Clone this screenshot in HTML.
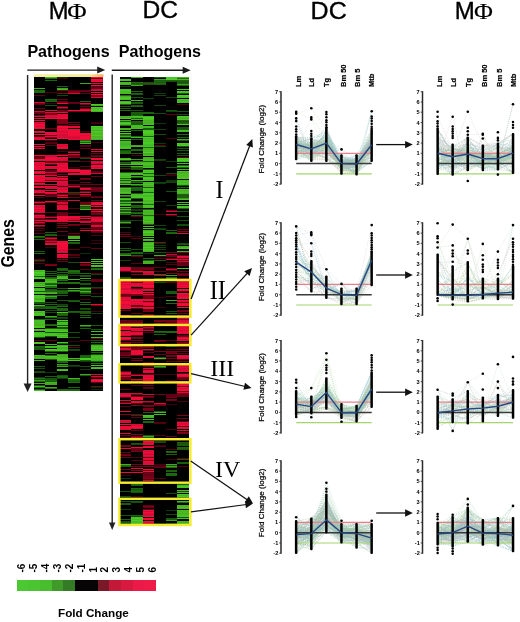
<!DOCTYPE html><html><head><meta charset="utf-8"><style>html,body{margin:0;padding:0;background:#fff}svg{display:block}</style></head><body><svg width="520" height="622" viewBox="0 0 520 622">
<style>
text{font-family:"Liberation Sans",Arial,sans-serif;fill:#000}
.tk{font-size:5.6px;font-weight:bold;text-anchor:middle}
.fc{font-size:8px;text-anchor:middle;stroke:#000;stroke-width:0.22px}
.cl{font-size:7.5px;font-weight:bold;stroke:#000;stroke-width:0.2px}
.ttl{stroke:#000;stroke-width:0.35px}
.phi2{font-family:"Liberation Serif",serif;stroke-width:0.1px}
.phi{font-family:"Liberation Serif",serif;font-size:24.5px}
.path{font-size:15.5px;font-weight:bold}
.rn{font-family:"Liberation Serif",serif;font-size:24px}
.lg{font-size:10px;font-weight:bold}
</style>
<defs><filter id="bl" x="-5%" y="-2%" width="110%" height="104%"><feGaussianBlur stdDeviation="0.65 0.45"/></filter></defs>
<rect width="520" height="622" fill="#fff"/>
<text class="ttl" transform="translate(48.8,18.6) scale(0.99,1)" style="font-size:24px">M</text>
<text class="ttl phi2" transform="translate(67.3,18.9) scale(1.13,1)" style="font-size:23.5px">Φ</text>
<text class="ttl" transform="translate(142.4,18.1) scale(1.07,1)" style="font-size:23px">DC</text>
<text class="ttl" transform="translate(310.6,18.6) scale(1.06,1)" style="font-size:23.6px">DC</text>
<text class="ttl" transform="translate(454.8,19) scale(1.0,1)" style="font-size:24px">M</text>
<text class="ttl phi2" transform="translate(474.0,19.4) scale(1.1,1)" style="font-size:23.5px">Φ</text>
<text class="path" transform="translate(27.4,56.9) scale(0.975,1)" style="font-size:16.5px">Pathogens</text>
<text class="path" transform="translate(118.8,56.9) scale(0.975,1)" style="font-size:16.5px">Pathogens</text>
<line x1="27.3" y1="70.1" x2="98.2" y2="70.1" stroke="#1a1a1a" stroke-width="1.40"/><polygon points="105.2,70.1 97.2,73.6 97.2,66.6" fill="#1a1a1a"/>
<line x1="111.8" y1="70.3" x2="183.7" y2="70.3" stroke="#1a1a1a" stroke-width="1.40"/><polygon points="190.7,70.3 182.7,73.8 182.7,66.8" fill="#1a1a1a"/>
<line x1="27.6" y1="75.0" x2="27.6" y2="384.5" stroke="#222" stroke-width="1.40"/><polygon points="27.6,392.0 23.6,383.5 31.6,383.5" fill="#222"/>
<line x1="112.2" y1="74.4" x2="112.2" y2="523.5" stroke="#222" stroke-width="1.40"/><polygon points="112.2,530.0 109.0,522.5 115.4,522.5" fill="#222"/>
<text class="path" style="font-size:17.6px" transform="translate(13.9,267.6) rotate(-90) scale(0.9,1)">Genes</text>
<linearGradient id="yb" x1="0" x2="1" y1="0" y2="0"><stop offset="0" stop-color="#f4f0a4"/><stop offset="0.8" stop-color="#f4ec90"/><stop offset="1" stop-color="#f2b060"/></linearGradient>
<rect x="33.8" y="74.2" width="69.6" height="2.8" fill="url(#yb)"/>
<g shape-rendering="crispEdges" filter="url(#bl)"><path fill="#050303" d="M34 77h11v1h-11zM34 78h11v1h-11zM34 79h11v1h-11zM34 80h11v1h-11zM45 79h12v1h-12zM57 79h11v1h-11zM57 80h11v1h-11zM68 77h12v1h-12zM68 78h12v1h-12zM68 79h12v1h-12zM68 80h12v1h-12zM80 77h11v1h-11zM80 78h11v1h-11zM80 79h11v1h-11zM80 80h11v1h-11zM34 81h11v1h-11zM34 82h11v1h-11zM34 83h11v1h-11zM34 84h11v1h-11zM34 85h11v1h-11zM45 81h12v1h-12zM45 82h12v1h-12zM45 83h12v1h-12zM45 84h12v1h-12zM45 85h12v1h-12zM57 81h11v1h-11zM57 82h11v1h-11zM57 83h11v1h-11zM57 84h11v1h-11zM57 85h11v1h-11zM68 81h12v1h-12zM68 82h12v1h-12zM68 83h12v1h-12zM68 84h12v1h-12zM68 85h12v1h-12zM80 81h11v1h-11zM80 82h11v1h-11zM80 84h11v1h-11zM80 85h11v1h-11zM91 82h12v1h-12zM91 84h12v1h-12zM34 86h11v1h-11zM34 87h11v1h-11zM34 89h11v1h-11zM45 86h12v1h-12zM45 87h12v1h-12zM45 88h12v1h-12zM45 89h12v1h-12zM57 87h11v1h-11zM68 86h12v1h-12zM68 87h12v1h-12zM68 88h12v1h-12zM68 89h12v1h-12zM80 86h11v1h-11zM80 87h11v1h-11zM80 88h11v1h-11zM80 89h11v1h-11zM34 93h11v1h-11zM34 94h11v1h-11zM45 90h12v1h-12zM45 91h12v1h-12zM45 93h12v1h-12zM45 94h12v1h-12zM57 91h11v1h-11zM57 92h11v1h-11zM57 94h11v1h-11zM68 94h12v1h-12zM80 92h11v1h-11zM80 94h11v1h-11zM91 91h12v1h-12zM91 93h12v1h-12zM34 96h11v1h-11zM34 97h11v1h-11zM45 95h12v1h-12zM45 96h12v1h-12zM45 97h12v1h-12zM57 96h11v1h-11zM57 97h11v1h-11zM68 95h12v1h-12zM68 96h12v1h-12zM68 97h12v1h-12zM80 95h11v1h-11zM80 96h11v1h-11zM80 97h11v1h-11zM34 98h11v1h-11zM34 99h11v1h-11zM34 100h11v1h-11zM34 101h11v1h-11zM45 98h12v1h-12zM57 98h11v1h-11zM57 100h11v1h-11zM68 98h12v1h-12zM68 99h12v1h-12zM68 100h12v1h-12zM68 101h12v1h-12zM80 98h11v1h-11zM80 99h11v1h-11zM80 100h11v1h-11zM91 98h12v1h-12zM91 99h12v1h-12zM91 100h12v1h-12zM91 101h12v1h-12zM45 102h12v1h-12zM80 102h11v1h-11zM91 102h12v1h-12zM91 103h12v1h-12zM34 105h11v1h-11zM34 106h11v1h-11zM34 107h11v1h-11zM34 109h11v1h-11zM45 104h12v1h-12zM45 106h12v1h-12zM45 107h12v1h-12zM45 108h12v1h-12zM45 109h12v1h-12zM57 104h11v1h-11zM57 105h11v1h-11zM57 109h11v1h-11zM68 104h12v1h-12zM68 105h12v1h-12zM68 106h12v1h-12zM68 107h12v1h-12zM68 108h12v1h-12zM68 109h12v1h-12zM80 105h11v1h-11zM80 107h11v1h-11zM91 106h12v1h-12zM34 110h11v1h-11zM45 111h12v1h-12zM34 114h11v1h-11zM57 113h11v1h-11zM68 112h12v1h-12zM68 113h12v1h-12zM68 114h12v1h-12zM68 115h12v1h-12zM80 112h11v1h-11zM80 113h11v1h-11zM80 114h11v1h-11zM80 115h11v1h-11zM91 112h12v1h-12zM91 113h12v1h-12zM91 114h12v1h-12zM91 115h12v1h-12zM34 117h11v1h-11zM34 119h11v1h-11zM45 119h12v1h-12zM68 116h12v1h-12zM68 117h12v1h-12zM68 118h12v1h-12zM68 119h12v1h-12zM80 116h11v1h-11zM80 117h11v1h-11zM80 118h11v1h-11zM80 119h11v1h-11zM91 116h12v1h-12zM91 117h12v1h-12zM91 118h12v1h-12zM91 119h12v1h-12zM34 121h11v1h-11zM45 120h12v1h-12zM45 121h12v1h-12zM45 122h12v1h-12zM45 123h12v1h-12zM45 124h12v1h-12zM45 125h12v1h-12zM57 124h11v1h-11zM68 120h12v1h-12zM68 121h12v1h-12zM68 123h12v1h-12zM68 125h12v1h-12zM80 120h11v1h-11zM80 121h11v1h-11zM80 122h11v1h-11zM80 123h11v1h-11zM80 124h11v1h-11zM80 125h11v1h-11zM91 120h12v1h-12zM91 121h12v1h-12zM91 124h12v1h-12zM91 125h12v1h-12zM34 129h11v1h-11zM34 130h11v1h-11zM45 126h12v1h-12zM45 127h12v1h-12zM45 130h12v1h-12zM45 131h12v1h-12zM68 128h12v1h-12zM80 126h11v1h-11zM80 127h11v1h-11zM80 128h11v1h-11zM80 129h11v1h-11zM80 130h11v1h-11zM34 133h11v1h-11zM34 135h11v1h-11zM45 138h12v1h-12zM57 139h11v1h-11zM80 132h11v1h-11zM34 140h11v1h-11zM34 141h11v1h-11zM34 142h11v1h-11zM34 143h11v1h-11zM45 141h12v1h-12zM57 140h11v1h-11zM57 141h11v1h-11zM57 142h11v1h-11zM57 143h11v1h-11zM68 140h12v1h-12zM68 141h12v1h-12zM68 142h12v1h-12zM68 143h12v1h-12zM91 140h12v1h-12zM91 141h12v1h-12zM91 143h12v1h-12zM34 145h11v1h-11zM45 144h12v1h-12zM45 146h12v1h-12zM45 147h12v1h-12zM45 148h12v1h-12zM68 144h12v1h-12zM68 145h12v1h-12zM68 146h12v1h-12zM68 147h12v1h-12zM68 148h12v1h-12zM80 144h11v1h-11zM80 147h11v1h-11zM91 144h12v1h-12zM91 145h12v1h-12zM91 146h12v1h-12zM91 147h12v1h-12zM91 148h12v1h-12zM34 149h11v1h-11zM34 150h11v1h-11zM34 151h11v1h-11zM34 152h11v1h-11zM34 153h11v1h-11zM34 154h11v1h-11zM45 149h12v1h-12zM45 150h12v1h-12zM45 151h12v1h-12zM45 152h12v1h-12zM45 153h12v1h-12zM45 154h12v1h-12zM57 149h11v1h-11zM57 150h11v1h-11zM57 152h11v1h-11zM57 153h11v1h-11zM68 149h12v1h-12zM68 150h12v1h-12zM68 153h12v1h-12zM80 149h11v1h-11zM80 150h11v1h-11zM80 151h11v1h-11zM80 152h11v1h-11zM80 153h11v1h-11zM80 154h11v1h-11zM91 150h12v1h-12zM91 152h12v1h-12zM91 154h12v1h-12zM57 156h11v1h-11zM80 155h11v1h-11zM80 156h11v1h-11zM91 157h12v1h-12zM34 161h11v1h-11zM68 158h12v1h-12zM68 159h12v1h-12zM68 162h12v1h-12zM80 159h11v1h-11zM80 160h11v1h-11zM80 162h11v1h-11zM91 160h12v1h-12zM45 165h12v1h-12zM68 163h12v1h-12zM68 164h12v1h-12zM68 165h12v1h-12zM68 166h12v1h-12zM68 168h12v1h-12zM80 163h11v1h-11zM80 164h11v1h-11zM80 165h11v1h-11zM80 167h11v1h-11zM80 168h11v1h-11zM34 170h11v1h-11zM34 174h11v1h-11zM45 169h12v1h-12zM57 173h11v1h-11zM91 169h12v1h-12zM91 170h12v1h-12zM91 174h12v1h-12zM45 176h12v1h-12zM57 175h11v1h-11zM68 175h12v1h-12zM68 176h12v1h-12zM68 177h12v1h-12zM80 175h11v1h-11zM80 176h11v1h-11zM80 177h11v1h-11zM91 175h12v1h-12zM91 177h12v1h-12zM45 182h12v1h-12zM45 183h12v1h-12zM68 178h12v1h-12zM68 179h12v1h-12zM68 181h12v1h-12zM68 182h12v1h-12zM68 183h12v1h-12zM80 180h11v1h-11zM80 181h11v1h-11zM80 183h11v1h-11zM91 178h12v1h-12zM91 179h12v1h-12zM91 180h12v1h-12zM91 181h12v1h-12zM91 182h12v1h-12zM91 183h12v1h-12zM34 185h11v1h-11zM45 185h12v1h-12zM80 185h11v1h-11zM80 186h11v1h-11zM91 185h12v1h-12zM91 186h12v1h-12zM34 188h11v1h-11zM45 189h12v1h-12zM45 191h12v1h-12zM68 188h12v1h-12zM68 189h12v1h-12zM68 190h12v1h-12zM68 191h12v1h-12zM80 190h11v1h-11zM91 192h12v1h-12zM34 194h11v1h-11zM34 196h11v1h-11zM57 193h11v1h-11zM68 195h12v1h-12zM68 196h12v1h-12zM80 193h11v1h-11zM91 193h12v1h-12zM91 194h12v1h-12zM91 195h12v1h-12zM34 198h11v1h-11zM34 199h11v1h-11zM34 200h11v1h-11zM45 197h12v1h-12zM45 198h12v1h-12zM45 199h12v1h-12zM45 200h12v1h-12zM57 198h11v1h-11zM57 199h11v1h-11zM68 198h12v1h-12zM68 199h12v1h-12zM80 197h11v1h-11zM80 198h11v1h-11zM80 199h11v1h-11zM80 200h11v1h-11zM91 198h12v1h-12zM91 199h12v1h-12zM34 204h11v1h-11zM45 203h12v1h-12zM45 204h12v1h-12zM68 201h12v1h-12zM68 202h12v1h-12zM68 203h12v1h-12zM68 204h12v1h-12zM80 201h11v1h-11zM91 201h12v1h-12zM45 205h12v1h-12zM45 206h12v1h-12zM45 207h12v1h-12zM45 208h12v1h-12zM45 209h12v1h-12zM68 205h12v1h-12zM68 206h12v1h-12zM68 207h12v1h-12zM68 209h12v1h-12zM91 207h12v1h-12zM91 208h12v1h-12zM34 213h11v1h-11zM45 210h12v1h-12zM45 211h12v1h-12zM45 213h12v1h-12zM45 214h12v1h-12zM45 215h12v1h-12zM57 210h11v1h-11zM57 211h11v1h-11zM68 210h12v1h-12zM68 211h12v1h-12zM68 212h12v1h-12zM68 214h12v1h-12zM68 215h12v1h-12zM80 210h11v1h-11zM80 211h11v1h-11zM80 212h11v1h-11zM80 213h11v1h-11zM80 214h11v1h-11zM80 215h11v1h-11zM91 215h12v1h-12zM45 218h12v1h-12zM80 219h11v1h-11zM34 224h11v1h-11zM45 222h12v1h-12zM45 223h12v1h-12zM45 224h12v1h-12zM45 225h12v1h-12zM45 226h12v1h-12zM57 222h11v1h-11zM57 224h11v1h-11zM57 226h11v1h-11zM68 222h12v1h-12zM68 223h12v1h-12zM68 226h12v1h-12zM80 223h11v1h-11zM80 225h11v1h-11zM80 226h11v1h-11zM34 227h11v1h-11zM34 229h11v1h-11zM34 231h11v1h-11zM45 227h12v1h-12zM45 228h12v1h-12zM45 229h12v1h-12zM45 230h12v1h-12zM45 231h12v1h-12zM57 228h11v1h-11zM57 229h11v1h-11zM57 230h11v1h-11zM68 227h12v1h-12zM68 228h12v1h-12zM68 229h12v1h-12zM68 230h12v1h-12zM68 231h12v1h-12zM80 227h11v1h-11zM80 229h11v1h-11zM80 231h11v1h-11zM34 232h11v1h-11zM34 234h11v1h-11zM34 235h11v1h-11zM45 233h12v1h-12zM57 232h11v1h-11zM57 233h11v1h-11zM57 234h11v1h-11zM68 232h12v1h-12zM68 234h12v1h-12zM80 232h11v1h-11zM80 233h11v1h-11zM80 234h11v1h-11zM80 235h11v1h-11zM91 233h12v1h-12zM91 234h12v1h-12zM34 238h11v1h-11zM34 240h11v1h-11zM45 236h12v1h-12zM57 236h11v1h-11zM57 237h11v1h-11zM57 238h11v1h-11zM57 239h11v1h-11zM57 240h11v1h-11zM68 239h12v1h-12zM80 236h11v1h-11zM80 237h11v1h-11zM80 238h11v1h-11zM80 239h11v1h-11zM80 240h11v1h-11zM91 236h12v1h-12zM91 237h12v1h-12zM91 238h12v1h-12zM91 239h12v1h-12zM34 241h11v1h-11zM34 242h11v1h-11zM34 243h11v1h-11zM34 244h11v1h-11zM68 241h12v1h-12zM68 244h12v1h-12zM80 241h11v1h-11zM80 242h11v1h-11zM80 243h11v1h-11zM80 244h11v1h-11zM91 241h12v1h-12zM91 242h12v1h-12zM91 244h12v1h-12zM34 245h11v1h-11zM34 246h11v1h-11zM34 247h11v1h-11zM34 248h11v1h-11zM34 249h11v1h-11zM45 245h12v1h-12zM45 246h12v1h-12zM45 248h12v1h-12zM45 249h12v1h-12zM68 245h12v1h-12zM68 246h12v1h-12zM68 247h12v1h-12zM68 248h12v1h-12zM80 245h11v1h-11zM80 246h11v1h-11zM80 248h11v1h-11zM80 249h11v1h-11zM91 245h12v1h-12zM91 246h12v1h-12zM91 247h12v1h-12zM91 249h12v1h-12zM34 250h11v1h-11zM34 252h11v1h-11zM45 250h12v1h-12zM45 251h12v1h-12zM45 252h12v1h-12zM45 253h12v1h-12zM57 253h11v1h-11zM68 250h12v1h-12zM68 251h12v1h-12zM68 252h12v1h-12zM68 253h12v1h-12zM80 250h11v1h-11zM80 251h11v1h-11zM80 252h11v1h-11zM91 250h12v1h-12zM91 251h12v1h-12zM91 252h12v1h-12zM91 253h12v1h-12zM34 254h11v1h-11zM34 255h11v1h-11zM34 256h11v1h-11zM34 257h11v1h-11zM34 258h11v1h-11zM45 254h12v1h-12zM45 255h12v1h-12zM45 256h12v1h-12zM45 257h12v1h-12zM45 258h12v1h-12zM57 258h11v1h-11zM68 256h12v1h-12zM68 258h12v1h-12zM80 254h11v1h-11zM80 255h11v1h-11zM80 256h11v1h-11zM80 257h11v1h-11zM80 258h11v1h-11zM91 254h12v1h-12zM91 255h12v1h-12zM91 256h12v1h-12zM91 257h12v1h-12zM91 258h12v1h-12zM45 259h12v1h-12zM45 260h12v1h-12zM45 261h12v1h-12zM57 260h11v1h-11zM68 259h12v1h-12zM68 260h12v1h-12zM68 261h12v1h-12zM80 259h11v1h-11zM80 260h11v1h-11zM80 261h11v1h-11zM91 260h12v1h-12zM34 262h11v1h-11zM34 264h11v1h-11zM34 265h11v1h-11zM45 262h12v1h-12zM45 263h12v1h-12zM57 262h11v1h-11zM57 263h11v1h-11zM57 264h11v1h-11zM57 265h11v1h-11zM68 263h12v1h-12zM68 264h12v1h-12zM68 265h12v1h-12zM80 263h11v1h-11zM91 262h12v1h-12zM91 264h12v1h-12zM34 266h11v1h-11zM34 267h11v1h-11zM34 268h11v1h-11zM34 269h11v1h-11zM45 266h12v1h-12zM45 267h12v1h-12zM45 268h12v1h-12zM45 269h12v1h-12zM57 266h11v1h-11zM57 267h11v1h-11zM68 266h12v1h-12zM68 267h12v1h-12zM68 268h12v1h-12zM68 269h12v1h-12zM80 266h11v1h-11zM80 267h11v1h-11zM80 268h11v1h-11zM91 267h12v1h-12zM45 270h12v1h-12zM45 272h12v1h-12zM45 274h12v1h-12zM57 271h11v1h-11zM57 273h11v1h-11zM68 274h12v1h-12zM80 270h11v1h-11zM80 271h11v1h-11zM80 272h11v1h-11zM80 274h11v1h-11zM91 270h12v1h-12zM91 271h12v1h-12zM91 272h12v1h-12zM45 276h12v1h-12zM68 276h12v1h-12zM68 277h12v1h-12zM68 278h12v1h-12zM80 277h11v1h-11zM91 275h12v1h-12zM91 276h12v1h-12zM91 277h12v1h-12zM91 278h12v1h-12zM34 279h11v1h-11zM34 280h11v1h-11zM34 281h11v1h-11zM57 281h11v1h-11zM68 280h12v1h-12zM68 281h12v1h-12zM80 279h11v1h-11zM80 281h11v1h-11zM80 282h11v1h-11zM91 282h12v1h-12zM91 283h12v1h-12zM34 287h11v1h-11zM57 284h11v1h-11zM57 285h11v1h-11zM57 286h11v1h-11zM57 287h11v1h-11zM68 284h12v1h-12zM68 285h12v1h-12zM68 286h12v1h-12zM68 287h12v1h-12zM80 285h11v1h-11zM80 286h11v1h-11zM91 284h12v1h-12zM91 285h12v1h-12zM91 286h12v1h-12zM45 288h12v1h-12zM57 289h11v1h-11zM68 289h12v1h-12zM68 292h12v1h-12zM91 289h12v1h-12zM91 290h12v1h-12zM91 291h12v1h-12zM91 292h12v1h-12zM34 294h11v1h-11zM45 294h12v1h-12zM57 294h11v1h-11zM57 296h11v1h-11zM68 293h12v1h-12zM68 294h12v1h-12zM68 295h12v1h-12zM68 296h12v1h-12zM80 294h11v1h-11zM80 296h11v1h-11zM91 294h12v1h-12zM91 295h12v1h-12zM45 299h12v1h-12zM45 300h12v1h-12zM45 301h12v1h-12zM57 297h11v1h-11zM57 298h11v1h-11zM57 299h11v1h-11zM57 301h11v1h-11zM68 297h12v1h-12zM68 298h12v1h-12zM68 299h12v1h-12zM80 297h11v1h-11zM80 298h11v1h-11zM80 300h11v1h-11zM80 301h11v1h-11zM91 297h12v1h-12zM91 298h12v1h-12zM91 299h12v1h-12zM91 300h12v1h-12zM91 301h12v1h-12zM34 304h11v1h-11zM45 303h12v1h-12zM45 305h12v1h-12zM57 302h11v1h-11zM57 303h11v1h-11zM68 302h12v1h-12zM68 303h12v1h-12zM68 304h12v1h-12zM68 305h12v1h-12zM80 303h11v1h-11zM80 305h11v1h-11zM91 302h12v1h-12zM91 303h12v1h-12zM34 309h11v1h-11zM34 310h11v1h-11zM45 309h12v1h-12zM57 307h11v1h-11zM68 306h12v1h-12zM68 307h12v1h-12zM68 308h12v1h-12zM68 309h12v1h-12zM68 310h12v1h-12zM80 306h11v1h-11zM80 307h11v1h-11zM80 310h11v1h-11zM91 306h12v1h-12zM91 307h12v1h-12zM91 308h12v1h-12zM91 309h12v1h-12zM91 310h12v1h-12zM45 311h12v1h-12zM45 313h12v1h-12zM45 314h12v1h-12zM45 315h12v1h-12zM57 311h11v1h-11zM68 313h12v1h-12zM68 314h12v1h-12zM68 315h12v1h-12zM80 314h11v1h-11zM91 312h12v1h-12zM91 314h12v1h-12zM91 315h12v1h-12zM34 316h11v1h-11zM34 317h11v1h-11zM34 318h11v1h-11zM45 318h12v1h-12zM57 316h11v1h-11zM57 319h11v1h-11zM68 316h12v1h-12zM68 317h12v1h-12zM68 318h12v1h-12zM68 319h12v1h-12zM80 316h11v1h-11zM80 318h11v1h-11zM80 319h11v1h-11zM91 316h12v1h-12zM91 317h12v1h-12zM91 318h12v1h-12zM91 319h12v1h-12zM45 320h12v1h-12zM45 321h12v1h-12zM45 322h12v1h-12zM45 323h12v1h-12zM68 320h12v1h-12zM68 321h12v1h-12zM68 322h12v1h-12zM68 323h12v1h-12zM68 324h12v1h-12zM80 320h11v1h-11zM80 321h11v1h-11zM80 322h11v1h-11zM80 323h11v1h-11zM80 324h11v1h-11zM91 320h12v1h-12zM91 321h12v1h-12zM91 322h12v1h-12zM91 323h12v1h-12zM91 324h12v1h-12zM34 328h11v1h-11zM45 326h12v1h-12zM45 327h12v1h-12zM68 325h12v1h-12zM68 326h12v1h-12zM68 327h12v1h-12zM68 328h12v1h-12zM80 327h11v1h-11zM91 326h12v1h-12zM91 327h12v1h-12zM91 328h12v1h-12zM34 331h11v1h-11zM68 329h12v1h-12zM68 330h12v1h-12zM68 331h12v1h-12zM68 333h12v1h-12zM80 329h11v1h-11zM80 330h11v1h-11zM80 331h11v1h-11zM80 332h11v1h-11zM80 333h11v1h-11zM91 330h12v1h-12zM91 332h12v1h-12zM91 333h12v1h-12zM45 337h12v1h-12zM68 334h12v1h-12zM68 335h12v1h-12zM68 336h12v1h-12zM80 334h11v1h-11zM80 335h11v1h-11zM80 336h11v1h-11zM80 337h11v1h-11zM91 335h12v1h-12zM91 336h12v1h-12zM34 338h11v1h-11zM34 339h11v1h-11zM34 341h11v1h-11zM45 338h12v1h-12zM45 339h12v1h-12zM45 341h12v1h-12zM57 338h11v1h-11zM57 339h11v1h-11zM57 340h11v1h-11zM57 341h11v1h-11zM68 338h12v1h-12zM68 339h12v1h-12zM68 340h12v1h-12zM80 338h11v1h-11zM80 339h11v1h-11zM80 341h11v1h-11zM91 339h12v1h-12zM91 341h12v1h-12zM34 344h11v1h-11zM34 345h11v1h-11zM45 342h12v1h-12zM45 343h12v1h-12zM45 345h12v1h-12zM57 344h11v1h-11zM68 342h12v1h-12zM68 343h12v1h-12zM68 344h12v1h-12zM80 342h11v1h-11zM80 343h11v1h-11zM80 344h11v1h-11zM80 345h11v1h-11zM91 343h12v1h-12zM34 350h11v1h-11zM45 348h12v1h-12zM68 346h12v1h-12zM68 348h12v1h-12zM80 346h11v1h-11zM80 347h11v1h-11zM80 348h11v1h-11zM80 349h11v1h-11zM80 350h11v1h-11zM34 351h11v1h-11zM34 352h11v1h-11zM34 353h11v1h-11zM34 354h11v1h-11zM45 352h12v1h-12zM45 354h12v1h-12zM57 352h11v1h-11zM57 353h11v1h-11zM68 351h12v1h-12zM68 352h12v1h-12zM68 353h12v1h-12zM68 354h12v1h-12zM80 351h11v1h-11zM80 352h11v1h-11zM80 353h11v1h-11zM80 354h11v1h-11zM91 351h12v1h-12zM91 353h12v1h-12zM68 355h12v1h-12zM68 356h12v1h-12zM68 357h12v1h-12zM34 359h11v1h-11zM45 360h12v1h-12zM34 361h11v1h-11zM34 362h11v1h-11zM34 363h11v1h-11zM34 364h11v1h-11zM45 361h12v1h-12zM45 362h12v1h-12zM45 363h12v1h-12zM45 364h12v1h-12zM57 363h11v1h-11zM68 361h12v1h-12zM68 362h12v1h-12zM68 363h12v1h-12zM68 364h12v1h-12zM80 362h11v1h-11zM80 363h11v1h-11zM80 364h11v1h-11zM91 362h12v1h-12zM91 364h12v1h-12zM34 365h11v1h-11zM34 367h11v1h-11zM45 365h12v1h-12zM45 366h12v1h-12zM45 367h12v1h-12zM45 368h12v1h-12zM57 367h11v1h-11zM57 368h11v1h-11zM68 367h12v1h-12zM68 368h12v1h-12zM80 365h11v1h-11zM80 367h11v1h-11zM80 368h11v1h-11zM91 366h12v1h-12zM34 369h11v1h-11zM34 370h11v1h-11zM34 373h11v1h-11zM45 369h12v1h-12zM45 370h12v1h-12zM45 371h12v1h-12zM45 373h12v1h-12zM57 371h11v1h-11zM57 372h11v1h-11zM57 373h11v1h-11zM68 369h12v1h-12zM68 370h12v1h-12zM68 371h12v1h-12zM68 372h12v1h-12zM68 373h12v1h-12zM80 370h11v1h-11zM80 371h11v1h-11zM80 372h11v1h-11zM80 373h11v1h-11zM91 369h12v1h-12zM91 370h12v1h-12zM91 371h12v1h-12zM91 372h12v1h-12zM91 373h12v1h-12zM34 374h11v1h-11zM34 375h11v1h-11zM34 376h11v1h-11zM45 374h12v1h-12zM45 375h12v1h-12zM45 377h12v1h-12zM57 374h11v1h-11zM68 374h12v1h-12zM68 375h12v1h-12zM68 376h12v1h-12zM68 377h12v1h-12zM80 376h11v1h-11zM80 377h11v1h-11zM91 375h12v1h-12zM34 382h11v1h-11zM57 379h11v1h-11zM57 380h11v1h-11zM57 381h11v1h-11zM57 382h11v1h-11zM80 378h11v1h-11zM80 379h11v1h-11zM80 380h11v1h-11zM80 381h11v1h-11zM80 382h11v1h-11zM91 378h12v1h-12zM34 384h11v1h-11zM45 385h12v1h-12zM45 386h12v1h-12zM57 383h11v1h-11zM57 384h11v1h-11zM57 385h11v1h-11zM57 386h11v1h-11zM68 383h12v1h-12zM68 384h12v1h-12zM68 385h12v1h-12zM68 386h12v1h-12zM80 383h11v1h-11zM80 384h11v1h-11zM80 385h11v1h-11zM80 386h11v1h-11zM91 383h12v1h-12zM91 384h12v1h-12zM91 385h12v1h-12zM34 388h11v1h-11zM45 389h12v1h-12zM45 390h12v1h-12zM57 387h11v1h-11zM57 388h11v1h-11zM68 388h12v1h-12zM80 387h11v1h-11zM80 388h11v1h-11zM80 389h11v1h-11zM80 390h11v1h-11zM91 388h12v1h-12zM91 390h12v1h-12z"/>
<path fill="#41b923" d="M45 77h12v1h-12zM80 143h11v1h-11zM34 282h11v1h-11zM45 282h12v1h-12zM68 279h12v1h-12zM45 285h12v1h-12zM80 288h11v1h-11zM80 291h11v1h-11zM57 323h11v1h-11zM45 344h12v1h-12zM45 347h12v1h-12zM91 349h12v1h-12zM91 358h12v1h-12zM57 369h11v1h-11zM45 382h12v1h-12zM68 378h12v1h-12z"/>
<path fill="#19690f" d="M45 78h12v1h-12zM45 80h12v1h-12zM34 90h11v1h-11zM34 92h11v1h-11zM80 140h11v1h-11zM80 142h11v1h-11zM34 239h11v1h-11zM57 269h11v1h-11zM91 268h12v1h-12zM45 273h12v1h-12zM57 272h11v1h-11zM68 270h12v1h-12zM80 273h11v1h-11zM34 276h11v1h-11zM80 287h11v1h-11zM57 291h11v1h-11zM68 291h12v1h-12zM80 302h11v1h-11zM45 308h12v1h-12zM57 309h11v1h-11zM57 310h11v1h-11zM68 311h12v1h-12zM34 319h11v1h-11zM57 343h11v1h-11zM34 346h11v1h-11zM80 356h11v1h-11zM57 361h11v1h-11zM57 376h11v1h-11zM57 377h11v1h-11zM34 381h11v1h-11zM45 380h12v1h-12zM34 387h11v1h-11zM68 387h12v1h-12zM68 390h12v1h-12z"/>
<path fill="#0f2d0f" d="M57 77h11v1h-11zM80 253h11v1h-11zM91 389h12v1h-12z"/>
<path fill="#41050f" d="M57 78h11v1h-11zM45 103h12v1h-12zM45 129h12v1h-12zM91 142h12v1h-12zM57 151h11v1h-11zM68 167h12v1h-12zM68 180h12v1h-12zM68 213h12v1h-12zM91 311h12v1h-12z"/>
<path fill="#eb0f41" d="M91 77h12v1h-12zM68 130h12v1h-12zM45 132h12v1h-12zM91 165h12v1h-12zM34 175h11v1h-11zM34 179h11v1h-11zM34 181h11v1h-11zM57 181h11v1h-11zM34 215h11v1h-11z"/>
<path fill="#5f0519" d="M91 78h12v1h-12zM91 86h12v1h-12zM91 87h12v1h-12zM68 90h12v1h-12zM80 90h11v1h-11zM80 93h11v1h-11zM34 95h11v1h-11zM57 99h11v1h-11zM57 101h11v1h-11zM68 102h12v1h-12zM68 103h12v1h-12zM34 104h11v1h-11zM57 106h11v1h-11zM34 113h11v1h-11zM34 136h11v1h-11zM34 147h11v1h-11zM80 145h11v1h-11zM80 148h11v1h-11zM57 154h11v1h-11zM68 156h12v1h-12zM91 155h12v1h-12zM34 158h11v1h-11zM57 161h11v1h-11zM80 166h11v1h-11zM45 170h12v1h-12zM45 171h12v1h-12zM91 171h12v1h-12zM91 172h12v1h-12zM57 177h11v1h-11zM91 176h12v1h-12zM80 179h11v1h-11zM57 186h11v1h-11zM68 185h12v1h-12zM68 187h12v1h-12zM80 184h11v1h-11zM91 187h12v1h-12zM34 189h11v1h-11zM91 190h12v1h-12zM91 191h12v1h-12zM34 193h11v1h-11zM45 194h12v1h-12zM45 195h12v1h-12zM91 200h12v1h-12zM34 203h11v1h-11zM91 205h12v1h-12zM34 214h11v1h-11zM57 212h11v1h-11zM57 215h11v1h-11zM91 210h12v1h-12zM91 214h12v1h-12zM34 221h11v1h-11zM45 216h12v1h-12zM80 217h11v1h-11zM68 225h12v1h-12zM91 227h12v1h-12zM91 229h12v1h-12zM68 233h12v1h-12zM68 235h12v1h-12zM45 239h12v1h-12zM91 248h12v1h-12zM91 279h12v1h-12zM91 281h12v1h-12zM45 340h12v1h-12zM91 338h12v1h-12zM91 377h12v1h-12z"/>
<path fill="#f50f37" d="M91 79h12v1h-12zM91 81h12v1h-12zM91 92h12v1h-12zM68 110h12v1h-12zM80 110h11v1h-11zM45 118h12v1h-12zM57 118h11v1h-11zM34 124h11v1h-11zM34 127h11v1h-11zM34 131h11v1h-11zM57 126h11v1h-11zM57 127h11v1h-11zM68 131h12v1h-12zM34 134h11v1h-11zM34 138h11v1h-11zM57 133h11v1h-11zM57 138h11v1h-11zM68 132h12v1h-12zM68 134h12v1h-12zM80 134h11v1h-11zM80 137h11v1h-11zM80 139h11v1h-11zM57 147h11v1h-11zM34 155h11v1h-11zM57 155h11v1h-11zM34 159h11v1h-11zM45 159h12v1h-12zM91 158h12v1h-12zM57 165h11v1h-11zM91 166h12v1h-12zM34 172h11v1h-11zM68 169h12v1h-12zM68 171h12v1h-12zM68 173h12v1h-12zM80 172h11v1h-11zM34 176h11v1h-11zM45 192h12v1h-12zM57 190h11v1h-11zM34 208h11v1h-11zM91 209h12v1h-12zM57 217h11v1h-11zM57 218h11v1h-11zM68 217h12v1h-12zM57 241h11v1h-11zM57 244h11v1h-11zM57 246h11v1h-11zM57 248h11v1h-11z"/>
<path fill="#e10f41" d="M91 80h12v1h-12zM45 133h12v1h-12zM45 136h12v1h-12zM45 139h12v1h-12zM80 138h11v1h-11zM45 157h12v1h-12zM91 162h12v1h-12zM68 174h12v1h-12zM34 191h11v1h-11zM68 216h12v1h-12zM80 218h11v1h-11zM57 251h11v1h-11zM91 381h12v1h-12z"/>
<path fill="#41a523" d="M80 83h11v1h-11zM57 88h11v1h-11zM80 278h11v1h-11zM68 290h12v1h-12zM57 354h11v1h-11zM80 374h11v1h-11z"/>
<path fill="#e10f37" d="M91 83h12v1h-12zM80 103h11v1h-11zM45 110h12v1h-12zM57 114h11v1h-11zM57 115h11v1h-11zM34 118h11v1h-11zM57 116h11v1h-11zM34 122h11v1h-11zM34 126h11v1h-11zM68 127h12v1h-12zM34 139h11v1h-11zM68 136h12v1h-12zM68 138h12v1h-12zM68 139h12v1h-12zM80 135h11v1h-11zM57 144h11v1h-11zM57 148h11v1h-11zM34 160h11v1h-11zM45 160h12v1h-12zM57 159h11v1h-11zM34 163h11v1h-11zM34 164h11v1h-11zM34 168h11v1h-11zM45 168h12v1h-12zM57 167h11v1h-11zM34 173h11v1h-11zM57 170h11v1h-11zM80 174h11v1h-11zM34 178h11v1h-11zM57 179h11v1h-11zM34 186h11v1h-11zM57 188h11v1h-11zM80 189h11v1h-11zM57 195h11v1h-11zM91 202h12v1h-12zM34 207h11v1h-11zM57 206h11v1h-11zM57 207h11v1h-11zM57 208h11v1h-11zM57 209h11v1h-11zM34 211h11v1h-11zM34 217h11v1h-11zM34 220h11v1h-11zM45 220h12v1h-12zM57 219h11v1h-11zM68 221h12v1h-12zM91 225h12v1h-12zM45 244h12v1h-12zM57 242h11v1h-11zM57 249h11v1h-11zM57 256h11v1h-11zM91 379h12v1h-12z"/>
<path fill="#f50f41" d="M91 85h12v1h-12zM45 134h12v1h-12zM34 144h11v1h-11zM45 158h12v1h-12zM34 169h11v1h-11zM57 169h11v1h-11zM80 170h11v1h-11zM91 204h12v1h-12zM34 205h11v1h-11zM57 243h11v1h-11zM57 254h11v1h-11z"/>
<path fill="#41af23" d="M34 88h11v1h-11zM91 105h12v1h-12zM80 205h11v1h-11zM45 280h12v1h-12zM34 285h11v1h-11zM45 296h12v1h-12zM57 334h11v1h-11zM57 345h11v1h-11zM91 345h12v1h-12zM34 356h11v1h-11z"/>
<path fill="#195f0f" d="M57 86h11v1h-11zM45 232h12v1h-12zM68 243h12v1h-12zM57 270h11v1h-11zM68 273h12v1h-12zM45 277h12v1h-12zM45 289h12v1h-12zM45 295h12v1h-12zM57 293h11v1h-11zM57 295h11v1h-11zM68 301h12v1h-12zM45 306h12v1h-12zM80 311h11v1h-11zM80 326h11v1h-11zM80 328h11v1h-11zM34 347h11v1h-11zM57 351h11v1h-11zM91 352h12v1h-12zM80 355h11v1h-11zM80 360h11v1h-11zM91 361h12v1h-12zM34 366h11v1h-11zM57 365h11v1h-11zM45 376h12v1h-12zM45 381h12v1h-12zM68 380h12v1h-12zM34 389h11v1h-11zM68 389h12v1h-12z"/>
<path fill="#4bb923" d="M57 89h11v1h-11zM91 133h12v1h-12zM91 134h12v1h-12zM91 266h12v1h-12zM68 288h12v1h-12zM34 323h11v1h-11zM45 333h12v1h-12zM57 329h11v1h-11zM57 330h11v1h-11zM57 333h11v1h-11zM45 350h12v1h-12zM91 347h12v1h-12zM34 357h11v1h-11zM57 357h11v1h-11zM91 355h12v1h-12zM91 356h12v1h-12zM68 358h12v1h-12z"/>
<path fill="#730519" d="M91 88h12v1h-12zM57 90h11v1h-11zM91 95h12v1h-12zM57 102h11v1h-11zM80 108h11v1h-11zM68 111h12v1h-12zM34 112h11v1h-11zM45 114h12v1h-12zM57 119h11v1h-11zM57 123h11v1h-11zM68 122h12v1h-12zM68 124h12v1h-12zM45 137h12v1h-12zM68 151h12v1h-12zM68 155h12v1h-12zM45 162h12v1h-12zM45 174h12v1h-12zM57 172h11v1h-11zM80 169h11v1h-11zM57 180h11v1h-11zM80 178h11v1h-11zM80 191h11v1h-11zM91 188h12v1h-12zM57 194h11v1h-11zM80 195h11v1h-11zM57 200h11v1h-11zM91 197h12v1h-12zM57 201h11v1h-11zM57 214h11v1h-11zM91 213h12v1h-12zM34 218h11v1h-11zM68 220h12v1h-12zM91 216h12v1h-12zM57 223h11v1h-11zM91 222h12v1h-12zM91 224h12v1h-12zM57 231h11v1h-11zM80 228h11v1h-11zM91 228h12v1h-12zM91 231h12v1h-12zM45 240h12v1h-12zM57 259h11v1h-11zM45 264h12v1h-12zM91 305h12v1h-12z"/>
<path fill="#b90f37" d="M91 89h12v1h-12z"/>
<path fill="#23690f" d="M34 91h11v1h-11zM80 207h11v1h-11zM34 253h11v1h-11zM45 283h12v1h-12zM68 283h12v1h-12zM45 286h12v1h-12zM80 304h11v1h-11zM34 306h11v1h-11zM57 306h11v1h-11zM57 314h11v1h-11zM91 342h12v1h-12zM45 353h12v1h-12zM45 355h12v1h-12zM91 363h12v1h-12zM68 379h12v1h-12zM68 382h12v1h-12zM45 388h12v1h-12zM57 390h11v1h-11z"/>
<path fill="#4b040f" d="M45 92h12v1h-12zM91 235h12v1h-12zM80 247h11v1h-11zM34 261h11v1h-11z"/>
<path fill="#7d0519" d="M57 93h11v1h-11zM68 91h12v1h-12zM68 92h12v1h-12zM91 96h12v1h-12zM34 103h11v1h-11zM80 104h11v1h-11zM57 111h11v1h-11zM45 113h12v1h-12zM57 120h11v1h-11zM57 121h11v1h-11zM57 122h11v1h-11zM57 125h11v1h-11zM45 135h12v1h-12zM68 157h12v1h-12zM80 157h11v1h-11zM91 156h12v1h-12zM57 162h11v1h-11zM80 187h11v1h-11zM91 189h12v1h-12zM45 202h12v1h-12zM57 204h11v1h-11zM80 202h11v1h-11zM80 204h11v1h-11zM34 223h11v1h-11zM34 226h11v1h-11zM57 225h11v1h-11zM68 224h12v1h-12zM57 227h11v1h-11zM45 237h12v1h-12zM45 242h12v1h-12zM45 265h12v1h-12zM80 264h11v1h-11z"/>
<path fill="#cd0f2d" d="M68 93h12v1h-12zM34 102h11v1h-11zM34 222h11v1h-11z"/>
<path fill="#690519" d="M80 91h11v1h-11zM57 108h11v1h-11zM57 110h11v1h-11zM80 111h11v1h-11zM34 115h11v1h-11zM91 153h12v1h-12zM34 156h11v1h-11zM34 157h11v1h-11zM45 161h12v1h-12zM45 164h12v1h-12zM91 164h12v1h-12zM45 173h12v1h-12zM57 174h11v1h-11zM34 182h11v1h-11zM45 180h12v1h-12zM80 182h11v1h-11zM68 184h12v1h-12zM91 184h12v1h-12zM45 196h12v1h-12zM57 196h11v1h-11zM68 193h12v1h-12zM68 194h12v1h-12zM80 196h11v1h-11zM68 197h12v1h-12zM34 201h11v1h-11zM80 203h11v1h-11zM57 213h11v1h-11zM91 212h12v1h-12zM34 219h11v1h-11zM45 219h12v1h-12zM80 220h11v1h-11zM80 224h11v1h-11zM91 223h12v1h-12zM57 261h11v1h-11zM80 265h11v1h-11zM91 280h12v1h-12zM91 382h12v1h-12z"/>
<path fill="#d70f37" d="M91 90h12v1h-12zM57 107h11v1h-11zM80 109h11v1h-11zM45 112h12v1h-12zM45 115h12v1h-12zM45 116h12v1h-12zM34 123h11v1h-11zM57 128h11v1h-11zM57 131h11v1h-11zM34 132h11v1h-11zM34 137h11v1h-11zM57 132h11v1h-11zM57 135h11v1h-11zM57 136h11v1h-11zM57 137h11v1h-11zM34 148h11v1h-11zM57 145h11v1h-11zM57 146h11v1h-11zM68 152h12v1h-12zM91 151h12v1h-12zM45 155h12v1h-12zM57 160h11v1h-11zM34 165h11v1h-11zM45 163h12v1h-12zM45 167h12v1h-12zM91 167h12v1h-12zM45 175h12v1h-12zM45 177h12v1h-12zM57 176h11v1h-11zM45 178h12v1h-12zM45 179h12v1h-12zM45 184h12v1h-12zM45 187h12v1h-12zM68 186h12v1h-12zM34 190h11v1h-11zM45 190h12v1h-12zM57 192h11v1h-11zM80 192h11v1h-11zM45 193h12v1h-12zM68 200h12v1h-12zM34 209h11v1h-11zM57 205h11v1h-11zM34 212h11v1h-11zM68 218h12v1h-12zM68 219h12v1h-12zM80 221h11v1h-11zM91 217h12v1h-12zM91 218h12v1h-12zM91 221h12v1h-12zM91 226h12v1h-12zM91 230h12v1h-12zM45 243h12v1h-12zM57 250h11v1h-11zM57 252h11v1h-11zM57 255h11v1h-11zM57 257h11v1h-11z"/>
<path fill="#eb0f37" d="M91 94h12v1h-12zM57 103h11v1h-11zM57 112h11v1h-11zM34 116h11v1h-11zM57 117h11v1h-11zM34 120h11v1h-11zM34 125h11v1h-11zM34 128h11v1h-11zM57 129h11v1h-11zM57 130h11v1h-11zM68 126h12v1h-12zM68 129h12v1h-12zM68 133h12v1h-12zM68 135h12v1h-12zM80 133h11v1h-11zM80 136h11v1h-11zM34 146h11v1h-11zM57 157h11v1h-11zM34 162h11v1h-11zM57 158h11v1h-11zM91 159h12v1h-12zM34 166h11v1h-11zM34 167h11v1h-11zM45 166h12v1h-12zM57 163h11v1h-11zM57 166h11v1h-11zM57 168h11v1h-11zM91 168h12v1h-12zM34 171h11v1h-11zM57 171h11v1h-11zM68 170h12v1h-12zM80 171h11v1h-11zM80 173h11v1h-11zM34 177h11v1h-11zM34 180h11v1h-11zM34 183h11v1h-11zM45 181h12v1h-12zM57 178h11v1h-11zM34 187h11v1h-11zM45 186h12v1h-12zM34 192h11v1h-11zM57 191h11v1h-11zM80 188h11v1h-11zM34 195h11v1h-11zM57 197h11v1h-11zM34 202h11v1h-11zM91 203h12v1h-12zM91 206h12v1h-12zM34 210h11v1h-11zM57 216h11v1h-11zM57 220h11v1h-11zM91 219h12v1h-12zM91 220h12v1h-12zM57 245h11v1h-11zM57 247h11v1h-11zM80 262h11v1h-11z"/>
<path fill="#0f4b05" d="M57 95h11v1h-11z"/>
<path fill="#cd0f37" d="M91 97h12v1h-12zM45 117h12v1h-12zM57 134h11v1h-11zM68 137h12v1h-12zM91 149h12v1h-12zM91 161h12v1h-12zM91 163h12v1h-12zM91 173h12v1h-12zM34 184h11v1h-11zM57 185h11v1h-11zM57 187h11v1h-11zM57 189h11v1h-11zM34 216h11v1h-11zM45 221h12v1h-12zM57 221h11v1h-11zM34 225h11v1h-11z"/>
<path fill="#19730f" d="M45 99h12v1h-12zM57 280h11v1h-11zM45 287h12v1h-12zM45 298h12v1h-12zM45 317h12v1h-12zM80 317h11v1h-11z"/>
<path fill="#19550f" d="M45 100h12v1h-12zM45 105h12v1h-12zM80 206h11v1h-11zM45 234h12v1h-12zM34 237h11v1h-11zM34 251h11v1h-11zM57 274h11v1h-11zM45 275h12v1h-12zM80 276h11v1h-11zM80 280h11v1h-11zM80 283h11v1h-11zM45 284h12v1h-12zM80 284h11v1h-11zM34 291h11v1h-11zM80 293h11v1h-11zM80 295h11v1h-11zM91 296h12v1h-12zM68 300h12v1h-12zM34 302h11v1h-11zM34 303h11v1h-11zM45 302h12v1h-12zM34 307h11v1h-11zM68 312h12v1h-12zM57 328h11v1h-11zM45 332h12v1h-12zM57 332h11v1h-11zM91 329h12v1h-12zM34 337h11v1h-11zM34 348h11v1h-11zM91 354h12v1h-12zM57 375h11v1h-11zM80 375h11v1h-11zM45 378h12v1h-12zM45 379h12v1h-12z"/>
<path fill="#235f19" d="M45 101h12v1h-12zM45 304h12v1h-12zM57 362h11v1h-11z"/>
<path fill="#195f19" d="M80 101h11v1h-11zM45 235h12v1h-12zM45 290h12v1h-12zM45 307h12v1h-12z"/>
<path fill="#5f0419" d="M34 108h11v1h-11z"/>
<path fill="#550519" d="M80 106h11v1h-11zM80 146h11v1h-11zM68 172h12v1h-12zM34 228h11v1h-11zM68 257h12v1h-12zM34 259h11v1h-11z"/>
<path fill="#4bcd23" d="M91 104h12v1h-12zM91 107h12v1h-12zM91 110h12v1h-12zM91 126h12v1h-12zM91 135h12v1h-12zM34 297h11v1h-11zM34 301h11v1h-11zM57 320h11v1h-11zM34 326h11v1h-11zM57 331h11v1h-11zM34 334h11v1h-11zM57 335h11v1h-11zM45 349h12v1h-12zM57 346h11v1h-11zM57 350h11v1h-11zM80 358h11v1h-11z"/>
<path fill="#4bb92d" d="M91 108h12v1h-12zM91 137h12v1h-12zM91 138h12v1h-12zM34 274h11v1h-11zM57 277h11v1h-11zM34 288h11v1h-11zM34 305h11v1h-11zM34 321h11v1h-11zM57 349h11v1h-11zM91 359h12v1h-12z"/>
<path fill="#4bcd2d" d="M91 109h12v1h-12zM34 272h11v1h-11zM34 278h11v1h-11zM91 348h12v1h-12z"/>
<path fill="#c30f2d" d="M34 111h11v1h-11zM68 154h12v1h-12z"/>
<path fill="#4baf23" d="M91 111h12v1h-12zM91 130h12v1h-12zM80 209h11v1h-11zM68 236h12v1h-12zM68 237h12v1h-12zM68 238h12v1h-12zM34 271h11v1h-11zM57 276h11v1h-11zM45 279h12v1h-12zM34 299h11v1h-11zM34 312h11v1h-11zM34 325h11v1h-11zM80 325h11v1h-11zM34 330h11v1h-11zM57 356h11v1h-11zM34 358h11v1h-11zM34 360h11v1h-11zM45 358h12v1h-12zM57 360h11v1h-11z"/>
<path fill="#370519" d="M91 122h12v1h-12zM68 341h12v1h-12z"/>
<path fill="#4b050f" d="M91 123h12v1h-12zM80 131h11v1h-11zM34 197h11v1h-11zM80 299h11v1h-11zM91 387h12v1h-12z"/>
<path fill="#5f050f" d="M45 128h12v1h-12zM68 249h12v1h-12zM68 347h12v1h-12z"/>
<path fill="#41c323" d="M91 127h12v1h-12zM34 270h11v1h-11zM34 289h11v1h-11zM34 315h11v1h-11zM34 320h11v1h-11zM34 322h11v1h-11zM57 324h11v1h-11zM34 332h11v1h-11zM91 331h12v1h-12zM34 336h11v1h-11zM91 337h12v1h-12zM45 346h12v1h-12zM45 357h12v1h-12zM34 386h11v1h-11z"/>
<path fill="#4bc323" d="M91 128h12v1h-12zM91 132h12v1h-12zM91 263h12v1h-12zM34 275h11v1h-11zM34 277h11v1h-11zM45 281h12v1h-12zM34 284h11v1h-11zM34 290h11v1h-11zM34 293h11v1h-11zM34 296h11v1h-11zM34 300h11v1h-11zM34 314h11v1h-11zM57 312h11v1h-11zM34 327h11v1h-11zM57 326h11v1h-11zM34 329h11v1h-11zM45 329h12v1h-12zM45 331h12v1h-12zM34 335h11v1h-11zM45 335h12v1h-12zM57 337h11v1h-11zM34 343h11v1h-11zM91 350h12v1h-12zM34 355h11v1h-11zM45 356h12v1h-12zM91 357h12v1h-12zM57 358h11v1h-11zM68 360h12v1h-12zM57 370h11v1h-11zM34 390h11v1h-11z"/>
<path fill="#4bc32d" d="M91 129h12v1h-12zM91 131h12v1h-12zM68 240h12v1h-12zM91 259h12v1h-12zM91 261h12v1h-12zM91 265h12v1h-12zM57 278h11v1h-11zM34 292h11v1h-11zM34 313h11v1h-11zM57 342h11v1h-11zM91 346h12v1h-12zM57 359h11v1h-11zM91 365h12v1h-12z"/>
<path fill="#55af23" d="M91 136h12v1h-12zM34 324h11v1h-11z"/>
<path fill="#41af2d" d="M91 139h12v1h-12zM57 347h11v1h-11zM91 360h12v1h-12z"/>
<path fill="#55050f" d="M45 140h12v1h-12zM45 143h12v1h-12zM80 161h11v1h-11zM68 208h12v1h-12zM68 254h12v1h-12zM68 255h12v1h-12zM34 263h11v1h-11zM80 269h11v1h-11zM91 288h12v1h-12zM80 340h11v1h-11z"/>
<path fill="#4b0519" d="M45 142h12v1h-12z"/>
<path fill="#4b9b23" d="M80 141h11v1h-11zM45 292h12v1h-12zM57 366h11v1h-11z"/>
<path fill="#55040f" d="M45 145h12v1h-12zM91 196h12v1h-12zM91 232h12v1h-12zM91 273h12v1h-12z"/>
<path fill="#cd0f41" d="M45 156h12v1h-12zM45 172h12v1h-12zM34 206h11v1h-11z"/>
<path fill="#4b0419" d="M68 160h12v1h-12z"/>
<path fill="#19410f" d="M68 161h12v1h-12zM91 287h12v1h-12zM57 304h11v1h-11zM91 313h12v1h-12zM68 350h12v1h-12z"/>
<path fill="#0f4b0f" d="M80 158h11v1h-11zM34 260h11v1h-11zM68 337h12v1h-12zM68 349h12v1h-12zM68 365h12v1h-12z"/>
<path fill="#d70f41" d="M57 164h11v1h-11zM57 182h11v1h-11zM57 183h11v1h-11zM57 184h11v1h-11zM45 188h12v1h-12zM80 216h11v1h-11z"/>
<path fill="#194b05" d="M68 192h12v1h-12z"/>
<path fill="#d70f2d" d="M80 194h11v1h-11zM91 211h12v1h-12zM91 374h12v1h-12zM91 376h12v1h-12z"/>
<path fill="#eb0f2d" d="M45 201h12v1h-12z"/>
<path fill="#c30f37" d="M57 202h11v1h-11zM45 217h12v1h-12zM80 222h11v1h-11zM45 241h12v1h-12z"/>
<path fill="#e10f2d" d="M57 203h11v1h-11zM80 230h11v1h-11zM45 238h12v1h-12zM91 304h12v1h-12z"/>
<path fill="#235f0f" d="M80 208h11v1h-11zM68 242h12v1h-12zM57 268h11v1h-11zM57 275h11v1h-11zM57 283h11v1h-11zM57 292h11v1h-11zM80 289h11v1h-11zM57 308h11v1h-11zM57 313h11v1h-11zM57 321h11v1h-11zM45 328h12v1h-12zM45 351h12v1h-12zM80 357h11v1h-11zM68 359h12v1h-12zM57 389h11v1h-11z"/>
<path fill="#5f040f" d="M45 212h12v1h-12zM34 340h11v1h-11z"/>
<path fill="#41040f" d="M34 230h11v1h-11zM45 247h12v1h-12z"/>
<path fill="#550419" d="M34 233h11v1h-11z"/>
<path fill="#370419" d="M57 235h11v1h-11z"/>
<path fill="#23730f" d="M34 236h11v1h-11zM91 269h12v1h-12zM68 271h12v1h-12zM45 278h12v1h-12zM68 282h12v1h-12zM80 292h11v1h-11zM45 325h12v1h-12zM34 378h11v1h-11z"/>
<path fill="#37050f" d="M91 240h12v1h-12zM91 293h12v1h-12z"/>
<path fill="#410519" d="M91 243h12v1h-12z"/>
<path fill="#194b0f" d="M68 262h12v1h-12zM45 312h12v1h-12zM57 317h11v1h-11zM57 325h11v1h-11zM45 336h12v1h-12zM68 345h12v1h-12zM34 368h11v1h-11zM80 366h11v1h-11zM34 371h11v1h-11z"/>
<path fill="#41cd23" d="M34 273h11v1h-11zM34 311h11v1h-11zM45 334h12v1h-12zM80 359h11v1h-11z"/>
<path fill="#23550f" d="M45 271h12v1h-12zM68 272h12v1h-12zM80 275h11v1h-11zM57 279h11v1h-11zM57 288h11v1h-11zM57 290h11v1h-11zM80 290h11v1h-11zM57 300h11v1h-11zM34 308h11v1h-11zM57 315h11v1h-11zM80 312h11v1h-11zM80 315h11v1h-11zM91 344h12v1h-12zM34 349h11v1h-11zM45 359h12v1h-12z"/>
<path fill="#19370f" d="M91 274h12v1h-12zM80 361h11v1h-11zM80 369h11v1h-11zM34 377h11v1h-11zM57 378h11v1h-11zM91 386h12v1h-12z"/>
<path fill="#0f410f" d="M68 275h12v1h-12zM57 305h11v1h-11zM57 318h11v1h-11z"/>
<path fill="#4ba523" d="M34 283h11v1h-11zM45 316h12v1h-12zM34 383h11v1h-11zM45 383h12v1h-12zM45 384h12v1h-12zM45 387h12v1h-12z"/>
<path fill="#196919" d="M57 282h11v1h-11zM45 319h12v1h-12z"/>
<path fill="#55cd23" d="M34 286h11v1h-11z"/>
<path fill="#236919" d="M45 291h12v1h-12z"/>
<path fill="#41cd2d" d="M34 295h11v1h-11z"/>
<path fill="#55af2d" d="M45 293h12v1h-12zM57 355h11v1h-11z"/>
<path fill="#4baf2d" d="M34 298h11v1h-11zM57 336h11v1h-11zM91 334h12v1h-12zM57 348h11v1h-11zM91 367h12v1h-12z"/>
<path fill="#197319" d="M45 297h12v1h-12z"/>
<path fill="#234b0f" d="M45 310h12v1h-12zM80 313h11v1h-11zM57 327h11v1h-11z"/>
<path fill="#0f550f" d="M80 308h11v1h-11zM68 332h12v1h-12zM91 340h12v1h-12z"/>
<path fill="#194105" d="M80 309h11v1h-11z"/>
<path fill="#235519" d="M45 324h12v1h-12zM91 325h12v1h-12zM34 385h11v1h-11z"/>
<path fill="#41c32d" d="M57 322h11v1h-11zM34 333h11v1h-11zM45 330h12v1h-12zM91 368h12v1h-12z"/>
<path fill="#55c323" d="M34 342h11v1h-11z"/>
<path fill="#419b23" d="M57 364h11v1h-11zM34 380h11v1h-11z"/>
<path fill="#192d0f" d="M68 366h12v1h-12z"/>
<path fill="#234b19" d="M34 372h11v1h-11z"/>
<path fill="#0f370f" d="M45 372h12v1h-12z"/>
<path fill="#195519" d="M34 379h11v1h-11zM68 381h12v1h-12z"/>
<path fill="#ff0f37" d="M91 380h12v1h-12z"/></g>
<g shape-rendering="crispEdges" filter="url(#bl)"><path fill="#050303" d="M120 77h11v1h-11zM120 78h11v1h-11zM131 78h12v1h-12zM131 79h12v1h-12zM131 80h12v1h-12zM143 77h11v1h-11zM143 78h11v1h-11zM143 79h11v1h-11zM143 80h11v1h-11zM154 78h12v1h-12zM120 81h11v1h-11zM120 85h11v1h-11zM131 81h12v1h-12zM143 81h11v1h-11zM143 85h11v1h-11zM154 85h12v1h-12zM166 82h11v1h-11zM166 83h11v1h-11zM166 84h11v1h-11zM166 85h11v1h-11zM120 87h11v1h-11zM120 88h11v1h-11zM131 86h12v1h-12zM131 87h12v1h-12zM131 88h12v1h-12zM143 86h11v1h-11zM143 87h11v1h-11zM143 88h11v1h-11zM154 86h12v1h-12zM154 87h12v1h-12zM154 88h12v1h-12zM166 86h11v1h-11zM166 87h11v1h-11zM166 88h11v1h-11zM177 86h12v1h-12zM177 87h12v1h-12zM177 88h12v1h-12zM131 89h12v1h-12zM131 90h12v1h-12zM131 92h12v1h-12zM143 89h11v1h-11zM143 90h11v1h-11zM143 91h11v1h-11zM143 92h11v1h-11zM143 93h11v1h-11zM154 89h12v1h-12zM154 90h12v1h-12zM154 91h12v1h-12zM154 92h12v1h-12zM166 89h11v1h-11zM166 90h11v1h-11zM166 91h11v1h-11zM166 92h11v1h-11zM166 93h11v1h-11zM177 90h12v1h-12zM120 94h11v1h-11zM131 95h12v1h-12zM131 96h12v1h-12zM131 98h12v1h-12zM143 94h11v1h-11zM143 95h11v1h-11zM143 96h11v1h-11zM143 97h11v1h-11zM154 94h12v1h-12zM154 96h12v1h-12zM154 97h12v1h-12zM154 98h12v1h-12zM166 94h11v1h-11zM166 95h11v1h-11zM166 96h11v1h-11zM166 98h11v1h-11zM177 94h12v1h-12zM177 98h12v1h-12zM120 100h11v1h-11zM131 99h12v1h-12zM131 101h12v1h-12zM143 99h11v1h-11zM143 100h11v1h-11zM143 101h11v1h-11zM143 102h11v1h-11zM143 103h11v1h-11zM154 99h12v1h-12zM154 100h12v1h-12zM154 101h12v1h-12zM154 102h12v1h-12zM154 103h12v1h-12zM166 99h11v1h-11zM166 100h11v1h-11zM166 101h11v1h-11zM166 102h11v1h-11zM166 103h11v1h-11zM177 103h12v1h-12zM120 105h11v1h-11zM120 107h11v1h-11zM131 104h12v1h-12zM131 107h12v1h-12zM143 104h11v1h-11zM143 105h11v1h-11zM143 106h11v1h-11zM143 107h11v1h-11zM154 104h12v1h-12zM154 106h12v1h-12zM154 107h12v1h-12zM166 104h11v1h-11zM166 105h11v1h-11zM166 106h11v1h-11zM166 107h11v1h-11zM177 105h12v1h-12zM177 106h12v1h-12zM177 107h12v1h-12zM120 109h11v1h-11zM120 111h11v1h-11zM131 108h12v1h-12zM131 109h12v1h-12zM131 111h12v1h-12zM143 108h11v1h-11zM143 109h11v1h-11zM143 110h11v1h-11zM143 111h11v1h-11zM154 108h12v1h-12zM154 109h12v1h-12zM154 110h12v1h-12zM154 111h12v1h-12zM166 108h11v1h-11zM166 109h11v1h-11zM177 108h12v1h-12zM177 109h12v1h-12zM177 110h12v1h-12zM120 112h11v1h-11zM120 113h11v1h-11zM120 114h11v1h-11zM120 115h11v1h-11zM143 114h11v1h-11zM143 115h11v1h-11zM154 112h12v1h-12zM154 114h12v1h-12zM154 115h12v1h-12zM166 112h11v1h-11zM166 113h11v1h-11zM166 115h11v1h-11zM177 112h12v1h-12zM177 113h12v1h-12zM177 115h12v1h-12zM120 119h11v1h-11zM154 116h12v1h-12zM154 117h12v1h-12zM154 118h12v1h-12zM154 119h12v1h-12zM166 116h11v1h-11zM166 117h11v1h-11zM166 118h11v1h-11zM166 119h11v1h-11zM131 120h12v1h-12zM154 120h12v1h-12zM154 121h12v1h-12zM154 122h12v1h-12zM154 124h12v1h-12zM166 120h11v1h-11zM166 121h11v1h-11zM166 122h11v1h-11zM166 123h11v1h-11zM166 124h11v1h-11zM120 126h11v1h-11zM120 127h11v1h-11zM143 125h11v1h-11zM154 125h12v1h-12zM154 126h12v1h-12zM154 127h12v1h-12zM154 128h12v1h-12zM166 125h11v1h-11zM166 126h11v1h-11zM166 127h11v1h-11zM166 128h11v1h-11zM177 125h12v1h-12zM177 126h12v1h-12zM120 130h11v1h-11zM120 132h11v1h-11zM131 129h12v1h-12zM131 131h12v1h-12zM131 132h12v1h-12zM131 133h12v1h-12zM154 130h12v1h-12zM154 131h12v1h-12zM154 132h12v1h-12zM154 133h12v1h-12zM166 129h11v1h-11zM166 130h11v1h-11zM166 131h11v1h-11zM166 132h11v1h-11zM166 133h11v1h-11zM177 132h12v1h-12zM177 133h12v1h-12zM120 138h11v1h-11zM131 134h12v1h-12zM131 135h12v1h-12zM131 138h12v1h-12zM154 135h12v1h-12zM154 136h12v1h-12zM154 137h12v1h-12zM154 138h12v1h-12zM166 134h11v1h-11zM166 135h11v1h-11zM166 136h11v1h-11zM166 137h11v1h-11zM177 135h12v1h-12zM177 136h12v1h-12zM177 138h12v1h-12zM131 140h12v1h-12zM131 141h12v1h-12zM131 142h12v1h-12zM154 139h12v1h-12zM154 140h12v1h-12zM154 141h12v1h-12zM154 142h12v1h-12zM166 139h11v1h-11zM166 140h11v1h-11zM166 141h11v1h-11zM166 142h11v1h-11zM177 141h12v1h-12zM177 142h12v1h-12zM131 143h12v1h-12zM131 144h12v1h-12zM131 147h12v1h-12zM154 144h12v1h-12zM154 147h12v1h-12zM166 143h11v1h-11zM166 144h11v1h-11zM166 145h11v1h-11zM166 146h11v1h-11zM166 147h11v1h-11zM177 147h12v1h-12zM120 149h11v1h-11zM131 148h12v1h-12zM131 151h12v1h-12zM131 152h12v1h-12zM154 148h12v1h-12zM154 149h12v1h-12zM154 150h12v1h-12zM154 151h12v1h-12zM154 152h12v1h-12zM154 153h12v1h-12zM166 148h11v1h-11zM166 149h11v1h-11zM166 150h11v1h-11zM166 151h11v1h-11zM166 152h11v1h-11zM166 153h11v1h-11zM177 149h12v1h-12zM177 151h12v1h-12zM177 152h12v1h-12zM120 154h11v1h-11zM120 155h11v1h-11zM120 156h11v1h-11zM120 157h11v1h-11zM131 154h12v1h-12zM131 156h12v1h-12zM131 157h12v1h-12zM143 156h11v1h-11zM154 154h12v1h-12zM154 155h12v1h-12zM154 156h12v1h-12zM154 157h12v1h-12zM166 154h11v1h-11zM166 155h11v1h-11zM166 156h11v1h-11zM166 157h11v1h-11zM177 154h12v1h-12zM177 156h12v1h-12zM120 161h11v1h-11zM131 158h12v1h-12zM131 160h12v1h-12zM154 158h12v1h-12zM154 161h12v1h-12zM166 158h11v1h-11zM166 159h11v1h-11zM166 160h11v1h-11zM120 165h11v1h-11zM131 165h12v1h-12zM154 162h12v1h-12zM154 163h12v1h-12zM154 164h12v1h-12zM154 165h12v1h-12zM154 166h12v1h-12zM166 162h11v1h-11zM166 163h11v1h-11zM166 164h11v1h-11zM166 165h11v1h-11zM166 166h11v1h-11zM177 162h12v1h-12zM177 164h12v1h-12zM120 167h11v1h-11zM120 170h11v1h-11zM131 170h12v1h-12zM143 168h11v1h-11zM154 167h12v1h-12zM154 168h12v1h-12zM154 169h12v1h-12zM154 170h12v1h-12zM166 168h11v1h-11zM166 169h11v1h-11zM166 170h11v1h-11zM177 168h12v1h-12zM177 170h12v1h-12zM120 171h11v1h-11zM131 171h12v1h-12zM154 171h12v1h-12zM154 172h12v1h-12zM154 173h12v1h-12zM154 174h12v1h-12zM166 171h11v1h-11zM166 172h11v1h-11zM131 175h12v1h-12zM131 178h12v1h-12zM131 179h12v1h-12zM154 176h12v1h-12zM154 177h12v1h-12zM154 178h12v1h-12zM154 179h12v1h-12zM166 176h11v1h-11zM166 177h11v1h-11zM166 178h11v1h-11zM166 179h11v1h-11zM177 179h12v1h-12zM131 183h12v1h-12zM143 181h11v1h-11zM154 180h12v1h-12zM154 181h12v1h-12zM154 184h12v1h-12zM166 183h11v1h-11zM166 184h11v1h-11zM120 185h11v1h-11zM120 186h11v1h-11zM131 186h12v1h-12zM154 185h12v1h-12zM154 186h12v1h-12zM154 187h12v1h-12zM154 188h12v1h-12zM166 185h11v1h-11zM166 186h11v1h-11zM166 187h11v1h-11zM166 188h11v1h-11zM177 186h12v1h-12zM177 188h12v1h-12zM131 191h12v1h-12zM131 192h12v1h-12zM154 189h12v1h-12zM154 190h12v1h-12zM154 191h12v1h-12zM154 192h12v1h-12zM154 193h12v1h-12zM166 189h11v1h-11zM166 190h11v1h-11zM166 192h11v1h-11zM166 193h11v1h-11zM120 194h11v1h-11zM120 197h11v1h-11zM154 194h12v1h-12zM154 195h12v1h-12zM154 196h12v1h-12zM154 197h12v1h-12zM166 194h11v1h-11zM166 195h11v1h-11zM166 196h11v1h-11zM166 197h11v1h-11zM131 199h12v1h-12zM131 200h12v1h-12zM154 198h12v1h-12zM154 199h12v1h-12zM154 200h12v1h-12zM154 202h12v1h-12zM166 198h11v1h-11zM166 199h11v1h-11zM166 200h11v1h-11zM166 201h11v1h-11zM166 202h11v1h-11zM177 200h12v1h-12zM177 201h12v1h-12zM120 206h11v1h-11zM131 203h12v1h-12zM131 204h12v1h-12zM154 203h12v1h-12zM154 204h12v1h-12zM154 205h12v1h-12zM154 206h12v1h-12zM154 207h12v1h-12zM166 203h11v1h-11zM166 204h11v1h-11zM166 206h11v1h-11zM166 207h11v1h-11zM177 203h12v1h-12zM177 205h12v1h-12zM131 208h12v1h-12zM131 211h12v1h-12zM143 208h11v1h-11zM154 208h12v1h-12zM154 209h12v1h-12zM154 210h12v1h-12zM154 211h12v1h-12zM166 208h11v1h-11zM166 209h11v1h-11zM177 209h12v1h-12zM177 210h12v1h-12zM120 215h11v1h-11zM131 214h12v1h-12zM154 212h12v1h-12zM154 213h12v1h-12zM154 215h12v1h-12zM166 212h11v1h-11zM166 213h11v1h-11zM177 212h12v1h-12zM177 213h12v1h-12zM177 214h12v1h-12zM177 215h12v1h-12zM120 216h11v1h-11zM120 217h11v1h-11zM120 218h11v1h-11zM120 219h11v1h-11zM131 217h12v1h-12zM131 218h12v1h-12zM131 219h12v1h-12zM154 216h12v1h-12zM154 217h12v1h-12zM154 218h12v1h-12zM154 219h12v1h-12zM154 220h12v1h-12zM166 216h11v1h-11zM166 217h11v1h-11zM166 218h11v1h-11zM166 219h11v1h-11zM166 220h11v1h-11zM177 217h12v1h-12zM177 218h12v1h-12zM177 219h12v1h-12zM120 224h11v1h-11zM131 221h12v1h-12zM131 222h12v1h-12zM131 223h12v1h-12zM131 224h12v1h-12zM154 221h12v1h-12zM154 222h12v1h-12zM154 223h12v1h-12zM154 224h12v1h-12zM166 221h11v1h-11zM166 222h11v1h-11zM166 223h11v1h-11zM166 224h11v1h-11zM177 221h12v1h-12zM177 222h12v1h-12zM177 223h12v1h-12zM120 225h11v1h-11zM120 226h11v1h-11zM120 228h11v1h-11zM120 229h11v1h-11zM131 225h12v1h-12zM131 226h12v1h-12zM131 227h12v1h-12zM131 228h12v1h-12zM131 229h12v1h-12zM143 225h11v1h-11zM143 227h11v1h-11zM143 229h11v1h-11zM154 226h12v1h-12zM154 227h12v1h-12zM166 225h11v1h-11zM166 226h11v1h-11zM166 227h11v1h-11zM166 228h11v1h-11zM166 229h11v1h-11zM177 226h12v1h-12zM177 227h12v1h-12zM177 228h12v1h-12zM120 230h11v1h-11zM120 231h11v1h-11zM120 233h11v1h-11zM131 230h12v1h-12zM131 231h12v1h-12zM131 232h12v1h-12zM131 233h12v1h-12zM154 230h12v1h-12zM154 231h12v1h-12zM154 232h12v1h-12zM154 233h12v1h-12zM166 231h11v1h-11zM177 230h12v1h-12zM177 232h12v1h-12zM120 235h11v1h-11zM120 237h11v1h-11zM120 238h11v1h-11zM131 234h12v1h-12zM131 235h12v1h-12zM131 237h12v1h-12zM143 236h11v1h-11zM143 238h11v1h-11zM154 234h12v1h-12zM154 235h12v1h-12zM154 236h12v1h-12zM154 237h12v1h-12zM154 238h12v1h-12zM166 234h11v1h-11zM166 235h11v1h-11zM166 236h11v1h-11zM166 237h11v1h-11zM166 238h11v1h-11zM177 234h12v1h-12zM177 235h12v1h-12zM177 236h12v1h-12zM177 237h12v1h-12zM177 238h12v1h-12zM120 239h11v1h-11zM120 240h11v1h-11zM120 241h11v1h-11zM120 243h11v1h-11zM131 239h12v1h-12zM131 240h12v1h-12zM131 241h12v1h-12zM131 242h12v1h-12zM131 243h12v1h-12zM143 241h11v1h-11zM154 239h12v1h-12zM154 240h12v1h-12zM154 241h12v1h-12zM166 239h11v1h-11zM166 240h11v1h-11zM166 241h11v1h-11zM166 242h11v1h-11zM166 243h11v1h-11zM177 239h12v1h-12zM177 240h12v1h-12zM177 241h12v1h-12zM177 242h12v1h-12zM120 244h11v1h-11zM120 245h11v1h-11zM120 246h11v1h-11zM120 247h11v1h-11zM131 244h12v1h-12zM131 245h12v1h-12zM131 246h12v1h-12zM131 247h12v1h-12zM154 244h12v1h-12zM154 246h12v1h-12zM166 244h11v1h-11zM166 245h11v1h-11zM166 246h11v1h-11zM166 247h11v1h-11zM177 245h12v1h-12zM120 249h11v1h-11zM120 251h11v1h-11zM131 248h12v1h-12zM131 250h12v1h-12zM131 251h12v1h-12zM154 248h12v1h-12zM154 250h12v1h-12zM154 251h12v1h-12zM166 248h11v1h-11zM166 249h11v1h-11zM166 250h11v1h-11zM166 251h11v1h-11zM177 249h12v1h-12zM177 250h12v1h-12zM120 252h11v1h-11zM131 254h12v1h-12zM143 252h11v1h-11zM143 254h11v1h-11zM143 255h11v1h-11zM154 253h12v1h-12zM154 254h12v1h-12zM166 253h11v1h-11zM177 253h12v1h-12zM177 254h12v1h-12zM120 256h11v1h-11zM120 257h11v1h-11zM120 258h11v1h-11zM120 259h11v1h-11zM131 257h12v1h-12zM131 258h12v1h-12zM131 259h12v1h-12zM143 256h11v1h-11zM143 257h11v1h-11zM143 259h11v1h-11zM154 257h12v1h-12zM154 259h12v1h-12zM166 257h11v1h-11zM120 261h11v1h-11zM120 262h11v1h-11zM120 263h11v1h-11zM131 260h12v1h-12zM131 261h12v1h-12zM131 262h12v1h-12zM154 261h12v1h-12zM154 262h12v1h-12zM154 263h12v1h-12zM166 260h11v1h-11zM166 261h11v1h-11zM166 263h11v1h-11zM120 264h11v1h-11zM120 265h11v1h-11zM120 266h11v1h-11zM131 264h12v1h-12zM131 265h12v1h-12zM131 266h12v1h-12zM143 264h11v1h-11zM143 265h11v1h-11zM143 266h11v1h-11zM154 264h12v1h-12zM154 265h12v1h-12zM154 266h12v1h-12zM166 265h11v1h-11zM166 266h11v1h-11zM177 266h12v1h-12zM143 270h11v1h-11zM154 268h12v1h-12zM154 269h12v1h-12zM154 270h12v1h-12zM166 267h11v1h-11zM177 267h12v1h-12zM177 269h12v1h-12zM177 270h12v1h-12zM120 272h11v1h-11zM120 273h11v1h-11zM120 274h11v1h-11zM131 273h12v1h-12zM154 272h12v1h-12zM154 273h12v1h-12zM166 271h11v1h-11zM166 272h11v1h-11zM166 274h11v1h-11zM177 272h12v1h-12zM120 275h11v1h-11zM120 276h11v1h-11zM131 275h12v1h-12zM131 276h12v1h-12zM131 277h12v1h-12zM131 278h12v1h-12zM143 275h11v1h-11zM143 276h11v1h-11zM143 277h11v1h-11zM143 278h11v1h-11zM154 276h12v1h-12zM154 277h12v1h-12zM166 276h11v1h-11zM177 276h12v1h-12zM177 277h12v1h-12zM131 279h12v1h-12zM154 279h12v1h-12zM154 280h12v1h-12zM166 279h11v1h-11zM166 280h11v1h-11zM154 281h12v1h-12zM154 283h12v1h-12zM154 284h12v1h-12zM154 285h12v1h-12zM166 281h11v1h-11zM166 283h11v1h-11zM166 284h11v1h-11zM166 285h11v1h-11zM131 287h12v1h-12zM154 286h12v1h-12zM154 287h12v1h-12zM154 288h12v1h-12zM154 289h12v1h-12zM166 286h11v1h-11zM166 287h11v1h-11zM166 288h11v1h-11zM166 289h11v1h-11zM177 288h12v1h-12zM143 291h11v1h-11zM154 290h12v1h-12zM154 291h12v1h-12zM154 292h12v1h-12zM154 293h12v1h-12zM166 290h11v1h-11zM177 292h12v1h-12zM131 296h12v1h-12zM131 297h12v1h-12zM131 298h12v1h-12zM154 294h12v1h-12zM154 295h12v1h-12zM154 296h12v1h-12zM154 298h12v1h-12zM166 294h11v1h-11zM166 295h11v1h-11zM166 297h11v1h-11zM166 298h11v1h-11zM154 299h12v1h-12zM154 300h12v1h-12zM154 301h12v1h-12zM154 302h12v1h-12zM154 303h12v1h-12zM154 304h12v1h-12zM166 299h11v1h-11zM166 301h11v1h-11zM166 302h11v1h-11zM166 304h11v1h-11zM177 299h12v1h-12zM154 305h12v1h-12zM154 306h12v1h-12zM154 308h12v1h-12zM166 305h11v1h-11zM166 306h11v1h-11zM166 307h11v1h-11zM166 308h11v1h-11zM177 306h12v1h-12zM177 308h12v1h-12zM120 309h11v1h-11zM120 311h11v1h-11zM120 312h11v1h-11zM120 313h11v1h-11zM120 314h11v1h-11zM131 309h12v1h-12zM131 310h12v1h-12zM131 311h12v1h-12zM131 312h12v1h-12zM131 314h12v1h-12zM143 312h11v1h-11zM143 313h11v1h-11zM154 309h12v1h-12zM154 310h12v1h-12zM154 311h12v1h-12zM154 312h12v1h-12zM154 313h12v1h-12zM154 314h12v1h-12zM166 309h11v1h-11zM166 310h11v1h-11zM166 312h11v1h-11zM166 314h11v1h-11zM177 309h12v1h-12zM177 312h12v1h-12zM177 314h12v1h-12zM131 315h12v1h-12zM131 316h12v1h-12zM131 317h12v1h-12zM143 317h11v1h-11zM154 315h12v1h-12zM154 316h12v1h-12zM154 317h12v1h-12zM166 315h11v1h-11zM166 316h11v1h-11zM166 317h11v1h-11zM120 318h11v1h-11zM120 319h11v1h-11zM131 318h12v1h-12zM131 319h12v1h-12zM143 318h11v1h-11zM143 319h11v1h-11zM143 320h11v1h-11zM143 321h11v1h-11zM143 322h11v1h-11zM143 323h11v1h-11zM154 318h12v1h-12zM154 319h12v1h-12zM154 322h12v1h-12zM166 318h11v1h-11zM166 319h11v1h-11zM154 324h12v1h-12zM154 325h12v1h-12zM166 324h11v1h-11zM166 325h11v1h-11zM120 330h11v1h-11zM131 327h12v1h-12zM154 326h12v1h-12zM154 327h12v1h-12zM154 328h12v1h-12zM154 329h12v1h-12zM154 330h12v1h-12zM166 326h11v1h-11zM166 327h11v1h-11zM166 328h11v1h-11zM166 329h11v1h-11zM166 330h11v1h-11zM143 331h11v1h-11zM143 333h11v1h-11zM143 334h11v1h-11zM154 333h12v1h-12zM166 333h11v1h-11zM166 334h11v1h-11zM177 334h12v1h-12zM120 336h11v1h-11zM131 336h12v1h-12zM131 339h12v1h-12zM143 335h11v1h-11zM143 336h11v1h-11zM143 337h11v1h-11zM143 338h11v1h-11zM143 339h11v1h-11zM154 335h12v1h-12zM154 336h12v1h-12zM154 337h12v1h-12zM154 338h12v1h-12zM154 339h12v1h-12zM166 335h11v1h-11zM166 336h11v1h-11zM166 337h11v1h-11zM166 338h11v1h-11zM166 339h11v1h-11zM120 341h11v1h-11zM131 341h12v1h-12zM131 343h12v1h-12zM143 340h11v1h-11zM143 341h11v1h-11zM143 342h11v1h-11zM143 343h11v1h-11zM154 342h12v1h-12zM154 343h12v1h-12zM166 341h11v1h-11zM166 342h11v1h-11zM166 343h11v1h-11zM177 341h12v1h-12zM131 344h12v1h-12zM143 344h11v1h-11zM143 345h11v1h-11zM154 344h12v1h-12zM154 345h12v1h-12zM166 344h11v1h-11zM177 344h12v1h-12zM177 345h12v1h-12zM143 348h11v1h-11zM154 346h12v1h-12zM154 347h12v1h-12zM154 348h12v1h-12zM154 349h12v1h-12zM154 350h12v1h-12zM166 347h11v1h-11zM166 348h11v1h-11zM166 350h11v1h-11zM177 347h12v1h-12zM177 348h12v1h-12zM177 350h12v1h-12zM120 351h11v1h-11zM143 351h11v1h-11zM143 353h11v1h-11zM143 354h11v1h-11zM154 352h12v1h-12zM154 353h12v1h-12zM166 354h11v1h-11zM177 352h12v1h-12zM177 354h12v1h-12zM120 356h11v1h-11zM120 358h11v1h-11zM131 356h12v1h-12zM131 357h12v1h-12zM143 355h11v1h-11zM143 358h11v1h-11zM154 355h12v1h-12zM154 356h12v1h-12zM166 357h11v1h-11zM120 359h11v1h-11zM120 360h11v1h-11zM120 361h11v1h-11zM120 362h11v1h-11zM131 359h12v1h-12zM131 361h12v1h-12zM131 362h12v1h-12zM143 359h11v1h-11zM143 360h11v1h-11zM143 361h11v1h-11zM154 360h12v1h-12zM154 361h12v1h-12zM154 362h12v1h-12zM166 359h11v1h-11zM166 360h11v1h-11zM166 362h11v1h-11zM177 360h12v1h-12zM177 362h12v1h-12zM120 363h11v1h-11zM120 364h11v1h-11zM131 363h12v1h-12zM131 364h12v1h-12zM154 363h12v1h-12zM154 364h12v1h-12zM166 363h11v1h-11zM166 364h11v1h-11zM177 364h12v1h-12zM120 365h11v1h-11zM120 366h11v1h-11zM120 367h11v1h-11zM120 368h11v1h-11zM120 369h11v1h-11zM131 365h12v1h-12zM131 366h12v1h-12zM131 367h12v1h-12zM131 368h12v1h-12zM131 369h12v1h-12zM143 367h11v1h-11zM154 365h12v1h-12zM154 368h12v1h-12zM154 369h12v1h-12zM166 365h11v1h-11zM166 366h11v1h-11zM166 367h11v1h-11zM166 368h11v1h-11zM166 369h11v1h-11zM120 370h11v1h-11zM131 370h12v1h-12zM131 371h12v1h-12zM131 372h12v1h-12zM131 373h12v1h-12zM143 373h11v1h-11zM154 370h12v1h-12zM154 371h12v1h-12zM154 372h12v1h-12zM154 373h12v1h-12zM166 370h11v1h-11zM166 371h11v1h-11zM166 372h11v1h-11zM166 373h11v1h-11zM177 372h12v1h-12zM120 380h11v1h-11zM131 376h12v1h-12zM131 377h12v1h-12zM131 378h12v1h-12zM154 375h12v1h-12zM154 376h12v1h-12zM154 377h12v1h-12zM154 378h12v1h-12zM154 379h12v1h-12zM154 380h12v1h-12zM166 375h11v1h-11zM166 376h11v1h-11zM166 377h11v1h-11zM166 378h11v1h-11zM166 379h11v1h-11zM177 380h12v1h-12zM131 382h12v1h-12zM131 383h12v1h-12zM143 381h11v1h-11zM154 381h12v1h-12zM154 382h12v1h-12zM154 383h12v1h-12zM166 381h11v1h-11zM166 382h11v1h-11zM166 383h11v1h-11zM120 384h11v1h-11zM120 385h11v1h-11zM120 386h11v1h-11zM120 387h11v1h-11zM131 384h12v1h-12zM131 386h12v1h-12zM131 387h12v1h-12zM143 384h11v1h-11zM143 386h11v1h-11zM154 384h12v1h-12zM154 385h12v1h-12zM154 386h12v1h-12zM154 387h12v1h-12zM166 384h11v1h-11zM166 385h11v1h-11zM166 386h11v1h-11zM166 387h11v1h-11zM120 388h11v1h-11zM120 390h11v1h-11zM120 391h11v1h-11zM120 392h11v1h-11zM131 388h12v1h-12zM131 389h12v1h-12zM131 390h12v1h-12zM131 391h12v1h-12zM131 392h12v1h-12zM143 389h11v1h-11zM143 390h11v1h-11zM143 391h11v1h-11zM143 392h11v1h-11zM154 388h12v1h-12zM154 389h12v1h-12zM154 390h12v1h-12zM154 391h12v1h-12zM154 392h12v1h-12zM166 388h11v1h-11zM166 389h11v1h-11zM166 390h11v1h-11zM166 391h11v1h-11zM166 392h11v1h-11zM131 395h12v1h-12zM143 393h11v1h-11zM143 395h11v1h-11zM154 393h12v1h-12zM154 395h12v1h-12zM154 396h12v1h-12zM166 393h11v1h-11zM120 398h11v1h-11zM120 399h11v1h-11zM120 401h11v1h-11zM131 400h12v1h-12zM143 398h11v1h-11zM143 399h11v1h-11zM143 400h11v1h-11zM154 397h12v1h-12zM154 398h12v1h-12zM154 399h12v1h-12zM154 400h12v1h-12zM154 401h12v1h-12zM166 398h11v1h-11zM166 401h11v1h-11zM177 397h12v1h-12zM177 398h12v1h-12zM177 399h12v1h-12zM177 400h12v1h-12zM120 404h11v1h-11zM120 405h11v1h-11zM131 404h12v1h-12zM143 403h11v1h-11zM143 404h11v1h-11zM154 402h12v1h-12zM166 402h11v1h-11zM166 403h11v1h-11zM166 405h11v1h-11zM177 402h12v1h-12zM177 403h12v1h-12zM177 404h12v1h-12zM177 405h12v1h-12zM120 407h11v1h-11zM120 408h11v1h-11zM120 409h11v1h-11zM120 410h11v1h-11zM131 406h12v1h-12zM131 407h12v1h-12zM131 408h12v1h-12zM131 409h12v1h-12zM131 410h12v1h-12zM143 407h11v1h-11zM154 406h12v1h-12zM154 407h12v1h-12zM154 408h12v1h-12zM154 409h12v1h-12zM154 410h12v1h-12zM166 406h11v1h-11zM166 407h11v1h-11zM166 408h11v1h-11zM166 409h11v1h-11zM166 410h11v1h-11zM177 406h12v1h-12zM177 407h12v1h-12zM177 408h12v1h-12zM177 409h12v1h-12zM177 410h12v1h-12zM120 412h11v1h-11zM120 413h11v1h-11zM131 411h12v1h-12zM131 412h12v1h-12zM131 413h12v1h-12zM143 411h11v1h-11zM143 413h11v1h-11zM143 414h11v1h-11zM154 413h12v1h-12zM166 411h11v1h-11zM166 412h11v1h-11zM166 413h11v1h-11zM166 414h11v1h-11zM177 411h12v1h-12zM177 412h12v1h-12zM177 413h12v1h-12zM177 414h12v1h-12zM120 415h11v1h-11zM120 416h11v1h-11zM120 417h11v1h-11zM120 418h11v1h-11zM120 419h11v1h-11zM131 416h12v1h-12zM131 418h12v1h-12zM131 419h12v1h-12zM143 418h11v1h-11zM154 415h12v1h-12zM154 416h12v1h-12zM154 417h12v1h-12zM154 418h12v1h-12zM154 419h12v1h-12zM166 415h11v1h-11zM166 416h11v1h-11zM166 417h11v1h-11zM166 418h11v1h-11zM166 419h11v1h-11zM177 416h12v1h-12zM177 417h12v1h-12zM177 419h12v1h-12zM120 423h11v1h-11zM131 420h12v1h-12zM131 421h12v1h-12zM131 422h12v1h-12zM131 423h12v1h-12zM143 420h11v1h-11zM143 423h11v1h-11zM154 420h12v1h-12zM154 421h12v1h-12zM166 420h11v1h-11zM166 421h11v1h-11zM166 422h11v1h-11zM166 423h11v1h-11zM177 420h12v1h-12zM120 425h11v1h-11zM143 424h11v1h-11zM143 425h11v1h-11zM143 426h11v1h-11zM143 427h11v1h-11zM143 428h11v1h-11zM154 424h12v1h-12zM154 425h12v1h-12zM154 426h12v1h-12zM154 427h12v1h-12zM154 428h12v1h-12zM166 424h11v1h-11zM166 425h11v1h-11zM166 426h11v1h-11zM166 427h11v1h-11zM166 428h11v1h-11zM120 430h11v1h-11zM120 431h11v1h-11zM120 432h11v1h-11zM131 429h12v1h-12zM131 431h12v1h-12zM131 432h12v1h-12zM131 433h12v1h-12zM143 429h11v1h-11zM143 430h11v1h-11zM143 431h11v1h-11zM143 432h11v1h-11zM143 433h11v1h-11zM154 429h12v1h-12zM154 430h12v1h-12zM154 431h12v1h-12zM154 432h12v1h-12zM154 433h12v1h-12zM166 430h11v1h-11zM166 431h11v1h-11zM166 432h11v1h-11zM166 433h11v1h-11zM177 429h12v1h-12zM177 431h12v1h-12zM120 434h11v1h-11zM120 436h11v1h-11zM131 435h12v1h-12zM143 434h11v1h-11zM154 434h12v1h-12zM154 436h12v1h-12zM154 437h12v1h-12zM166 434h11v1h-11zM166 435h11v1h-11zM166 437h11v1h-11zM177 434h12v1h-12zM177 435h12v1h-12zM177 436h12v1h-12zM177 437h12v1h-12zM120 438h11v1h-11zM120 439h11v1h-11zM131 438h12v1h-12zM131 439h12v1h-12zM143 438h11v1h-11zM143 439h11v1h-11zM154 438h12v1h-12zM154 439h12v1h-12zM166 438h11v1h-11zM166 439h11v1h-11zM177 438h12v1h-12zM120 440h11v1h-11zM120 441h11v1h-11zM120 442h11v1h-11zM120 443h11v1h-11zM120 444h11v1h-11zM131 440h12v1h-12zM131 441h12v1h-12zM131 442h12v1h-12zM143 440h11v1h-11zM154 440h12v1h-12zM154 443h12v1h-12zM154 444h12v1h-12zM166 440h11v1h-11zM166 441h11v1h-11zM166 442h11v1h-11zM166 443h11v1h-11zM166 444h11v1h-11zM177 440h12v1h-12zM177 441h12v1h-12zM120 447h11v1h-11zM120 449h11v1h-11zM131 445h12v1h-12zM131 446h12v1h-12zM143 445h11v1h-11zM143 448h11v1h-11zM143 449h11v1h-11zM154 447h12v1h-12zM154 448h12v1h-12zM154 449h12v1h-12zM166 445h11v1h-11zM166 446h11v1h-11zM166 447h11v1h-11zM166 448h11v1h-11zM177 446h12v1h-12zM120 450h11v1h-11zM120 451h11v1h-11zM120 453h11v1h-11zM131 452h12v1h-12zM131 453h12v1h-12zM131 454h12v1h-12zM154 450h12v1h-12zM154 451h12v1h-12zM154 452h12v1h-12zM154 453h12v1h-12zM154 454h12v1h-12zM166 450h11v1h-11zM166 453h11v1h-11zM177 450h12v1h-12zM177 451h12v1h-12zM177 452h12v1h-12zM177 453h12v1h-12zM177 454h12v1h-12zM120 456h11v1h-11zM120 458h11v1h-11zM131 455h12v1h-12zM131 456h12v1h-12zM131 458h12v1h-12zM154 455h12v1h-12zM154 456h12v1h-12zM154 457h12v1h-12zM154 458h12v1h-12zM166 455h11v1h-11zM166 456h11v1h-11zM166 457h11v1h-11zM166 458h11v1h-11zM177 455h12v1h-12zM177 456h12v1h-12zM177 457h12v1h-12zM120 459h11v1h-11zM120 460h11v1h-11zM120 461h11v1h-11zM120 462h11v1h-11zM120 463h11v1h-11zM131 459h12v1h-12zM131 461h12v1h-12zM131 462h12v1h-12zM131 463h12v1h-12zM154 459h12v1h-12zM154 460h12v1h-12zM154 461h12v1h-12zM154 462h12v1h-12zM154 463h12v1h-12zM166 460h11v1h-11zM166 461h11v1h-11zM166 462h11v1h-11zM166 463h11v1h-11zM177 460h12v1h-12zM177 461h12v1h-12zM120 467h11v1h-11zM131 465h12v1h-12zM131 467h12v1h-12zM143 465h11v1h-11zM143 467h11v1h-11zM177 464h12v1h-12zM177 465h12v1h-12zM177 467h12v1h-12zM120 468h11v1h-11zM120 470h11v1h-11zM120 471h11v1h-11zM131 469h12v1h-12zM131 471h12v1h-12zM143 468h11v1h-11zM154 468h12v1h-12zM154 469h12v1h-12zM154 470h12v1h-12zM154 471h12v1h-12zM154 472h12v1h-12zM166 468h11v1h-11zM166 469h11v1h-11zM166 472h11v1h-11zM177 468h12v1h-12zM177 469h12v1h-12zM177 470h12v1h-12zM177 471h12v1h-12zM177 472h12v1h-12zM120 473h11v1h-11zM120 474h11v1h-11zM120 476h11v1h-11zM120 477h11v1h-11zM131 473h12v1h-12zM131 474h12v1h-12zM131 475h12v1h-12zM131 476h12v1h-12zM131 477h12v1h-12zM154 473h12v1h-12zM154 474h12v1h-12zM154 475h12v1h-12zM154 476h12v1h-12zM154 477h12v1h-12zM166 476h11v1h-11zM166 477h11v1h-11zM177 473h12v1h-12zM177 474h12v1h-12zM177 475h12v1h-12zM177 476h12v1h-12zM177 477h12v1h-12zM120 479h11v1h-11zM120 480h11v1h-11zM120 481h11v1h-11zM131 478h12v1h-12zM131 479h12v1h-12zM131 480h12v1h-12zM131 481h12v1h-12zM143 481h11v1h-11zM154 479h12v1h-12zM154 480h12v1h-12zM154 481h12v1h-12zM166 478h11v1h-11zM166 479h11v1h-11zM166 480h11v1h-11zM166 481h11v1h-11zM177 478h12v1h-12zM177 479h12v1h-12zM177 480h12v1h-12zM177 481h12v1h-12zM120 482h11v1h-11zM131 482h12v1h-12zM131 483h12v1h-12zM143 483h11v1h-11zM154 483h12v1h-12zM166 482h11v1h-11zM166 483h11v1h-11zM177 482h12v1h-12zM177 483h12v1h-12zM120 484h11v1h-11zM120 485h11v1h-11zM120 486h11v1h-11zM120 487h11v1h-11zM131 486h12v1h-12zM131 487h12v1h-12zM143 484h11v1h-11zM143 485h11v1h-11zM143 486h11v1h-11zM143 487h11v1h-11zM154 484h12v1h-12zM154 485h12v1h-12zM154 486h12v1h-12zM154 487h12v1h-12zM166 484h11v1h-11zM166 485h11v1h-11zM166 486h11v1h-11zM166 487h11v1h-11zM120 488h11v1h-11zM120 489h11v1h-11zM120 490h11v1h-11zM120 492h11v1h-11zM143 488h11v1h-11zM143 489h11v1h-11zM143 490h11v1h-11zM143 491h11v1h-11zM143 492h11v1h-11zM154 488h12v1h-12zM154 489h12v1h-12zM154 490h12v1h-12zM154 491h12v1h-12zM154 492h12v1h-12zM166 488h11v1h-11zM166 489h11v1h-11zM166 490h11v1h-11zM166 491h11v1h-11zM166 492h11v1h-11zM177 488h12v1h-12zM177 489h12v1h-12zM120 493h11v1h-11zM120 494h11v1h-11zM120 495h11v1h-11zM120 497h11v1h-11zM131 493h12v1h-12zM131 494h12v1h-12zM131 495h12v1h-12zM131 497h12v1h-12zM143 493h11v1h-11zM143 494h11v1h-11zM143 495h11v1h-11zM143 496h11v1h-11zM143 497h11v1h-11zM154 493h12v1h-12zM154 494h12v1h-12zM154 495h12v1h-12zM154 496h12v1h-12zM154 497h12v1h-12zM166 494h11v1h-11zM166 495h11v1h-11zM166 496h11v1h-11zM166 497h11v1h-11zM177 493h12v1h-12zM154 498h12v1h-12zM154 499h12v1h-12zM166 498h11v1h-11zM166 499h11v1h-11zM177 499h12v1h-12zM120 500h11v1h-11zM120 502h11v1h-11zM131 500h12v1h-12zM131 503h12v1h-12zM131 504h12v1h-12zM143 500h11v1h-11zM143 501h11v1h-11zM143 502h11v1h-11zM143 503h11v1h-11zM143 504h11v1h-11zM154 500h12v1h-12zM154 501h12v1h-12zM154 502h12v1h-12zM154 503h12v1h-12zM154 504h12v1h-12zM166 500h11v1h-11zM166 501h11v1h-11zM166 502h11v1h-11zM166 503h11v1h-11zM166 504h11v1h-11zM177 500h12v1h-12zM177 503h12v1h-12zM177 504h12v1h-12zM120 505h11v1h-11zM120 506h11v1h-11zM120 507h11v1h-11zM120 508h11v1h-11zM131 505h12v1h-12zM131 506h12v1h-12zM131 507h12v1h-12zM131 508h12v1h-12zM143 508h11v1h-11zM154 505h12v1h-12zM154 506h12v1h-12zM154 507h12v1h-12zM154 508h12v1h-12zM166 505h11v1h-11zM166 506h11v1h-11zM166 507h11v1h-11zM166 508h11v1h-11zM120 510h11v1h-11zM120 511h11v1h-11zM120 512h11v1h-11zM120 513h11v1h-11zM131 509h12v1h-12zM131 510h12v1h-12zM131 511h12v1h-12zM131 512h12v1h-12zM131 513h12v1h-12zM154 509h12v1h-12zM154 510h12v1h-12zM154 511h12v1h-12zM154 512h12v1h-12zM154 513h12v1h-12zM166 509h11v1h-11zM166 511h11v1h-11zM166 512h11v1h-11zM166 513h11v1h-11zM177 509h12v1h-12zM120 514h11v1h-11zM120 516h11v1h-11zM120 517h11v1h-11zM131 514h12v1h-12zM143 517h11v1h-11zM154 514h12v1h-12zM154 515h12v1h-12zM154 516h12v1h-12zM154 517h12v1h-12zM166 515h11v1h-11zM166 516h11v1h-11zM166 517h11v1h-11zM120 518h11v1h-11zM120 520h11v1h-11zM131 524h12v1h-12zM143 520h11v1h-11zM143 525h11v1h-11zM154 518h12v1h-12zM154 519h12v1h-12zM154 520h12v1h-12zM154 521h12v1h-12zM154 522h12v1h-12zM154 524h12v1h-12zM154 525h12v1h-12zM166 521h11v1h-11zM166 522h11v1h-11zM166 524h11v1h-11zM177 519h12v1h-12zM177 520h12v1h-12z"/>
<path fill="#41c32d" d="M120 79h11v1h-11zM177 91h12v1h-12zM177 101h12v1h-12zM143 124h11v1h-11zM177 144h12v1h-12zM177 516h12v1h-12z"/>
<path fill="#4bc323" d="M120 80h11v1h-11zM120 103h11v1h-11zM131 116h12v1h-12zM143 119h11v1h-11zM177 117h12v1h-12zM177 124h12v1h-12zM131 128h12v1h-12zM143 130h11v1h-11zM120 139h11v1h-11zM143 146h11v1h-11zM177 159h12v1h-12zM143 164h11v1h-11zM131 173h12v1h-12zM177 171h12v1h-12zM177 174h12v1h-12zM120 177h11v1h-11zM177 177h12v1h-12zM177 183h12v1h-12zM120 188h11v1h-11zM143 188h11v1h-11zM120 192h11v1h-11zM143 189h11v1h-11zM143 193h11v1h-11zM177 189h12v1h-12zM131 197h12v1h-12zM143 198h11v1h-11zM177 199h12v1h-12zM143 205h11v1h-11zM143 210h11v1h-11zM143 218h11v1h-11zM143 226h11v1h-11zM143 231h11v1h-11zM143 235h11v1h-11zM143 243h11v1h-11zM177 248h12v1h-12zM177 268h12v1h-12zM177 487h12v1h-12zM177 494h12v1h-12zM177 496h12v1h-12zM177 515h12v1h-12zM131 523h12v1h-12z"/>
<path fill="#41af23" d="M131 77h12v1h-12zM143 116h11v1h-11zM177 131h12v1h-12zM120 136h11v1h-11zM177 139h12v1h-12zM143 153h11v1h-11zM143 166h11v1h-11zM131 184h12v1h-12zM120 189h11v1h-11zM131 202h12v1h-12zM120 205h11v1h-11zM143 240h11v1h-11zM154 255h12v1h-12zM166 300h11v1h-11zM120 464h11v1h-11zM177 522h12v1h-12z"/>
<path fill="#19550f" d="M154 77h12v1h-12zM131 97h12v1h-12zM131 110h12v1h-12zM166 110h11v1h-11zM177 111h12v1h-12zM131 114h12v1h-12zM177 127h12v1h-12zM177 128h12v1h-12zM120 137h11v1h-11zM120 140h11v1h-11zM177 140h12v1h-12zM177 146h12v1h-12zM120 150h11v1h-11zM177 148h12v1h-12zM120 160h11v1h-11zM131 169h12v1h-12zM143 169h11v1h-11zM166 167h11v1h-11zM177 185h12v1h-12zM120 208h11v1h-11zM177 211h12v1h-12zM154 252h12v1h-12zM120 277h11v1h-11zM166 291h11v1h-11zM154 332h12v1h-12zM120 491h11v1h-11zM131 489h12v1h-12zM131 492h12v1h-12zM131 498h12v1h-12zM143 498h11v1h-11zM120 501h11v1h-11zM120 515h11v1h-11zM177 517h12v1h-12zM166 518h11v1h-11z"/>
<path fill="#41a523" d="M154 79h12v1h-12zM131 176h12v1h-12zM177 246h12v1h-12zM154 366h12v1h-12zM143 436h11v1h-11zM166 464h11v1h-11z"/>
<path fill="#195f19" d="M154 80h12v1h-12zM131 139h12v1h-12zM177 196h12v1h-12zM131 485h12v1h-12z"/>
<path fill="#41cd2d" d="M166 77h11v1h-11zM120 90h11v1h-11zM143 239h11v1h-11z"/>
<path fill="#4bc32d" d="M166 78h11v1h-11zM120 97h11v1h-11zM177 96h12v1h-12zM177 99h12v1h-12zM177 116h12v1h-12zM177 119h12v1h-12zM143 140h11v1h-11zM143 150h11v1h-11zM131 164h12v1h-12zM143 167h11v1h-11zM120 174h11v1h-11zM143 177h11v1h-11zM120 184h11v1h-11zM143 184h11v1h-11zM131 196h12v1h-12zM143 202h11v1h-11zM177 206h12v1h-12zM177 207h12v1h-12zM143 228h11v1h-11z"/>
<path fill="#55cd23" d="M166 79h11v1h-11z"/>
<path fill="#235f0f" d="M166 80h11v1h-11zM177 83h12v1h-12zM131 91h12v1h-12zM120 104h11v1h-11zM120 108h11v1h-11zM143 112h11v1h-11zM120 121h11v1h-11zM131 121h12v1h-12zM131 122h12v1h-12zM177 120h12v1h-12zM131 153h12v1h-12zM143 161h11v1h-11zM120 183h11v1h-11zM177 194h12v1h-12zM131 201h12v1h-12zM131 205h12v1h-12zM131 207h12v1h-12zM177 208h12v1h-12zM120 213h11v1h-11zM131 215h12v1h-12zM143 224h11v1h-11zM166 230h11v1h-11zM120 253h11v1h-11zM154 278h12v1h-12zM177 442h12v1h-12zM177 448h12v1h-12zM166 452h11v1h-11zM166 454h11v1h-11zM166 471h11v1h-11zM131 490h12v1h-12zM120 522h11v1h-11z"/>
<path fill="#4baf23" d="M177 77h12v1h-12zM120 84h11v1h-11zM120 96h11v1h-11zM120 116h11v1h-11zM131 119h12v1h-12zM177 118h12v1h-12zM143 122h11v1h-11zM120 128h11v1h-11zM120 143h11v1h-11zM143 149h11v1h-11zM143 157h11v1h-11zM120 158h11v1h-11zM143 158h11v1h-11zM131 162h12v1h-12zM131 166h12v1h-12zM177 172h12v1h-12zM120 176h11v1h-11zM120 182h11v1h-11zM143 185h11v1h-11zM177 190h12v1h-12zM120 198h11v1h-11zM120 209h11v1h-11zM143 212h11v1h-11zM143 214h11v1h-11zM143 220h11v1h-11zM143 222h11v1h-11zM143 230h11v1h-11zM143 262h11v1h-11zM143 263h11v1h-11zM166 278h11v1h-11zM177 485h12v1h-12zM177 505h12v1h-12zM177 513h12v1h-12zM166 525h11v1h-11zM177 521h12v1h-12zM177 525h12v1h-12z"/>
<path fill="#23690f" d="M177 78h12v1h-12zM154 83h12v1h-12zM120 95h11v1h-11zM120 110h11v1h-11zM177 123h12v1h-12zM120 152h11v1h-11zM120 153h11v1h-11zM131 161h12v1h-12zM131 167h12v1h-12zM131 172h12v1h-12zM143 176h11v1h-11zM120 187h11v1h-11zM120 214h11v1h-11zM131 213h12v1h-12zM143 215h11v1h-11zM166 233h11v1h-11zM166 277h11v1h-11zM166 303h11v1h-11zM166 332h11v1h-11zM154 367h12v1h-12zM143 437h11v1h-11zM166 451h11v1h-11zM120 465h11v1h-11zM166 467h11v1h-11zM131 484h12v1h-12z"/>
<path fill="#4bb923" d="M177 79h12v1h-12zM120 83h11v1h-11zM120 89h11v1h-11zM120 91h11v1h-11zM120 92h11v1h-11zM120 93h11v1h-11zM177 92h12v1h-12zM177 102h12v1h-12zM143 121h11v1h-11zM131 127h12v1h-12zM120 129h11v1h-11zM143 134h11v1h-11zM120 141h11v1h-11zM143 141h11v1h-11zM120 146h11v1h-11zM143 148h11v1h-11zM143 151h11v1h-11zM120 173h11v1h-11zM120 179h11v1h-11zM143 175h11v1h-11zM177 175h12v1h-12zM131 180h12v1h-12zM143 182h11v1h-11zM177 180h12v1h-12zM143 186h11v1h-11zM177 191h12v1h-12zM143 196h11v1h-11zM143 201h11v1h-11zM177 202h12v1h-12zM120 207h11v1h-11zM143 203h11v1h-11zM143 207h11v1h-11zM143 246h11v1h-11zM143 250h11v1h-11zM143 419h11v1h-11zM177 490h12v1h-12zM177 492h12v1h-12zM177 507h12v1h-12zM177 512h12v1h-12zM177 514h12v1h-12zM120 525h11v1h-11zM177 518h12v1h-12zM177 523h12v1h-12z"/>
<path fill="#19690f" d="M177 80h12v1h-12zM131 84h12v1h-12zM154 81h12v1h-12zM177 85h12v1h-12zM131 93h12v1h-12zM131 106h12v1h-12zM131 115h12v1h-12zM143 113h11v1h-11zM131 130h12v1h-12zM143 147h11v1h-11zM120 151h11v1h-11zM131 149h12v1h-12zM131 150h12v1h-12zM120 162h11v1h-11zM120 166h11v1h-11zM177 165h12v1h-12zM177 167h12v1h-12zM131 177h12v1h-12zM131 182h12v1h-12zM131 185h12v1h-12zM143 192h11v1h-11zM120 201h11v1h-11zM143 204h11v1h-11zM120 250h11v1h-11zM131 253h12v1h-12zM143 258h11v1h-11zM143 260h11v1h-11zM166 331h11v1h-11zM143 422h11v1h-11zM177 447h12v1h-12zM166 474h11v1h-11zM166 475h11v1h-11zM177 484h12v1h-12zM131 488h12v1h-12zM131 491h12v1h-12zM177 497h12v1h-12zM177 502h12v1h-12zM120 523h11v1h-11z"/>
<path fill="#4bb92d" d="M120 82h11v1h-11zM177 97h12v1h-12zM131 126h12v1h-12zM143 135h11v1h-11zM143 138h11v1h-11zM143 162h11v1h-11zM131 174h12v1h-12zM143 174h11v1h-11zM120 175h11v1h-11zM143 180h11v1h-11zM177 181h12v1h-12zM143 190h11v1h-11zM131 194h12v1h-12zM120 202h11v1h-11zM143 200h11v1h-11zM120 204h11v1h-11zM143 213h11v1h-11zM143 245h11v1h-11zM177 506h12v1h-12zM131 519h12v1h-12zM131 521h12v1h-12zM131 522h12v1h-12z"/>
<path fill="#236919" d="M131 82h12v1h-12zM177 134h12v1h-12zM166 473h11v1h-11z"/>
<path fill="#23550f" d="M131 83h12v1h-12zM154 82h12v1h-12zM177 81h12v1h-12zM131 103h12v1h-12zM120 106h11v1h-11zM131 105h12v1h-12zM131 112h12v1h-12zM177 129h12v1h-12zM120 134h11v1h-11zM177 153h12v1h-12zM131 168h12v1h-12zM131 187h12v1h-12zM143 187h11v1h-11zM131 193h12v1h-12zM177 195h12v1h-12zM177 197h12v1h-12zM177 244h12v1h-12zM131 255h12v1h-12zM154 260h12v1h-12zM143 435h11v1h-11zM131 443h12v1h-12zM177 444h12v1h-12zM177 449h12v1h-12zM177 459h12v1h-12zM177 491h12v1h-12zM120 503h11v1h-11zM166 523h11v1h-11z"/>
<path fill="#4ba523" d="M131 85h12v1h-12zM120 164h11v1h-11zM120 222h11v1h-11z"/>
<path fill="#234b0f" d="M143 82h11v1h-11zM143 84h11v1h-11zM177 121h12v1h-12zM177 443h12v1h-12z"/>
<path fill="#235519" d="M143 83h11v1h-11zM131 123h12v1h-12zM120 211h11v1h-11zM120 504h11v1h-11z"/>
<path fill="#195f0f" d="M154 84h12v1h-12zM177 93h12v1h-12zM131 102h12v1h-12zM131 113h12v1h-12zM131 118h12v1h-12zM131 124h12v1h-12zM177 122h12v1h-12zM143 128h11v1h-11zM143 129h11v1h-11zM143 136h11v1h-11zM177 137h12v1h-12zM177 150h12v1h-12zM120 172h11v1h-11zM143 173h11v1h-11zM120 178h11v1h-11zM120 180h11v1h-11zM177 187h12v1h-12zM131 189h12v1h-12zM131 190h12v1h-12zM120 200h11v1h-11zM131 198h12v1h-12zM120 203h11v1h-11zM131 206h12v1h-12zM120 210h11v1h-11zM143 209h11v1h-11zM131 212h12v1h-12zM166 232h11v1h-11zM120 248h11v1h-11zM131 252h12v1h-12zM154 275h12v1h-12zM166 293h11v1h-11zM166 313h11v1h-11zM154 334h12v1h-12zM143 412h11v1h-11zM154 411h12v1h-12zM143 421h11v1h-11zM177 445h12v1h-12zM177 462h12v1h-12zM177 463h12v1h-12zM120 466h11v1h-11zM166 470h11v1h-11zM120 498h11v1h-11zM131 501h12v1h-12zM166 519h11v1h-11z"/>
<path fill="#194b0f" d="M166 81h11v1h-11zM154 113h12v1h-12zM177 114h12v1h-12zM154 134h12v1h-12zM131 181h12v1h-12zM177 225h12v1h-12zM120 242h11v1h-11zM131 444h12v1h-12zM154 442h12v1h-12zM166 493h11v1h-11zM131 502h12v1h-12zM131 516h12v1h-12zM166 514h11v1h-11zM120 521h11v1h-11z"/>
<path fill="#195519" d="M177 82h12v1h-12zM131 94h12v1h-12zM166 292h11v1h-11zM166 311h11v1h-11zM154 357h12v1h-12zM166 465h11v1h-11z"/>
<path fill="#419b23" d="M177 84h12v1h-12zM131 159h12v1h-12zM120 195h11v1h-11zM177 198h12v1h-12zM120 524h11v1h-11zM166 520h11v1h-11z"/>
<path fill="#19370f" d="M120 86h11v1h-11zM154 93h12v1h-12zM154 129h12v1h-12zM120 168h11v1h-11zM166 181h11v1h-11zM166 205h11v1h-11zM131 209h12v1h-12zM131 210h12v1h-12zM154 523h12v1h-12z"/>
<path fill="#41cd23" d="M177 89h12v1h-12zM120 147h11v1h-11zM143 143h11v1h-11zM120 199h11v1h-11zM177 204h12v1h-12zM143 415h11v1h-11z"/>
<path fill="#4bcd23" d="M120 98h11v1h-11zM177 95h12v1h-12zM143 118h11v1h-11zM120 133h11v1h-11zM143 132h11v1h-11zM143 133h11v1h-11zM143 137h11v1h-11zM143 142h11v1h-11zM177 145h12v1h-12zM120 159h11v1h-11zM177 158h12v1h-12zM143 170h11v1h-11zM143 172h11v1h-11zM143 178h11v1h-11zM177 178h12v1h-12zM143 194h11v1h-11zM143 199h11v1h-11zM143 221h11v1h-11zM143 232h11v1h-11zM143 244h11v1h-11zM143 249h11v1h-11zM177 486h12v1h-12zM131 518h12v1h-12zM131 525h12v1h-12z"/>
<path fill="#0f410f" d="M143 98h11v1h-11zM166 111h11v1h-11zM154 201h12v1h-12zM120 220h11v1h-11zM120 509h11v1h-11z"/>
<path fill="#19410f" d="M154 95h12v1h-12zM166 97h11v1h-11zM154 105h12v1h-12zM154 159h12v1h-12zM166 173h11v1h-11zM154 175h12v1h-12zM166 182h11v1h-11zM131 220h12v1h-12zM154 225h12v1h-12zM154 242h12v1h-12zM154 247h12v1h-12zM131 415h12v1h-12zM154 441h12v1h-12zM143 499h11v1h-11z"/>
<path fill="#41b92d" d="M120 99h11v1h-11zM120 142h11v1h-11zM120 145h11v1h-11zM143 145h11v1h-11zM177 163h12v1h-12zM143 183h11v1h-11zM143 191h11v1h-11zM143 195h11v1h-11zM143 416h11v1h-11zM177 495h12v1h-12z"/>
<path fill="#4baf2d" d="M120 101h11v1h-11zM120 120h11v1h-11zM120 124h11v1h-11zM143 120h11v1h-11zM120 181h11v1h-11zM120 190h11v1h-11zM120 191h11v1h-11zM120 193h11v1h-11zM177 193h12v1h-12zM143 223h11v1h-11zM143 242h11v1h-11zM143 251h11v1h-11zM177 251h12v1h-12zM143 261h11v1h-11zM143 417h11v1h-11zM177 498h12v1h-12z"/>
<path fill="#4bcd2d" d="M120 102h11v1h-11zM143 117h11v1h-11zM120 123h11v1h-11zM143 131h11v1h-11zM177 160h12v1h-12zM143 197h11v1h-11zM143 247h11v1h-11zM131 520h12v1h-12z"/>
<path fill="#41b923" d="M131 100h12v1h-12zM177 100h12v1h-12zM143 123h11v1h-11zM143 127h11v1h-11zM131 137h12v1h-12zM131 146h12v1h-12zM177 161h12v1h-12zM143 165h11v1h-11zM177 169h12v1h-12zM177 173h12v1h-12zM177 182h12v1h-12zM177 184h12v1h-12zM143 211h11v1h-11zM120 212h11v1h-11zM143 216h11v1h-11zM143 233h11v1h-11zM177 247h12v1h-12zM143 248h11v1h-11zM154 412h12v1h-12zM154 414h12v1h-12z"/>
<path fill="#4b0519" d="M177 104h12v1h-12zM120 232h11v1h-11zM154 258h12v1h-12zM131 457h12v1h-12z"/>
<path fill="#5f050f" d="M166 114h11v1h-11zM154 145h12v1h-12zM177 229h12v1h-12zM131 256h12v1h-12zM131 313h12v1h-12zM131 430h12v1h-12z"/>
<path fill="#41af2d" d="M120 117h11v1h-11zM131 117h12v1h-12zM120 144h11v1h-11zM143 154h11v1h-11z"/>
<path fill="#55c323" d="M120 118h11v1h-11zM177 143h12v1h-12z"/>
<path fill="#41c323" d="M120 122h11v1h-11zM131 125h12v1h-12zM143 126h11v1h-11zM120 131h11v1h-11zM177 130h12v1h-12zM143 139h11v1h-11zM143 144h11v1h-11zM120 148h11v1h-11zM143 159h11v1h-11zM143 160h11v1h-11zM131 163h12v1h-12zM177 166h12v1h-12zM143 171h11v1h-11zM143 179h11v1h-11zM177 192h12v1h-12zM131 195h12v1h-12zM143 217h11v1h-11zM143 219h11v1h-11zM143 237h11v1h-11zM154 358h12v1h-12zM177 501h12v1h-12zM177 510h12v1h-12zM131 517h12v1h-12z"/>
<path fill="#0f370f" d="M154 123h12v1h-12zM154 143h12v1h-12zM154 183h12v1h-12zM166 180h11v1h-11zM154 228h12v1h-12zM143 253h11v1h-11zM120 478h11v1h-11zM166 510h11v1h-11z"/>
<path fill="#23730f" d="M120 125h11v1h-11zM120 135h11v1h-11zM154 331h12v1h-12z"/>
<path fill="#196919" d="M131 136h12v1h-12zM131 188h12v1h-12zM120 499h11v1h-11zM131 499h12v1h-12z"/>
<path fill="#4b050f" d="M166 138h11v1h-11zM166 262h11v1h-11zM143 388h11v1h-11zM154 423h12v1h-12zM166 429h11v1h-11zM154 464h12v1h-12zM177 466h12v1h-12zM154 482h12v1h-12z"/>
<path fill="#4b9b23" d="M131 145h12v1h-12zM120 255h11v1h-11zM166 275h11v1h-11zM166 466h11v1h-11z"/>
<path fill="#0f4b05" d="M154 146h12v1h-12z"/>
<path fill="#55cd2d" d="M143 152h11v1h-11z"/>
<path fill="#4b0419" d="M131 155h12v1h-12zM143 332h11v1h-11zM154 359h12v1h-12zM131 385h12v1h-12zM154 435h12v1h-12z"/>
<path fill="#55b92d" d="M143 155h11v1h-11zM143 206h11v1h-11zM177 524h12v1h-12z"/>
<path fill="#0f550f" d="M177 155h12v1h-12zM166 191h11v1h-11zM177 216h12v1h-12zM120 227h11v1h-11zM166 345h11v1h-11zM166 346h11v1h-11zM120 496h11v1h-11z"/>
<path fill="#55050f" d="M177 157h12v1h-12zM131 263h12v1h-12zM166 264h11v1h-11zM166 282h11v1h-11zM166 340h11v1h-11zM166 349h11v1h-11zM166 449h11v1h-11z"/>
<path fill="#193705" d="M154 160h12v1h-12z"/>
<path fill="#0f3705" d="M166 161h11v1h-11z"/>
<path fill="#234b19" d="M120 163h11v1h-11zM120 223h11v1h-11z"/>
<path fill="#55b923" d="M143 163h11v1h-11zM177 176h12v1h-12z"/>
<path fill="#37050f" d="M120 169h11v1h-11zM166 174h11v1h-11zM131 236h12v1h-12zM154 297h12v1h-12zM154 307h12v1h-12z"/>
<path fill="#41050f" d="M166 175h11v1h-11zM154 214h12v1h-12zM154 445h12v1h-12zM166 459h11v1h-11z"/>
<path fill="#0f4b0f" d="M154 182h12v1h-12zM177 224h12v1h-12zM154 229h12v1h-12zM177 243h12v1h-12z"/>
<path fill="#19730f" d="M120 196h11v1h-11zM120 254h11v1h-11z"/>
<path fill="#730519" d="M166 210h11v1h-11zM120 234h11v1h-11zM177 252h12v1h-12zM177 260h12v1h-12zM143 268h11v1h-11zM166 268h11v1h-11zM120 271h11v1h-11zM177 271h12v1h-12zM177 280h12v1h-12zM131 282h12v1h-12zM131 288h12v1h-12zM131 295h12v1h-12zM143 296h11v1h-11zM120 310h11v1h-11zM143 310h11v1h-11zM143 314h11v1h-11zM177 311h12v1h-12zM120 317h11v1h-11zM177 316h12v1h-12zM120 322h11v1h-11zM154 320h12v1h-12zM154 321h12v1h-12zM166 320h11v1h-11zM177 319h12v1h-12zM177 324h12v1h-12zM143 328h11v1h-11zM131 331h12v1h-12zM131 340h12v1h-12zM154 340h12v1h-12zM177 342h12v1h-12zM177 343h12v1h-12zM120 345h11v1h-11zM131 345h12v1h-12zM131 348h12v1h-12zM143 347h11v1h-11zM166 353h11v1h-11zM177 351h12v1h-12zM166 356h11v1h-11zM166 358h11v1h-11zM131 374h12v1h-12zM120 378h11v1h-11zM120 383h11v1h-11zM177 386h12v1h-12zM177 391h12v1h-12zM166 397h11v1h-11zM166 400h11v1h-11zM143 409h11v1h-11zM177 433h12v1h-12zM131 436h12v1h-12zM120 445h11v1h-11zM120 446h11v1h-11zM131 448h12v1h-12zM131 451h12v1h-12zM120 455h11v1h-11zM131 464h12v1h-12zM143 466h11v1h-11zM120 469h11v1h-11zM143 473h11v1h-11zM143 475h11v1h-11zM143 476h11v1h-11z"/>
<path fill="#cd0f37" d="M166 211h11v1h-11zM120 270h11v1h-11zM166 269h11v1h-11zM143 274h11v1h-11zM131 280h12v1h-12zM177 279h12v1h-12zM120 282h11v1h-11zM177 281h12v1h-12zM143 302h11v1h-11zM177 323h12v1h-12zM143 325h11v1h-11zM120 327h11v1h-11zM131 326h12v1h-12zM120 335h11v1h-11zM177 339h12v1h-12zM177 368h12v1h-12zM120 374h11v1h-11zM120 396h11v1h-11zM120 421h11v1h-11zM143 454h11v1h-11zM143 511h11v1h-11zM143 514h11v1h-11z"/>
<path fill="#cd0f2d" d="M166 214h11v1h-11zM177 261h12v1h-12zM120 279h11v1h-11zM143 316h11v1h-11zM131 393h12v1h-12z"/>
<path fill="#5f0519" d="M166 215h11v1h-11zM131 216h12v1h-12zM154 243h12v1h-12zM166 256h11v1h-11zM166 258h11v1h-11zM177 258h12v1h-12zM177 263h12v1h-12zM177 264h12v1h-12zM131 269h12v1h-12zM131 272h12v1h-12zM154 271h12v1h-12zM177 273h12v1h-12zM143 293h11v1h-11zM177 291h12v1h-12zM143 298h11v1h-11zM131 308h12v1h-12zM143 309h11v1h-11zM177 313h12v1h-12zM120 321h11v1h-11zM131 320h12v1h-12zM131 321h12v1h-12zM131 323h12v1h-12zM166 322h11v1h-11zM143 324h11v1h-11zM143 326h11v1h-11zM143 329h11v1h-11zM177 335h12v1h-12zM120 340h11v1h-11zM131 342h12v1h-12zM154 341h12v1h-12zM120 347h11v1h-11zM131 347h12v1h-12zM143 346h11v1h-11zM143 350h11v1h-11zM177 346h12v1h-12zM120 352h11v1h-11zM120 353h11v1h-11zM120 354h11v1h-11zM143 352h11v1h-11zM154 354h12v1h-12zM120 357h11v1h-11zM131 355h12v1h-12zM143 363h11v1h-11zM143 364h11v1h-11zM143 365h11v1h-11zM143 366h11v1h-11zM177 378h12v1h-12zM177 379h12v1h-12zM120 382h11v1h-11zM143 387h11v1h-11zM154 394h12v1h-12zM166 394h11v1h-11zM166 395h11v1h-11zM166 396h11v1h-11zM177 396h12v1h-12zM143 397h11v1h-11zM120 402h11v1h-11zM131 403h12v1h-12zM177 421h12v1h-12zM177 426h12v1h-12zM120 435h11v1h-11zM120 437h11v1h-11zM120 452h11v1h-11zM120 454h11v1h-11zM131 450h12v1h-12zM143 457h11v1h-11zM154 467h12v1h-12zM143 472h11v1h-11zM143 474h11v1h-11zM143 479h11v1h-11zM143 505h11v1h-11zM143 507h11v1h-11z"/>
<path fill="#0f5505" d="M177 220h12v1h-12z"/>
<path fill="#194b19" d="M120 221h11v1h-11z"/>
<path fill="#7d0519" d="M177 231h12v1h-12zM131 270h12v1h-12zM143 269h11v1h-11zM131 274h12v1h-12zM166 273h11v1h-11zM177 274h12v1h-12zM177 278h12v1h-12zM143 279h11v1h-11zM120 296h11v1h-11zM131 294h12v1h-12zM143 295h11v1h-11zM143 311h11v1h-11zM120 316h11v1h-11zM143 315h11v1h-11zM131 322h12v1h-12zM154 323h12v1h-12zM131 337h12v1h-12zM177 336h12v1h-12zM120 342h11v1h-11zM120 343h11v1h-11zM120 344h11v1h-11zM131 346h12v1h-12zM131 349h12v1h-12zM154 351h12v1h-12zM166 351h11v1h-11zM120 355h11v1h-11zM166 355h11v1h-11zM131 360h12v1h-12zM177 361h12v1h-12zM177 363h12v1h-12zM120 375h11v1h-11zM177 377h12v1h-12zM131 394h12v1h-12zM131 396h12v1h-12zM143 396h11v1h-11zM177 393h12v1h-12zM166 399h11v1h-11zM131 405h12v1h-12zM143 405h11v1h-11zM154 404h12v1h-12zM143 408h11v1h-11zM120 414h11v1h-11zM177 415h12v1h-12zM177 432h12v1h-12zM131 434h12v1h-12zM143 460h11v1h-11zM131 470h12v1h-12zM143 477h11v1h-11zM143 478h11v1h-11zM143 506h11v1h-11z"/>
<path fill="#e10f37" d="M177 233h12v1h-12zM120 280h11v1h-11zM131 284h12v1h-12zM177 282h12v1h-12zM177 283h12v1h-12zM143 287h11v1h-11zM131 291h12v1h-12zM120 297h11v1h-11zM177 294h12v1h-12zM177 296h12v1h-12zM131 303h12v1h-12zM131 304h12v1h-12zM177 300h12v1h-12zM120 305h11v1h-11zM143 305h11v1h-11zM177 321h12v1h-12zM131 330h12v1h-12zM177 327h12v1h-12zM177 328h12v1h-12zM120 331h11v1h-11zM120 332h11v1h-11zM120 333h11v1h-11zM131 332h12v1h-12zM131 354h12v1h-12zM177 355h12v1h-12zM177 367h12v1h-12zM143 377h11v1h-11zM143 379h11v1h-11zM143 382h11v1h-11zM177 385h12v1h-12zM120 426h11v1h-11zM120 428h11v1h-11zM177 428h12v1h-12zM143 442h11v1h-11zM143 443h11v1h-11zM143 450h11v1h-11zM143 459h11v1h-11zM143 464h11v1h-11zM131 468h12v1h-12zM131 472h12v1h-12zM143 513h11v1h-11zM143 515h11v1h-11zM143 523h11v1h-11z"/>
<path fill="#690519" d="M120 236h11v1h-11zM166 252h11v1h-11zM166 255h11v1h-11zM177 255h12v1h-12zM177 262h12v1h-12zM177 265h12v1h-12zM131 267h12v1h-12zM131 268h12v1h-12zM143 267h11v1h-11zM166 270h11v1h-11zM177 275h12v1h-12zM143 280h11v1h-11zM143 288h11v1h-11zM120 294h11v1h-11zM120 295h11v1h-11zM143 297h11v1h-11zM177 302h12v1h-12zM131 305h12v1h-12zM131 306h12v1h-12zM143 306h11v1h-11zM177 310h12v1h-12zM177 315h12v1h-12zM120 320h11v1h-11zM120 323h11v1h-11zM166 321h11v1h-11zM166 323h11v1h-11zM131 324h12v1h-12zM131 335h12v1h-12zM131 338h12v1h-12zM120 350h11v1h-11zM177 349h12v1h-12zM166 352h11v1h-11zM131 358h12v1h-12zM143 362h11v1h-11zM143 369h11v1h-11zM120 371h11v1h-11zM177 373h12v1h-12zM120 377h11v1h-11zM120 379h11v1h-11zM131 380h12v1h-12zM120 381h11v1h-11zM143 385h11v1h-11zM120 389h11v1h-11zM177 394h12v1h-12zM177 395h12v1h-12zM120 397h11v1h-11zM143 402h11v1h-11zM154 405h12v1h-12zM143 406h11v1h-11zM143 410h11v1h-11zM131 414h12v1h-12zM177 418h12v1h-12zM166 436h11v1h-11zM131 449h12v1h-12zM120 457h11v1h-11zM131 466h12v1h-12zM143 470h11v1h-11zM143 482h11v1h-11zM143 509h11v1h-11zM143 524h11v1h-11z"/>
<path fill="#55040f" d="M131 238h12v1h-12zM131 417h12v1h-12zM154 422h12v1h-12z"/>
<path fill="#55af23" d="M143 234h11v1h-11zM177 508h12v1h-12zM177 511h12v1h-12z"/>
<path fill="#0f4105" d="M154 245h12v1h-12z"/>
<path fill="#194b05" d="M131 249h12v1h-12zM154 282h12v1h-12z"/>
<path fill="#194105" d="M154 249h12v1h-12zM120 260h11v1h-11zM120 278h11v1h-11z"/>
<path fill="#b90f37" d="M166 254h11v1h-11zM131 289h12v1h-12zM143 327h11v1h-11z"/>
<path fill="#41040f" d="M154 256h12v1h-12z"/>
<path fill="#d70f37" d="M166 259h11v1h-11zM177 257h12v1h-12zM177 259h12v1h-12zM120 267h11v1h-11zM154 274h12v1h-12zM120 284h11v1h-11zM143 284h11v1h-11zM177 284h12v1h-12zM120 288h11v1h-11zM177 286h12v1h-12zM120 293h11v1h-11zM131 290h12v1h-12zM143 290h11v1h-11zM177 295h12v1h-12zM120 300h11v1h-11zM131 301h12v1h-12zM177 301h12v1h-12zM177 317h12v1h-12zM177 320h12v1h-12zM177 325h12v1h-12zM131 329h12v1h-12zM177 330h12v1h-12zM120 339h11v1h-11zM177 337h12v1h-12zM120 348h11v1h-11zM120 349h11v1h-11zM143 357h11v1h-11zM177 358h12v1h-12zM143 368h11v1h-11zM177 365h12v1h-12zM177 369h12v1h-12zM120 372h11v1h-11zM143 372h11v1h-11zM177 370h12v1h-12zM131 375h12v1h-12zM177 376h12v1h-12zM177 381h12v1h-12zM177 388h12v1h-12zM177 392h12v1h-12zM143 394h11v1h-11zM154 403h12v1h-12zM120 422h11v1h-11zM177 423h12v1h-12zM131 424h12v1h-12zM131 425h12v1h-12zM131 428h12v1h-12zM143 446h11v1h-11zM143 451h11v1h-11zM143 456h11v1h-11zM143 462h11v1h-11zM143 522h11v1h-11z"/>
<path fill="#eb0f41" d="M177 256h12v1h-12zM131 300h12v1h-12zM131 333h12v1h-12zM177 356h12v1h-12zM177 375h12v1h-12zM177 387h12v1h-12zM177 422h12v1h-12z"/>
<path fill="#cd0f41" d="M120 268h11v1h-11zM120 289h11v1h-11zM177 318h12v1h-12zM120 393h11v1h-11zM120 394h11v1h-11z"/>
<path fill="#eb0f37" d="M120 269h11v1h-11zM131 283h12v1h-12zM131 285h12v1h-12zM143 283h11v1h-11zM120 286h11v1h-11zM143 289h11v1h-11zM120 291h11v1h-11zM120 292h11v1h-11zM131 292h12v1h-12zM177 290h12v1h-12zM143 294h11v1h-11zM177 298h12v1h-12zM120 299h11v1h-11zM143 299h11v1h-11zM143 300h11v1h-11zM143 304h11v1h-11zM177 303h12v1h-12zM120 306h11v1h-11zM131 307h12v1h-12zM143 308h11v1h-11zM120 326h11v1h-11zM120 328h11v1h-11zM177 329h12v1h-12zM131 334h12v1h-12zM177 331h12v1h-12zM177 332h12v1h-12zM120 337h11v1h-11zM131 352h12v1h-12zM143 356h11v1h-11zM143 371h11v1h-11zM177 371h12v1h-12zM177 374h12v1h-12zM143 375h11v1h-11zM143 376h11v1h-11zM143 380h11v1h-11zM177 383h12v1h-12zM120 395h11v1h-11zM131 399h12v1h-12zM120 411h11v1h-11zM120 420h11v1h-11zM120 424h11v1h-11zM177 427h12v1h-12zM143 444h11v1h-11zM131 447h12v1h-12zM143 455h11v1h-11zM143 458h11v1h-11zM120 472h11v1h-11zM143 469h11v1h-11z"/>
<path fill="#550519" d="M154 267h12v1h-12zM143 301h11v1h-11zM177 353h12v1h-12zM166 361h11v1h-11zM177 359h12v1h-12zM143 374h11v1h-11zM154 446h12v1h-12zM131 460h12v1h-12z"/>
<path fill="#e10f2d" d="M131 271h12v1h-12zM143 271h11v1h-11zM143 272h11v1h-11zM177 340h12v1h-12zM131 350h12v1h-12zM120 429h11v1h-11zM120 448h11v1h-11z"/>
<path fill="#c30f37" d="M143 273h11v1h-11zM131 286h12v1h-12zM143 330h11v1h-11zM143 401h11v1h-11zM120 403h11v1h-11zM131 437h12v1h-12zM143 480h11v1h-11z"/>
<path fill="#f50f37" d="M120 281h11v1h-11zM120 285h11v1h-11zM131 281h12v1h-12zM143 282h11v1h-11zM143 285h11v1h-11zM177 285h12v1h-12zM143 286h11v1h-11zM177 287h12v1h-12zM177 289h12v1h-12zM120 290h11v1h-11zM143 292h11v1h-11zM177 297h12v1h-12zM120 301h11v1h-11zM120 302h11v1h-11zM120 303h11v1h-11zM131 299h12v1h-12zM131 302h12v1h-12zM143 303h11v1h-11zM177 304h12v1h-12zM120 308h11v1h-11zM143 307h11v1h-11zM177 305h12v1h-12zM177 307h12v1h-12zM177 322h12v1h-12zM120 325h11v1h-11zM120 329h11v1h-11zM177 326h12v1h-12zM120 334h11v1h-11zM120 338h11v1h-11zM177 338h12v1h-12zM131 353h12v1h-12zM143 378h11v1h-11zM177 382h12v1h-12zM177 389h12v1h-12zM177 390h12v1h-12zM131 397h12v1h-12zM131 398h12v1h-12zM120 427h11v1h-11zM131 426h12v1h-12zM131 427h12v1h-12zM177 425h12v1h-12zM143 452h11v1h-11zM143 461h11v1h-11zM143 471h11v1h-11zM143 510h11v1h-11zM143 512h11v1h-11zM143 516h11v1h-11zM143 518h11v1h-11zM143 519h11v1h-11zM143 521h11v1h-11z"/>
<path fill="#f50f41" d="M120 283h11v1h-11zM120 287h11v1h-11zM131 293h12v1h-12zM131 328h12v1h-12zM131 351h12v1h-12zM120 373h11v1h-11zM143 447h11v1h-11z"/>
<path fill="#ff0f37" d="M143 281h11v1h-11zM177 293h12v1h-12zM143 441h11v1h-11z"/>
<path fill="#d70f41" d="M120 298h11v1h-11zM120 304h11v1h-11zM131 325h12v1h-12zM177 333h12v1h-12zM120 346h11v1h-11zM177 366h12v1h-12zM177 424h12v1h-12zM143 453h11v1h-11z"/>
<path fill="#4b040f" d="M166 296h11v1h-11zM166 380h11v1h-11zM177 401h12v1h-12zM154 478h12v1h-12z"/>
<path fill="#e10f41" d="M120 307h11v1h-11zM120 324h11v1h-11zM177 357h12v1h-12zM143 370h11v1h-11zM143 383h11v1h-11zM177 384h12v1h-12zM131 401h12v1h-12zM143 463h11v1h-11z"/>
<path fill="#d70f2d" d="M120 315h11v1h-11zM143 349h11v1h-11zM120 400h11v1h-11zM120 433h11v1h-11zM177 430h12v1h-12z"/>
<path fill="#410519" d="M154 374h12v1h-12zM166 374h11v1h-11z"/>
<path fill="#c30f2d" d="M120 376h11v1h-11zM131 379h12v1h-12z"/>
<path fill="#69050f" d="M131 381h12v1h-12zM120 483h11v1h-11z"/>
<path fill="#eb0f2d" d="M131 402h12v1h-12z"/>
<path fill="#370519" d="M166 404h11v1h-11zM120 475h11v1h-11z"/>
<path fill="#550419" d="M120 406h11v1h-11zM154 466h12v1h-12z"/>
<path fill="#5f040f" d="M177 439h12v1h-12zM177 458h12v1h-12z"/>
<path fill="#410419" d="M154 465h12v1h-12zM131 496h12v1h-12z"/>
<path fill="#235f19" d="M131 515h12v1h-12zM120 519h11v1h-11z"/></g>
<rect x="119.4" y="280.0" width="71" height="36.6" fill="none" stroke="#f6ec2e" stroke-width="2.4"/>
<rect x="119.4" y="324.9" width="71" height="20.2" fill="none" stroke="#f6ec2e" stroke-width="2.4"/>
<rect x="119.4" y="364.2" width="71" height="18.2" fill="none" stroke="#f6ec2e" stroke-width="2.4"/>
<rect x="119.4" y="439.2" width="71" height="43.5" fill="none" stroke="#f6ec2e" stroke-width="2.4"/>
<rect x="119.4" y="498.8" width="71" height="26.2" fill="none" stroke="#f6ec2e" stroke-width="2.4"/>
<text class="rn" transform="translate(215.6,197.9) scale(0.93,1)" style="font-size:25.6px">I</text>
<text class="rn" transform="translate(209.7,298.6) scale(0.9,1)" style="font-size:27px">II</text>
<text x="210.3" y="375.9" class="rn">III</text>
<text x="215" y="476.9" class="rn">IV</text>
<line x1="191.1" y1="299.0" x2="249.9" y2="145.3" stroke="#111" stroke-width="1.25"/><polygon points="252.3,139.1 252.9,147.5 246.2,144.9" fill="#111"/>
<line x1="191.1" y1="335.1" x2="247.6" y2="272.9" stroke="#111" stroke-width="1.25"/><polygon points="252.0,268.0 249.6,276.0 244.2,271.2" fill="#111"/>
<line x1="191.1" y1="373.6" x2="245.2" y2="386.5" stroke="#111" stroke-width="1.25"/><polygon points="251.6,388.0 243.4,389.7 245.0,382.7" fill="#111"/>
<line x1="190.7" y1="461.0" x2="247.6" y2="499.9" stroke="#111" stroke-width="1.25"/><polygon points="253.0,503.6 244.7,502.3 248.8,496.3" fill="#111"/>
<line x1="191.0" y1="511.9" x2="246.5" y2="504.5" stroke="#111" stroke-width="1.25"/><polygon points="253.0,503.6 245.9,508.2 245.0,501.0" fill="#111"/>
<polyline points="296.2,148.6 311.3,148.8 326.4,136.4 341.5,164.9 356.6,161.7 371.7,139.5" fill="none" stroke="#b8d4a0" stroke-width="0.7" stroke-dasharray="0.9 0.9" opacity="0.8"/>
<polyline points="296.2,156.2 311.3,144.4 326.4,146.8 341.5,164.0 356.6,165.5 371.7,146.7" fill="none" stroke="#a0c8a0" stroke-width="0.7" stroke-dasharray="0.9 0.9" opacity="0.8"/>
<polyline points="296.2,136.9 311.3,141.0 326.4,144.5 341.5,161.2 356.6,166.2 371.7,146.6" fill="none" stroke="#d0a8a8" stroke-width="0.7" stroke-dasharray="0.9 0.9" opacity="0.8"/>
<polyline points="296.2,157.8 311.3,151.3 326.4,158.6 341.5,167.4 356.6,172.8 371.7,158.8" fill="none" stroke="#80b8cc" stroke-width="0.7" stroke-dasharray="0.9 0.9" opacity="0.8"/>
<polyline points="296.2,151.7 311.3,156.9 326.4,141.1 341.5,170.5 356.6,170.7 371.7,155.9" fill="none" stroke="#a0c8a0" stroke-width="0.7" stroke-dasharray="0.9 0.9" opacity="0.8"/>
<polyline points="296.2,147.1 311.3,159.4 326.4,159.0 341.5,171.8 356.6,170.8 371.7,140.8" fill="none" stroke="#d0a8a8" stroke-width="0.7" stroke-dasharray="0.9 0.9" opacity="0.8"/>
<polyline points="296.2,145.3 311.3,150.6 326.4,142.9 341.5,156.3 356.6,164.1 371.7,145.2" fill="none" stroke="#aab2c2" stroke-width="0.7" stroke-dasharray="0.9 0.9" opacity="0.8"/>
<polyline points="296.2,135.9 311.3,160.8 326.4,148.5 341.5,163.1 356.6,164.2 371.7,141.2" fill="none" stroke="#aab2c2" stroke-width="0.7" stroke-dasharray="0.9 0.9" opacity="0.8"/>
<polyline points="296.2,149.2 311.3,141.5 326.4,142.7 341.5,165.9 356.6,164.9 371.7,147.7" fill="none" stroke="#80b8cc" stroke-width="0.7" stroke-dasharray="0.9 0.9" opacity="0.8"/>
<polyline points="296.2,146.8 311.3,148.0 326.4,145.3 341.5,166.3 356.6,162.7 371.7,148.2" fill="none" stroke="#8cc8d4" stroke-width="0.7" stroke-dasharray="0.9 0.9" opacity="0.8"/>
<polyline points="296.2,137.7 311.3,137.9 326.4,146.8 341.5,155.8 356.6,167.1 371.7,131.7" fill="none" stroke="#b8d4a0" stroke-width="0.7" stroke-dasharray="0.9 0.9" opacity="0.8"/>
<polyline points="296.2,143.8 311.3,156.2 326.4,151.5 341.5,165.8 356.6,164.5 371.7,138.5" fill="none" stroke="#a0c8a0" stroke-width="0.7" stroke-dasharray="0.9 0.9" opacity="0.8"/>
<polyline points="296.2,142.7 311.3,151.2 326.4,134.5 341.5,154.9 356.6,160.8 371.7,138.5" fill="none" stroke="#80b8cc" stroke-width="0.7" stroke-dasharray="0.9 0.9" opacity="0.8"/>
<polyline points="296.2,142.1 311.3,146.4 326.4,147.7 341.5,162.7 356.6,162.2 371.7,146.3" fill="none" stroke="#d0a8a8" stroke-width="0.7" stroke-dasharray="0.9 0.9" opacity="0.8"/>
<polyline points="296.2,137.6 311.3,152.2 326.4,131.7 341.5,161.2 356.6,161.9 371.7,143.9" fill="none" stroke="#80b8cc" stroke-width="0.7" stroke-dasharray="0.9 0.9" opacity="0.8"/>
<polyline points="296.2,155.2 311.3,158.7 326.4,146.9 341.5,165.5 356.6,163.1 371.7,143.4" fill="none" stroke="#a0c8a0" stroke-width="0.7" stroke-dasharray="0.9 0.9" opacity="0.8"/>
<polyline points="296.2,151.2 311.3,161.3 326.4,134.6 341.5,165.5 356.6,166.7 371.7,145.1" fill="none" stroke="#8cc8d4" stroke-width="0.7" stroke-dasharray="0.9 0.9" opacity="0.8"/>
<polyline points="296.2,154.8 311.3,148.5 326.4,135.2 341.5,162.0 356.6,170.3 371.7,148.1" fill="none" stroke="#a0c8a0" stroke-width="0.7" stroke-dasharray="0.9 0.9" opacity="0.8"/>
<polyline points="296.2,142.2 311.3,151.9 326.4,148.7 341.5,162.0 356.6,160.2 371.7,142.3" fill="none" stroke="#b8d4a0" stroke-width="0.7" stroke-dasharray="0.9 0.9" opacity="0.8"/>
<polyline points="296.2,143.2 311.3,144.6 326.4,144.1 341.5,171.2 356.6,161.8 371.7,146.2" fill="none" stroke="#d0a8a8" stroke-width="0.7" stroke-dasharray="0.9 0.9" opacity="0.8"/>
<polyline points="296.2,137.6 311.3,146.7 326.4,144.5 341.5,160.1 356.6,158.8 371.7,132.5" fill="none" stroke="#d0a8a8" stroke-width="0.7" stroke-dasharray="0.9 0.9" opacity="0.8"/>
<polyline points="296.2,138.8 311.3,139.5 326.4,142.8 341.5,157.2 356.6,163.0 371.7,138.2" fill="none" stroke="#aab2c2" stroke-width="0.7" stroke-dasharray="0.9 0.9" opacity="0.8"/>
<polyline points="296.2,144.1 311.3,148.8 326.4,140.5 341.5,168.8 356.6,167.2 371.7,150.9" fill="none" stroke="#98cc94" stroke-width="0.7" stroke-dasharray="0.9 0.9" opacity="0.8"/>
<polyline points="296.2,149.2 311.3,142.2 326.4,153.5 341.5,164.8 356.6,174.8 371.7,139.1" fill="none" stroke="#d0a8a8" stroke-width="0.7" stroke-dasharray="0.9 0.9" opacity="0.8"/>
<polyline points="296.2,145.6 311.3,150.8 326.4,132.1 341.5,162.1 356.6,164.5 371.7,151.7" fill="none" stroke="#98cc94" stroke-width="0.7" stroke-dasharray="0.9 0.9" opacity="0.8"/>
<polyline points="296.2,147.8 311.3,145.5 326.4,158.6 341.5,160.9 356.6,170.9 371.7,151.9" fill="none" stroke="#b8d4a0" stroke-width="0.7" stroke-dasharray="0.9 0.9" opacity="0.8"/>
<polyline points="296.2,146.1 311.3,145.0 326.4,149.5 341.5,160.6 356.6,160.4 371.7,142.7" fill="none" stroke="#b8d4a0" stroke-width="0.7" stroke-dasharray="0.9 0.9" opacity="0.8"/>
<polyline points="296.2,143.2 311.3,156.5 326.4,146.7 341.5,166.9 356.6,171.2 371.7,139.3" fill="none" stroke="#8cc8d4" stroke-width="0.7" stroke-dasharray="0.9 0.9" opacity="0.8"/>
<polyline points="296.2,152.6 311.3,145.4 326.4,143.4 341.5,156.7 356.6,162.0 371.7,133.1" fill="none" stroke="#8cc8d4" stroke-width="0.7" stroke-dasharray="0.9 0.9" opacity="0.8"/>
<polyline points="296.2,148.2 311.3,142.4 326.4,141.1 341.5,159.3 356.6,161.9 371.7,141.6" fill="none" stroke="#a0c8a0" stroke-width="0.7" stroke-dasharray="0.9 0.9" opacity="0.8"/>
<polyline points="296.2,154.7 311.3,148.8 326.4,138.1 341.5,164.4 356.6,162.8 371.7,149.5" fill="none" stroke="#b8d4a0" stroke-width="0.7" stroke-dasharray="0.9 0.9" opacity="0.8"/>
<polyline points="296.2,143.9 311.3,155.1 326.4,141.5 341.5,163.8 356.6,173.3 371.7,144.3" fill="none" stroke="#a0c8a0" stroke-width="0.7" stroke-dasharray="0.9 0.9" opacity="0.8"/>
<polyline points="296.2,139.6 311.3,146.5 326.4,153.0 341.5,162.2 356.6,162.8 371.7,144.0" fill="none" stroke="#98cc94" stroke-width="0.7" stroke-dasharray="0.9 0.9" opacity="0.8"/>
<polyline points="296.2,148.8 311.3,155.6 326.4,130.4 341.5,167.6 356.6,163.8 371.7,147.0" fill="none" stroke="#d0a8a8" stroke-width="0.7" stroke-dasharray="0.9 0.9" opacity="0.8"/>
<polyline points="296.2,142.2 311.3,151.1 326.4,136.6 341.5,163.8 356.6,159.4 371.7,136.2" fill="none" stroke="#b8d4a0" stroke-width="0.7" stroke-dasharray="0.9 0.9" opacity="0.8"/>
<polyline points="296.2,147.2 311.3,150.9 326.4,141.9 341.5,162.2 356.6,163.8 371.7,157.3" fill="none" stroke="#aab2c2" stroke-width="0.7" stroke-dasharray="0.9 0.9" opacity="0.8"/>
<polyline points="296.2,145.9 311.3,149.1 326.4,139.4 341.5,166.9 356.6,165.9 371.7,141.4" fill="none" stroke="#8cc8d4" stroke-width="0.7" stroke-dasharray="0.9 0.9" opacity="0.8"/>
<polyline points="296.2,149.1 311.3,148.6 326.4,139.5 341.5,163.0 356.6,165.8 371.7,145.3" fill="none" stroke="#b8d4a0" stroke-width="0.7" stroke-dasharray="0.9 0.9" opacity="0.8"/>
<polyline points="296.2,146.9 311.3,143.1 326.4,136.1 341.5,166.0 356.6,162.4 371.7,139.6" fill="none" stroke="#8cc8d4" stroke-width="0.7" stroke-dasharray="0.9 0.9" opacity="0.8"/>
<polyline points="296.2,159.5 311.3,154.4 326.4,158.2 341.5,167.5 356.6,170.6 371.7,161.3" fill="none" stroke="#98cc94" stroke-width="0.7" stroke-dasharray="0.9 0.9" opacity="0.8"/>
<polyline points="296.2,151.7 311.3,145.0 326.4,148.4 341.5,164.1 356.6,165.5 371.7,148.2" fill="none" stroke="#8cc8d4" stroke-width="0.7" stroke-dasharray="0.9 0.9" opacity="0.8"/>
<polyline points="296.2,141.8 311.3,146.8 326.4,149.1 341.5,156.9 356.6,163.6 371.7,156.7" fill="none" stroke="#98cc94" stroke-width="0.7" stroke-dasharray="0.9 0.9" opacity="0.8"/>
<polyline points="296.2,145.6 311.3,148.3 326.4,148.1 341.5,165.5 356.6,171.3 371.7,150.5" fill="none" stroke="#a0c8a0" stroke-width="0.7" stroke-dasharray="0.9 0.9" opacity="0.8"/>
<polyline points="296.2,143.3 311.3,148.8 326.4,153.6 341.5,163.8 356.6,162.0 371.7,136.8" fill="none" stroke="#aab2c2" stroke-width="0.7" stroke-dasharray="0.9 0.9" opacity="0.8"/>
<polyline points="296.2,143.3 311.3,145.8 326.4,144.3 341.5,162.0 356.6,161.9 371.7,150.4" fill="none" stroke="#98cc94" stroke-width="0.7" stroke-dasharray="0.9 0.9" opacity="0.8"/>
<polyline points="296.2,138.6 311.3,142.4 326.4,147.7 341.5,161.0 356.6,164.1 371.7,145.8" fill="none" stroke="#80b8cc" stroke-width="0.7" stroke-dasharray="0.9 0.9" opacity="0.8"/>
<polyline points="296.2,154.1 311.3,159.8 326.4,147.6 341.5,174.1 356.6,171.2 371.7,153.2" fill="none" stroke="#98cc94" stroke-width="0.7" stroke-dasharray="0.9 0.9" opacity="0.8"/>
<polyline points="296.2,135.9 311.3,144.2 326.4,137.1 341.5,163.2 356.6,162.4 371.7,132.2" fill="none" stroke="#a0c8a0" stroke-width="0.7" stroke-dasharray="0.9 0.9" opacity="0.8"/>
<polyline points="296.2,138.7 311.3,146.0 326.4,151.6 341.5,165.3 356.6,172.0 371.7,142.8" fill="none" stroke="#a0c8a0" stroke-width="0.7" stroke-dasharray="0.9 0.9" opacity="0.8"/>
<polyline points="296.2,143.0 311.3,149.2 326.4,138.7 341.5,161.0 356.6,163.3 371.7,151.2" fill="none" stroke="#a0c8a0" stroke-width="0.7" stroke-dasharray="0.9 0.9" opacity="0.8"/>
<polyline points="296.2,142.1 311.3,155.1 326.4,157.4 341.5,171.7 356.6,163.4 371.7,151.9" fill="none" stroke="#d0a8a8" stroke-width="0.7" stroke-dasharray="0.9 0.9" opacity="0.8"/>
<polyline points="296.2,143.4 311.3,154.8 326.4,145.5 341.5,164.6 356.6,170.6 371.7,140.4" fill="none" stroke="#aab2c2" stroke-width="0.7" stroke-dasharray="0.9 0.9" opacity="0.8"/>
<polyline points="296.2,152.2 311.3,151.2 326.4,157.7 341.5,166.7 356.6,172.5 371.7,161.3" fill="none" stroke="#a0c8a0" stroke-width="0.7" stroke-dasharray="0.9 0.9" opacity="0.8"/>
<polyline points="296.2,140.0 311.3,151.3 326.4,149.0 341.5,170.3 356.6,170.8 371.7,152.4" fill="none" stroke="#b8d4a0" stroke-width="0.7" stroke-dasharray="0.9 0.9" opacity="0.8"/>
<polyline points="296.2,148.7 311.3,145.4 326.4,130.0 341.5,159.1 356.6,161.1 371.7,139.9" fill="none" stroke="#aab2c2" stroke-width="0.7" stroke-dasharray="0.9 0.9" opacity="0.8"/>
<polyline points="296.2,147.0 311.3,154.9 326.4,138.3 341.5,166.6 356.6,160.3 371.7,136.8" fill="none" stroke="#80b8cc" stroke-width="0.7" stroke-dasharray="0.9 0.9" opacity="0.8"/>
<polyline points="296.2,154.7 311.3,142.4 326.4,129.7 341.5,169.5 356.6,162.2 371.7,147.9" fill="none" stroke="#b8d4a0" stroke-width="0.7" stroke-dasharray="0.9 0.9" opacity="0.8"/>
<polyline points="296.2,143.9 311.3,149.1 326.4,145.1 341.5,164.3 356.6,166.4 371.7,135.5" fill="none" stroke="#d0a8a8" stroke-width="0.7" stroke-dasharray="0.9 0.9" opacity="0.8"/>
<polyline points="296.2,143.2 311.3,150.1 326.4,154.5 341.5,161.5 356.6,169.9 371.7,156.7" fill="none" stroke="#aab2c2" stroke-width="0.7" stroke-dasharray="0.9 0.9" opacity="0.8"/>
<polyline points="296.2,152.5 311.3,158.5 326.4,142.9 341.5,166.1 356.6,157.8 371.7,156.9" fill="none" stroke="#b8d4a0" stroke-width="0.7" stroke-dasharray="0.9 0.9" opacity="0.8"/>
<polyline points="296.2,154.2 311.3,142.0 326.4,147.3 341.5,160.3 356.6,166.7 371.7,140.9" fill="none" stroke="#a0c8a0" stroke-width="0.7" stroke-dasharray="0.9 0.9" opacity="0.8"/>
<polyline points="296.2,151.8 311.3,148.3 326.4,144.0 341.5,162.2 356.6,173.4 371.7,160.2" fill="none" stroke="#8cc8d4" stroke-width="0.7" stroke-dasharray="0.9 0.9" opacity="0.8"/>
<polyline points="296.2,153.0 311.3,150.0 326.4,158.5 341.5,173.0 356.6,172.3 371.7,145.2" fill="none" stroke="#d0a8a8" stroke-width="0.7" stroke-dasharray="0.9 0.9" opacity="0.8"/>
<polyline points="296.2,140.9 311.3,152.7 326.4,142.9 341.5,159.5 356.6,158.3 371.7,136.0" fill="none" stroke="#80b8cc" stroke-width="0.7" stroke-dasharray="0.9 0.9" opacity="0.8"/>
<polyline points="296.2,145.0 311.3,148.9 326.4,143.5 341.5,166.9 356.6,163.9 371.7,136.2" fill="none" stroke="#b8d4a0" stroke-width="0.7" stroke-dasharray="0.9 0.9" opacity="0.8"/>
<polyline points="296.2,147.3 311.3,151.9 326.4,131.6 341.5,170.4 356.6,165.9 371.7,149.9" fill="none" stroke="#8cc8d4" stroke-width="0.7" stroke-dasharray="0.9 0.9" opacity="0.8"/>
<polyline points="296.2,138.0 311.3,146.8 326.4,134.7 341.5,159.5 356.6,163.3 371.7,145.2" fill="none" stroke="#98cc94" stroke-width="0.7" stroke-dasharray="0.9 0.9" opacity="0.8"/>
<polyline points="296.2,141.3 311.3,142.7 326.4,145.5 341.5,169.2 356.6,160.9 371.7,139.7" fill="none" stroke="#aab2c2" stroke-width="0.7" stroke-dasharray="0.9 0.9" opacity="0.8"/>
<polyline points="296.2,159.5 311.3,151.8 326.4,143.8 341.5,170.9 356.6,165.4 371.7,150.4" fill="none" stroke="#8cc8d4" stroke-width="0.7" stroke-dasharray="0.9 0.9" opacity="0.8"/>
<polyline points="296.2,143.2 311.3,152.7 326.4,153.1 341.5,165.4 356.6,157.6 371.7,154.9" fill="none" stroke="#d0a8a8" stroke-width="0.7" stroke-dasharray="0.9 0.9" opacity="0.8"/>
<polyline points="296.2,142.0 311.3,146.2 326.4,142.2 341.5,167.0 356.6,162.4 371.7,145.8" fill="none" stroke="#98cc94" stroke-width="0.7" stroke-dasharray="0.9 0.9" opacity="0.8"/>
<polyline points="296.2,144.5 311.3,144.6 326.4,141.0 341.5,165.8 356.6,163.9 371.7,142.0" fill="none" stroke="#98cc94" stroke-width="0.7" stroke-dasharray="0.9 0.9" opacity="0.8"/>
<polyline points="296.2,151.7 311.3,152.7 326.4,151.2 341.5,167.5 356.6,162.6 371.7,141.2" fill="none" stroke="#aab2c2" stroke-width="0.7" stroke-dasharray="0.9 0.9" opacity="0.8"/>
<polyline points="296.2,148.8 311.3,152.7 326.4,152.9 341.5,164.1 356.6,164.5 371.7,148.5" fill="none" stroke="#b8d4a0" stroke-width="0.7" stroke-dasharray="0.9 0.9" opacity="0.8"/>
<polyline points="296.2,137.4 311.3,137.9 326.4,135.1 341.5,162.9 356.6,154.9 371.7,130.0" fill="none" stroke="#8cc8d4" stroke-width="0.7" stroke-dasharray="0.9 0.9" opacity="0.8"/>
<polyline points="296.2,144.3 311.3,142.2 326.4,146.1 341.5,169.4 356.6,167.0 371.7,141.2" fill="none" stroke="#a0c8a0" stroke-width="0.7" stroke-dasharray="0.9 0.9" opacity="0.8"/>
<polyline points="296.2,145.2 311.3,146.8 326.4,147.7 341.5,169.2 356.6,166.4 371.7,149.4" fill="none" stroke="#a0c8a0" stroke-width="0.7" stroke-dasharray="0.9 0.9" opacity="0.8"/>
<polyline points="296.2,145.8 311.3,149.8 326.4,148.0 341.5,170.1 356.6,161.8 371.7,146.1" fill="none" stroke="#a0c8a0" stroke-width="0.7" stroke-dasharray="0.9 0.9" opacity="0.8"/>
<polyline points="296.2,142.7 311.3,149.8 326.4,143.3 341.5,161.4 356.6,163.3 371.7,157.5" fill="none" stroke="#80b8cc" stroke-width="0.7" stroke-dasharray="0.9 0.9" opacity="0.8"/>
<polyline points="296.2,144.2 311.3,152.8 326.4,139.8 341.5,163.7 356.6,163.1 371.7,145.9" fill="none" stroke="#aab2c2" stroke-width="0.7" stroke-dasharray="0.9 0.9" opacity="0.8"/>
<polyline points="296.2,144.6 311.3,156.6 326.4,160.0 341.5,169.0 356.6,173.6 371.7,146.4" fill="none" stroke="#98cc94" stroke-width="0.7" stroke-dasharray="0.9 0.9" opacity="0.8"/>
<polyline points="296.2,150.7 311.3,153.7 326.4,147.3 341.5,170.5 356.6,170.4 371.7,143.4" fill="none" stroke="#98cc94" stroke-width="0.7" stroke-dasharray="0.9 0.9" opacity="0.8"/>
<polyline points="296.2,145.0 311.3,137.9 326.4,131.9 341.5,160.6 356.6,158.5 371.7,143.0" fill="none" stroke="#8cc8d4" stroke-width="0.7" stroke-dasharray="0.9 0.9" opacity="0.8"/>
<polyline points="296.2,152.2 311.3,145.9 326.4,154.0 341.5,160.4 356.6,163.6 371.7,150.6" fill="none" stroke="#aab2c2" stroke-width="0.7" stroke-dasharray="0.9 0.9" opacity="0.8"/>
<polyline points="296.2,148.1 311.3,149.0 326.4,143.2 341.5,169.0 356.6,163.0 371.7,152.5" fill="none" stroke="#d0a8a8" stroke-width="0.7" stroke-dasharray="0.9 0.9" opacity="0.8"/>
<polyline points="296.2,152.0 311.3,149.2 326.4,155.9 341.5,163.6 356.6,167.6 371.7,138.2" fill="none" stroke="#8cc8d4" stroke-width="0.7" stroke-dasharray="0.9 0.9" opacity="0.8"/>
<polyline points="296.2,145.7 311.3,161.2 326.4,145.5 341.5,164.4 356.6,162.1 371.7,161.3" fill="none" stroke="#a0c8a0" stroke-width="0.7" stroke-dasharray="0.9 0.9" opacity="0.8"/>
<polyline points="296.2,140.6 311.3,142.6 326.4,127.7 341.5,162.3 356.6,158.8 371.7,144.8" fill="none" stroke="#8cc8d4" stroke-width="0.7" stroke-dasharray="0.9 0.9" opacity="0.8"/>
<polyline points="296.2,144.0 311.3,146.5 326.4,144.7 341.5,166.8 356.6,167.9 371.7,143.6" fill="none" stroke="#80b8cc" stroke-width="0.7" stroke-dasharray="0.9 0.9" opacity="0.8"/>
<polyline points="296.2,146.6 311.3,148.0 326.4,151.2 341.5,163.7 356.6,163.0 371.7,140.8" fill="none" stroke="#d0a8a8" stroke-width="0.7" stroke-dasharray="0.9 0.9" opacity="0.8"/>
<polyline points="296.2,146.4 311.3,154.2 326.4,157.2 341.5,160.9 356.6,160.9 371.7,160.7" fill="none" stroke="#b8d4a0" stroke-width="0.7" stroke-dasharray="0.9 0.9" opacity="0.8"/>
<polyline points="296.2,148.0 311.3,144.7 326.4,141.6 341.5,169.1 356.6,164.8 371.7,140.5" fill="none" stroke="#d0a8a8" stroke-width="0.7" stroke-dasharray="0.9 0.9" opacity="0.8"/>
<polyline points="296.2,141.0 311.3,145.6 326.4,136.1 341.5,160.7 356.6,160.3 371.7,142.9" fill="none" stroke="#80b8cc" stroke-width="0.7" stroke-dasharray="0.9 0.9" opacity="0.8"/>
<polyline points="296.2,147.4 311.3,148.7 326.4,138.3 341.5,170.2 356.6,164.3 371.7,160.7" fill="none" stroke="#b8d4a0" stroke-width="0.7" stroke-dasharray="0.9 0.9" opacity="0.8"/>
<polyline points="296.2,148.4 311.3,161.3 326.4,152.4 341.5,159.5 356.6,171.3 371.7,143.7" fill="none" stroke="#b8d4a0" stroke-width="0.7" stroke-dasharray="0.9 0.9" opacity="0.8"/>
<polyline points="296.2,147.1 311.3,145.7 326.4,147.1 341.5,164.2 356.6,162.3 371.7,145.4" fill="none" stroke="#aab2c2" stroke-width="0.7" stroke-dasharray="0.9 0.9" opacity="0.8"/>
<polyline points="296.2,148.6 311.3,148.4 326.4,155.5 341.5,161.0 356.6,165.8 371.7,140.4" fill="none" stroke="#aab2c2" stroke-width="0.7" stroke-dasharray="0.9 0.9" opacity="0.8"/>
<polyline points="296.2,153.2 311.3,155.1 326.4,140.8 341.5,163.4 356.6,174.7 371.7,150.5" fill="none" stroke="#aab2c2" stroke-width="0.7" stroke-dasharray="0.9 0.9" opacity="0.8"/>
<polyline points="296.2,143.5 311.3,150.1 326.4,138.6 341.5,165.3 356.6,163.6 371.7,140.8" fill="none" stroke="#d0a8a8" stroke-width="0.7" stroke-dasharray="0.9 0.9" opacity="0.8"/>
<polyline points="296.2,142.1 311.3,139.2 326.4,141.8 341.5,157.2 356.6,158.2 371.7,141.6" fill="none" stroke="#aab2c2" stroke-width="0.7" stroke-dasharray="0.9 0.9" opacity="0.8"/>
<polyline points="296.2,144.1 311.3,155.3 326.4,139.0 341.5,156.6 356.6,161.1 371.7,136.5" fill="none" stroke="#8cc8d4" stroke-width="0.7" stroke-dasharray="0.9 0.9" opacity="0.8"/>
<polyline points="296.2,142.7 311.3,147.7 326.4,142.1 341.5,166.2 356.6,162.5 371.7,148.6" fill="none" stroke="#80b8cc" stroke-width="0.7" stroke-dasharray="0.9 0.9" opacity="0.8"/>
<polyline points="296.2,140.4 311.3,145.6 326.4,151.7 341.5,159.0 356.6,160.9 371.7,143.7" fill="none" stroke="#a0c8a0" stroke-width="0.7" stroke-dasharray="0.9 0.9" opacity="0.8"/>
<polyline points="296.2,145.4 311.3,144.8 326.4,140.0 341.5,163.6 356.6,159.9 371.7,150.0" fill="none" stroke="#a0c8a0" stroke-width="0.7" stroke-dasharray="0.9 0.9" opacity="0.8"/>
<polyline points="296.2,141.1 311.3,154.3 326.4,138.9 341.5,166.0 356.6,164.0 371.7,143.3" fill="none" stroke="#a0c8a0" stroke-width="0.7" stroke-dasharray="0.9 0.9" opacity="0.8"/>
<polyline points="296.2,143.7 311.3,150.0 326.4,144.7 341.5,161.0 356.6,154.9 371.7,157.9" fill="none" stroke="#8cc8d4" stroke-width="0.7" stroke-dasharray="0.9 0.9" opacity="0.8"/>
<polyline points="296.2,152.0 311.3,147.7 326.4,146.3 341.5,165.1 356.6,165.9 371.7,145.6" fill="none" stroke="#d0a8a8" stroke-width="0.7" stroke-dasharray="0.9 0.9" opacity="0.8"/>
<polyline points="296.2,150.3 311.3,158.5 326.4,150.6 341.5,160.4 356.6,165.8 371.7,150.9" fill="none" stroke="#aab2c2" stroke-width="0.7" stroke-dasharray="0.9 0.9" opacity="0.8"/>
<polyline points="296.2,149.9 311.3,153.0 326.4,149.2 341.5,161.5 356.6,159.1 371.7,152.0" fill="none" stroke="#80b8cc" stroke-width="0.7" stroke-dasharray="0.9 0.9" opacity="0.8"/>
<polyline points="296.2,153.1 311.3,156.8 326.4,141.8 341.5,166.2 356.6,159.8 371.7,129.7" fill="none" stroke="#98cc94" stroke-width="0.7" stroke-dasharray="0.9 0.9" opacity="0.8"/>
<polyline points="296.2,141.0 311.3,148.0 326.4,137.9 341.5,149.4 356.6,158.6 371.7,150.2" fill="none" stroke="#80b8cc" stroke-width="0.6" stroke-dasharray="0.9 1.2" opacity="0.6"/>
<polyline points="296.2,121.1 311.3,158.8 326.4,133.2 341.5,167.2 356.6,165.8 371.7,111.2" fill="none" stroke="#80b8cc" stroke-width="0.6" stroke-dasharray="0.9 1.2" opacity="0.6"/>
<polyline points="296.2,143.9 311.3,139.0 326.4,145.1 341.5,149.4 356.6,169.7 371.7,139.1" fill="none" stroke="#a0c8a0" stroke-width="0.6" stroke-dasharray="0.9 1.2" opacity="0.6"/>
<polyline points="296.2,118.4 311.3,160.0 326.4,160.1 341.5,155.6 356.6,168.0 371.7,138.4" fill="none" stroke="#d0a8a8" stroke-width="0.6" stroke-dasharray="0.9 1.2" opacity="0.6"/>
<polyline points="296.2,118.4 311.3,154.2 326.4,149.3 341.5,160.0 356.6,171.9 371.7,111.2" fill="none" stroke="#8cc8d4" stroke-width="0.6" stroke-dasharray="0.9 1.2" opacity="0.6"/>
<polyline points="296.2,111.9 311.3,119.4 326.4,150.3 341.5,167.5 356.6,161.6 371.7,111.2" fill="none" stroke="#b8d4a0" stroke-width="0.6" stroke-dasharray="0.9 1.2" opacity="0.6"/>
<polyline points="296.2,151.0 311.3,117.4 326.4,136.8 341.5,166.2 356.6,174.7 371.7,144.5" fill="none" stroke="#a0c8a0" stroke-width="0.6" stroke-dasharray="0.9 1.2" opacity="0.6"/>
<polyline points="296.2,143.3 311.3,160.4 326.4,130.3 341.5,166.6 356.6,174.8 371.7,111.2" fill="none" stroke="#8cc8d4" stroke-width="0.6" stroke-dasharray="0.9 1.2" opacity="0.6"/>
<polyline points="296.2,113.8 311.3,108.3 326.4,129.1 341.5,159.8 356.6,158.1 371.7,138.6" fill="none" stroke="#b8d4a0" stroke-width="0.6" stroke-dasharray="0.9 1.2" opacity="0.6"/>
<polyline points="296.2,145.4 311.3,150.6 326.4,156.3 341.5,169.2 356.6,158.8 371.7,160.5" fill="none" stroke="#8cc8d4" stroke-width="0.6" stroke-dasharray="0.9 1.2" opacity="0.6"/>
<line x1="296.2" y1="153.3" x2="371.7" y2="153.3" stroke="#e8808c" stroke-width="1.3"/>
<line x1="296.2" y1="173.9" x2="371.7" y2="173.9" stroke="#a4d46c" stroke-width="1.2"/>
<line x1="296.2" y1="163.6" x2="371.7" y2="163.6" stroke="#3a3a3a" stroke-width="1.5"/>
<rect x="294.9" y="135.2" width="2.5" height="25.0" rx="1" fill="#000"/>
<circle cx="296.2" cy="126.6" r="1.25" fill="#000"/>
<circle cx="296.2" cy="129.2" r="1.25" fill="#000"/>
<circle cx="296.2" cy="131.6" r="1.25" fill="#000"/>
<circle cx="296.2" cy="134.4" r="1.25" fill="#000"/>
<circle cx="296.2" cy="111.9" r="1.3" fill="#000"/>
<circle cx="296.2" cy="113.8" r="1.3" fill="#000"/>
<circle cx="296.2" cy="118.4" r="1.3" fill="#000"/>
<circle cx="296.2" cy="121.1" r="1.3" fill="#000"/>
<rect x="310.1" y="137.2" width="2.5" height="24.8" rx="1" fill="#000"/>
<circle cx="311.3" cy="131.1" r="1.25" fill="#000"/>
<circle cx="311.3" cy="133.7" r="1.25" fill="#000"/>
<circle cx="311.3" cy="135.9" r="1.25" fill="#000"/>
<circle cx="311.3" cy="108.3" r="1.3" fill="#000"/>
<circle cx="311.3" cy="117.4" r="1.3" fill="#000"/>
<circle cx="311.3" cy="119.4" r="1.3" fill="#000"/>
<rect x="325.1" y="127.0" width="2.5" height="35.1" rx="1" fill="#000"/>
<circle cx="326.4" cy="111.9" r="1.25" fill="#000"/>
<circle cx="326.4" cy="114.3" r="1.25" fill="#000"/>
<circle cx="326.4" cy="117.2" r="1.25" fill="#000"/>
<circle cx="326.4" cy="120.2" r="1.25" fill="#000"/>
<circle cx="326.4" cy="122.3" r="1.25" fill="#000"/>
<circle cx="326.4" cy="124.9" r="1.25" fill="#000"/>
<circle cx="326.4" cy="127.3" r="1.25" fill="#000"/>
<rect x="340.2" y="154.2" width="2.5" height="20.6" rx="1" fill="#000"/>
<circle cx="341.5" cy="149.4" r="1.3" fill="#000"/>
<rect x="355.3" y="154.2" width="2.5" height="21.4" rx="1" fill="#000"/>
<rect x="370.4" y="129.0" width="2.5" height="33.0" rx="1" fill="#000"/>
<circle cx="371.7" cy="116.4" r="1.25" fill="#000"/>
<circle cx="371.7" cy="118.4" r="1.25" fill="#000"/>
<circle cx="371.7" cy="121.0" r="1.25" fill="#000"/>
<circle cx="371.7" cy="123.7" r="1.25" fill="#000"/>
<circle cx="371.7" cy="126.7" r="1.25" fill="#000"/>
<circle cx="371.7" cy="128.8" r="1.25" fill="#000"/>
<circle cx="371.7" cy="111.2" r="1.3" fill="#000"/>
<polyline points="296.2,144.5 311.3,148.9 326.4,143.1 341.5,163.6 356.6,164.0 371.7,144.8" fill="none" stroke="#27477f" stroke-width="1.4" stroke-linejoin="round"/>
<line x1="281.0" y1="91.2" x2="281.0" y2="184.6" stroke="#2a2a2a" stroke-width="1.5"/>
<line x1="279.2" y1="184.1" x2="281.0" y2="184.1" stroke="#333" stroke-width="0.9"/>
<text x="275.8" y="186.1" class="tk">-2</text>
<line x1="279.2" y1="173.9" x2="281.0" y2="173.9" stroke="#333" stroke-width="0.9"/>
<text x="275.8" y="175.9" class="tk">-1</text>
<line x1="279.2" y1="163.6" x2="281.0" y2="163.6" stroke="#333" stroke-width="0.9"/>
<text x="276.6" y="165.6" class="tk">0</text>
<line x1="279.2" y1="153.3" x2="281.0" y2="153.3" stroke="#333" stroke-width="0.9"/>
<text x="276.6" y="155.3" class="tk">1</text>
<line x1="279.2" y1="143.1" x2="281.0" y2="143.1" stroke="#333" stroke-width="0.9"/>
<text x="276.6" y="145.1" class="tk">2</text>
<line x1="279.2" y1="132.8" x2="281.0" y2="132.8" stroke="#333" stroke-width="0.9"/>
<text x="276.6" y="134.8" class="tk">3</text>
<line x1="279.2" y1="122.5" x2="281.0" y2="122.5" stroke="#333" stroke-width="0.9"/>
<text x="276.6" y="124.5" class="tk">4</text>
<line x1="279.2" y1="112.2" x2="281.0" y2="112.2" stroke="#333" stroke-width="0.9"/>
<text x="276.6" y="114.2" class="tk">5</text>
<line x1="279.2" y1="102.0" x2="281.0" y2="102.0" stroke="#333" stroke-width="0.9"/>
<text x="276.6" y="104.0" class="tk">6</text>
<line x1="279.2" y1="91.7" x2="281.0" y2="91.7" stroke="#333" stroke-width="0.9"/>
<text x="276.6" y="93.7" class="tk">7</text>
<text class="fc" transform="translate(263.8,139.2) rotate(-90)">Fold Change (log2)</text>
<text class="cl" transform="translate(300.8,87) rotate(-90)">Lm</text>
<text class="cl" transform="translate(314.3,87) rotate(-90)">Ld</text>
<text class="cl" transform="translate(329.3,87) rotate(-90)">Tg</text>
<text class="cl" transform="translate(345.7,87) rotate(-90)">Bm 50</text>
<text class="cl" transform="translate(360.2,87) rotate(-90)">Bm 5</text>
<text class="cl" transform="translate(374.4,87) rotate(-90)">Mtb</text>
<polyline points="437.6,170.3 452.7,158.4 467.8,170.6 482.8,163.6 497.9,169.8 513.0,151.5" fill="none" stroke="#98cc94" stroke-width="0.7" stroke-dasharray="0.9 0.9" opacity="0.8"/>
<polyline points="437.6,162.6 452.7,168.4 467.8,147.3 482.8,153.9 497.9,157.6 513.0,142.3" fill="none" stroke="#80b8cc" stroke-width="0.7" stroke-dasharray="0.9 0.9" opacity="0.8"/>
<polyline points="437.6,137.7 452.7,160.7 467.8,151.7 482.8,155.0 497.9,161.9 513.0,153.0" fill="none" stroke="#80b8cc" stroke-width="0.7" stroke-dasharray="0.9 0.9" opacity="0.8"/>
<polyline points="437.6,158.9 452.7,161.5 467.8,142.4 482.8,159.9 497.9,159.2 513.0,150.2" fill="none" stroke="#98cc94" stroke-width="0.7" stroke-dasharray="0.9 0.9" opacity="0.8"/>
<polyline points="437.6,154.6 452.7,148.5 467.8,153.2 482.8,157.9 497.9,159.5 513.0,138.8" fill="none" stroke="#b8d4a0" stroke-width="0.7" stroke-dasharray="0.9 0.9" opacity="0.8"/>
<polyline points="437.6,159.1 452.7,154.3 467.8,154.9 482.8,158.3 497.9,156.4 513.0,153.9" fill="none" stroke="#80b8cc" stroke-width="0.7" stroke-dasharray="0.9 0.9" opacity="0.8"/>
<polyline points="437.6,166.3 452.7,163.9 467.8,162.1 482.8,165.3 497.9,159.5 513.0,161.9" fill="none" stroke="#b8d4a0" stroke-width="0.7" stroke-dasharray="0.9 0.9" opacity="0.8"/>
<polyline points="437.6,157.8 452.7,162.5 467.8,155.6 482.8,161.0 497.9,160.7 513.0,172.3" fill="none" stroke="#8cc8d4" stroke-width="0.7" stroke-dasharray="0.9 0.9" opacity="0.8"/>
<polyline points="437.6,162.1 452.7,172.3 467.8,150.0 482.8,169.4 497.9,159.9 513.0,173.3" fill="none" stroke="#8cc8d4" stroke-width="0.7" stroke-dasharray="0.9 0.9" opacity="0.8"/>
<polyline points="437.6,163.5 452.7,175.1 467.8,157.0 482.8,166.5 497.9,167.8 513.0,156.0" fill="none" stroke="#a0c8a0" stroke-width="0.7" stroke-dasharray="0.9 0.9" opacity="0.8"/>
<polyline points="437.6,158.8 452.7,162.6 467.8,166.7 482.8,164.8 497.9,158.4 513.0,155.6" fill="none" stroke="#80b8cc" stroke-width="0.7" stroke-dasharray="0.9 0.9" opacity="0.8"/>
<polyline points="437.6,168.2 452.7,167.8 467.8,162.6 482.8,148.6 497.9,162.7 513.0,155.7" fill="none" stroke="#aab2c2" stroke-width="0.7" stroke-dasharray="0.9 0.9" opacity="0.8"/>
<polyline points="437.6,141.6 452.7,168.4 467.8,164.7 482.8,162.9 497.9,154.9 513.0,157.6" fill="none" stroke="#80b8cc" stroke-width="0.7" stroke-dasharray="0.9 0.9" opacity="0.8"/>
<polyline points="437.6,164.1 452.7,160.6 467.8,155.3 482.8,153.1 497.9,157.4 513.0,163.5" fill="none" stroke="#b8d4a0" stroke-width="0.7" stroke-dasharray="0.9 0.9" opacity="0.8"/>
<polyline points="437.6,129.4 452.7,156.3 467.8,154.7 482.8,153.6 497.9,147.1 513.0,133.8" fill="none" stroke="#98cc94" stroke-width="0.7" stroke-dasharray="0.9 0.9" opacity="0.8"/>
<polyline points="437.6,164.3 452.7,167.1 467.8,149.2 482.8,155.7 497.9,152.2 513.0,142.0" fill="none" stroke="#aab2c2" stroke-width="0.7" stroke-dasharray="0.9 0.9" opacity="0.8"/>
<polyline points="437.6,129.4 452.7,153.6 467.8,149.7 482.8,165.6 497.9,154.2 513.0,147.5" fill="none" stroke="#aab2c2" stroke-width="0.7" stroke-dasharray="0.9 0.9" opacity="0.8"/>
<polyline points="437.6,160.5 452.7,154.9 467.8,154.2 482.8,157.8 497.9,146.7 513.0,159.6" fill="none" stroke="#d0a8a8" stroke-width="0.7" stroke-dasharray="0.9 0.9" opacity="0.8"/>
<polyline points="437.6,147.3 452.7,147.2 467.8,137.7 482.8,157.9 497.9,150.7 513.0,145.2" fill="none" stroke="#a0c8a0" stroke-width="0.7" stroke-dasharray="0.9 0.9" opacity="0.8"/>
<polyline points="437.6,151.0 452.7,168.0 467.8,159.8 482.8,165.6 497.9,163.2 513.0,144.1" fill="none" stroke="#aab2c2" stroke-width="0.7" stroke-dasharray="0.9 0.9" opacity="0.8"/>
<polyline points="437.6,156.4 452.7,147.3 467.8,153.3 482.8,152.3 497.9,158.3 513.0,144.3" fill="none" stroke="#b8d4a0" stroke-width="0.7" stroke-dasharray="0.9 0.9" opacity="0.8"/>
<polyline points="437.6,147.6 452.7,151.2 467.8,148.7 482.8,156.8 497.9,146.8 513.0,153.2" fill="none" stroke="#a0c8a0" stroke-width="0.7" stroke-dasharray="0.9 0.9" opacity="0.8"/>
<polyline points="437.6,150.8 452.7,169.3 467.8,143.5 482.8,169.5 497.9,153.3 513.0,148.8" fill="none" stroke="#b8d4a0" stroke-width="0.7" stroke-dasharray="0.9 0.9" opacity="0.8"/>
<polyline points="437.6,129.4 452.7,151.9 467.8,153.3 482.8,152.2 497.9,144.4 513.0,133.8" fill="none" stroke="#a0c8a0" stroke-width="0.7" stroke-dasharray="0.9 0.9" opacity="0.8"/>
<polyline points="437.6,160.9 452.7,167.4 467.8,170.6 482.8,160.2 497.9,156.2 513.0,172.7" fill="none" stroke="#b8d4a0" stroke-width="0.7" stroke-dasharray="0.9 0.9" opacity="0.8"/>
<polyline points="437.6,161.2 452.7,153.5 467.8,154.1 482.8,164.0 497.9,157.9 513.0,157.7" fill="none" stroke="#80b8cc" stroke-width="0.7" stroke-dasharray="0.9 0.9" opacity="0.8"/>
<polyline points="437.6,157.3 452.7,162.1 467.8,150.8 482.8,164.4 497.9,164.1 513.0,167.0" fill="none" stroke="#8cc8d4" stroke-width="0.7" stroke-dasharray="0.9 0.9" opacity="0.8"/>
<polyline points="437.6,148.7 452.7,158.4 467.8,145.9 482.8,159.3 497.9,162.6 513.0,154.9" fill="none" stroke="#aab2c2" stroke-width="0.7" stroke-dasharray="0.9 0.9" opacity="0.8"/>
<polyline points="437.6,151.5 452.7,166.9 467.8,161.6 482.8,162.1 497.9,162.1 513.0,164.6" fill="none" stroke="#b8d4a0" stroke-width="0.7" stroke-dasharray="0.9 0.9" opacity="0.8"/>
<polyline points="437.6,140.3 452.7,162.7 467.8,168.1 482.8,160.7 497.9,160.7 513.0,152.6" fill="none" stroke="#aab2c2" stroke-width="0.7" stroke-dasharray="0.9 0.9" opacity="0.8"/>
<polyline points="437.6,160.9 452.7,175.1 467.8,166.5 482.8,159.7 497.9,165.8 513.0,154.1" fill="none" stroke="#aab2c2" stroke-width="0.7" stroke-dasharray="0.9 0.9" opacity="0.8"/>
<polyline points="437.6,166.3 452.7,163.2 467.8,166.2 482.8,159.8 497.9,162.3 513.0,157.1" fill="none" stroke="#8cc8d4" stroke-width="0.7" stroke-dasharray="0.9 0.9" opacity="0.8"/>
<polyline points="437.6,146.0 452.7,160.2 467.8,160.3 482.8,169.2 497.9,165.3 513.0,153.6" fill="none" stroke="#80b8cc" stroke-width="0.7" stroke-dasharray="0.9 0.9" opacity="0.8"/>
<polyline points="437.6,152.6 452.7,148.9 467.8,147.8 482.8,149.8 497.9,147.6 513.0,148.2" fill="none" stroke="#a0c8a0" stroke-width="0.7" stroke-dasharray="0.9 0.9" opacity="0.8"/>
<polyline points="437.6,151.6 452.7,153.3 467.8,137.3 482.8,159.5 497.9,153.1 513.0,156.0" fill="none" stroke="#b8d4a0" stroke-width="0.7" stroke-dasharray="0.9 0.9" opacity="0.8"/>
<polyline points="437.6,129.8 452.7,148.0 467.8,137.3 482.8,146.9 497.9,143.1 513.0,139.4" fill="none" stroke="#8cc8d4" stroke-width="0.7" stroke-dasharray="0.9 0.9" opacity="0.8"/>
<polyline points="437.6,166.3 452.7,149.1 467.8,151.5 482.8,159.0 497.9,143.1 513.0,149.9" fill="none" stroke="#aab2c2" stroke-width="0.7" stroke-dasharray="0.9 0.9" opacity="0.8"/>
<polyline points="437.6,150.0 452.7,170.6 467.8,159.4 482.8,155.5 497.9,154.6 513.0,158.1" fill="none" stroke="#a0c8a0" stroke-width="0.7" stroke-dasharray="0.9 0.9" opacity="0.8"/>
<polyline points="437.6,169.9 452.7,155.5 467.8,153.0 482.8,165.2 497.9,157.5 513.0,164.6" fill="none" stroke="#80b8cc" stroke-width="0.7" stroke-dasharray="0.9 0.9" opacity="0.8"/>
<polyline points="437.6,139.4 452.7,153.3 467.8,155.5 482.8,164.0 497.9,155.0 513.0,148.6" fill="none" stroke="#80b8cc" stroke-width="0.7" stroke-dasharray="0.9 0.9" opacity="0.8"/>
<polyline points="437.6,161.6 452.7,161.6 467.8,170.1 482.8,158.0 497.9,165.1 513.0,173.3" fill="none" stroke="#d0a8a8" stroke-width="0.7" stroke-dasharray="0.9 0.9" opacity="0.8"/>
<polyline points="437.6,135.9 452.7,156.8 467.8,143.1 482.8,163.7 497.9,163.4 513.0,148.1" fill="none" stroke="#d0a8a8" stroke-width="0.7" stroke-dasharray="0.9 0.9" opacity="0.8"/>
<polyline points="437.6,143.7 452.7,154.9 467.8,154.8 482.8,153.2 497.9,163.6 513.0,157.6" fill="none" stroke="#a0c8a0" stroke-width="0.7" stroke-dasharray="0.9 0.9" opacity="0.8"/>
<polyline points="437.6,158.2 452.7,154.8 467.8,147.1 482.8,150.1 497.9,144.3 513.0,165.1" fill="none" stroke="#80b8cc" stroke-width="0.7" stroke-dasharray="0.9 0.9" opacity="0.8"/>
<polyline points="437.6,137.4 452.7,153.2 467.8,152.6 482.8,154.3 497.9,143.7 513.0,145.9" fill="none" stroke="#8cc8d4" stroke-width="0.7" stroke-dasharray="0.9 0.9" opacity="0.8"/>
<polyline points="437.6,166.6 452.7,157.9 467.8,155.0 482.8,161.7 497.9,165.7 513.0,161.4" fill="none" stroke="#8cc8d4" stroke-width="0.7" stroke-dasharray="0.9 0.9" opacity="0.8"/>
<polyline points="437.6,137.8 452.7,148.1 467.8,155.8 482.8,154.6 497.9,153.5 513.0,147.8" fill="none" stroke="#80b8cc" stroke-width="0.7" stroke-dasharray="0.9 0.9" opacity="0.8"/>
<polyline points="437.6,148.4 452.7,149.5 467.8,151.2 482.8,158.3 497.9,165.7 513.0,158.9" fill="none" stroke="#d0a8a8" stroke-width="0.7" stroke-dasharray="0.9 0.9" opacity="0.8"/>
<polyline points="437.6,149.6 452.7,165.8 467.8,157.5 482.8,155.3 497.9,159.3 513.0,157.7" fill="none" stroke="#80b8cc" stroke-width="0.7" stroke-dasharray="0.9 0.9" opacity="0.8"/>
<polyline points="437.6,158.8 452.7,155.1 467.8,160.4 482.8,166.2 497.9,153.6 513.0,146.2" fill="none" stroke="#80b8cc" stroke-width="0.7" stroke-dasharray="0.9 0.9" opacity="0.8"/>
<polyline points="437.6,165.6 452.7,154.4 467.8,162.5 482.8,164.3 497.9,163.7 513.0,163.9" fill="none" stroke="#a0c8a0" stroke-width="0.7" stroke-dasharray="0.9 0.9" opacity="0.8"/>
<polyline points="437.6,159.5 452.7,144.2 467.8,150.5 482.8,168.4 497.9,163.7 513.0,152.4" fill="none" stroke="#98cc94" stroke-width="0.7" stroke-dasharray="0.9 0.9" opacity="0.8"/>
<polyline points="437.6,167.2 452.7,151.6 467.8,150.6 482.8,157.7 497.9,158.5 513.0,160.1" fill="none" stroke="#b8d4a0" stroke-width="0.7" stroke-dasharray="0.9 0.9" opacity="0.8"/>
<polyline points="437.6,163.2 452.7,158.3 467.8,155.6 482.8,161.3 497.9,160.3 513.0,158.3" fill="none" stroke="#98cc94" stroke-width="0.7" stroke-dasharray="0.9 0.9" opacity="0.8"/>
<polyline points="437.6,149.6 452.7,150.7 467.8,159.7 482.8,145.1 497.9,147.1 513.0,152.8" fill="none" stroke="#d0a8a8" stroke-width="0.7" stroke-dasharray="0.9 0.9" opacity="0.8"/>
<polyline points="437.6,158.5 452.7,161.4 467.8,153.3 482.8,153.7 497.9,161.7 513.0,157.9" fill="none" stroke="#b8d4a0" stroke-width="0.7" stroke-dasharray="0.9 0.9" opacity="0.8"/>
<polyline points="437.6,150.9 452.7,167.0 467.8,155.5 482.8,170.6 497.9,169.8 513.0,161.6" fill="none" stroke="#80b8cc" stroke-width="0.7" stroke-dasharray="0.9 0.9" opacity="0.8"/>
<polyline points="437.6,150.4 452.7,152.9 467.8,151.3 482.8,157.3 497.9,156.1 513.0,147.3" fill="none" stroke="#b8d4a0" stroke-width="0.7" stroke-dasharray="0.9 0.9" opacity="0.8"/>
<polyline points="437.6,153.9 452.7,153.5 467.8,149.8 482.8,165.4 497.9,152.1 513.0,154.1" fill="none" stroke="#b8d4a0" stroke-width="0.7" stroke-dasharray="0.9 0.9" opacity="0.8"/>
<polyline points="437.6,163.1 452.7,159.6 467.8,159.1 482.8,162.8 497.9,153.5 513.0,169.4" fill="none" stroke="#b8d4a0" stroke-width="0.7" stroke-dasharray="0.9 0.9" opacity="0.8"/>
<polyline points="437.6,144.1 452.7,155.7 467.8,147.9 482.8,157.8 497.9,152.2 513.0,152.6" fill="none" stroke="#a0c8a0" stroke-width="0.7" stroke-dasharray="0.9 0.9" opacity="0.8"/>
<polyline points="437.6,166.5 452.7,147.9 467.8,157.7 482.8,165.2 497.9,169.1 513.0,149.8" fill="none" stroke="#8cc8d4" stroke-width="0.7" stroke-dasharray="0.9 0.9" opacity="0.8"/>
<polyline points="437.6,159.2 452.7,160.9 467.8,151.7 482.8,156.5 497.9,157.8 513.0,154.4" fill="none" stroke="#d0a8a8" stroke-width="0.7" stroke-dasharray="0.9 0.9" opacity="0.8"/>
<polyline points="437.6,153.8 452.7,160.3 467.8,154.2 482.8,164.0 497.9,164.8 513.0,152.6" fill="none" stroke="#aab2c2" stroke-width="0.7" stroke-dasharray="0.9 0.9" opacity="0.8"/>
<polyline points="437.6,129.4 452.7,154.4 467.8,137.3 482.8,145.2 497.9,143.1 513.0,133.8" fill="none" stroke="#d0a8a8" stroke-width="0.7" stroke-dasharray="0.9 0.9" opacity="0.8"/>
<polyline points="437.6,149.5 452.7,155.5 467.8,141.4 482.8,153.6 497.9,158.5 513.0,149.8" fill="none" stroke="#80b8cc" stroke-width="0.7" stroke-dasharray="0.9 0.9" opacity="0.8"/>
<polyline points="437.6,160.8 452.7,167.4 467.8,155.4 482.8,155.5 497.9,158.6 513.0,146.4" fill="none" stroke="#b8d4a0" stroke-width="0.7" stroke-dasharray="0.9 0.9" opacity="0.8"/>
<polyline points="437.6,149.5 452.7,157.3 467.8,149.7 482.8,158.7 497.9,156.2 513.0,153.5" fill="none" stroke="#b8d4a0" stroke-width="0.7" stroke-dasharray="0.9 0.9" opacity="0.8"/>
<polyline points="437.6,157.7 452.7,153.1 467.8,170.6 482.8,161.0 497.9,155.9 513.0,164.6" fill="none" stroke="#98cc94" stroke-width="0.7" stroke-dasharray="0.9 0.9" opacity="0.8"/>
<polyline points="437.6,149.7 452.7,156.5 467.8,150.0 482.8,156.4 497.9,153.6 513.0,161.4" fill="none" stroke="#a0c8a0" stroke-width="0.7" stroke-dasharray="0.9 0.9" opacity="0.8"/>
<polyline points="437.6,166.0 452.7,164.2 467.8,152.6 482.8,166.5 497.9,154.5 513.0,158.5" fill="none" stroke="#8cc8d4" stroke-width="0.7" stroke-dasharray="0.9 0.9" opacity="0.8"/>
<polyline points="437.6,146.8 452.7,160.5 467.8,166.2 482.8,155.8 497.9,158.5 513.0,149.9" fill="none" stroke="#aab2c2" stroke-width="0.7" stroke-dasharray="0.9 0.9" opacity="0.8"/>
<polyline points="437.6,162.6 452.7,166.9 467.8,155.9 482.8,160.9 497.9,160.4 513.0,173.3" fill="none" stroke="#a0c8a0" stroke-width="0.7" stroke-dasharray="0.9 0.9" opacity="0.8"/>
<polyline points="437.6,161.4 452.7,152.9 467.8,152.6 482.8,155.6 497.9,158.0 513.0,154.0" fill="none" stroke="#98cc94" stroke-width="0.7" stroke-dasharray="0.9 0.9" opacity="0.8"/>
<polyline points="437.6,166.1 452.7,153.1 467.8,152.8 482.8,155.6 497.9,161.0 513.0,149.8" fill="none" stroke="#aab2c2" stroke-width="0.7" stroke-dasharray="0.9 0.9" opacity="0.8"/>
<polyline points="437.6,161.3 452.7,167.1 467.8,160.5 482.8,161.0 497.9,155.0 513.0,164.0" fill="none" stroke="#8cc8d4" stroke-width="0.7" stroke-dasharray="0.9 0.9" opacity="0.8"/>
<polyline points="437.6,167.5 452.7,159.5 467.8,143.0 482.8,161.3 497.9,157.5 513.0,150.1" fill="none" stroke="#aab2c2" stroke-width="0.7" stroke-dasharray="0.9 0.9" opacity="0.8"/>
<polyline points="437.6,159.1 452.7,155.8 467.8,144.6 482.8,156.2 497.9,157.6 513.0,153.7" fill="none" stroke="#8cc8d4" stroke-width="0.7" stroke-dasharray="0.9 0.9" opacity="0.8"/>
<polyline points="437.6,148.1 452.7,163.1 467.8,141.2 482.8,149.5 497.9,158.9 513.0,149.3" fill="none" stroke="#aab2c2" stroke-width="0.7" stroke-dasharray="0.9 0.9" opacity="0.8"/>
<polyline points="437.6,143.0 452.7,148.2 467.8,143.9 482.8,148.0 497.9,144.5 513.0,133.8" fill="none" stroke="#aab2c2" stroke-width="0.7" stroke-dasharray="0.9 0.9" opacity="0.8"/>
<polyline points="437.6,158.0 452.7,162.1 467.8,164.0 482.8,152.2 497.9,163.6 513.0,151.7" fill="none" stroke="#98cc94" stroke-width="0.7" stroke-dasharray="0.9 0.9" opacity="0.8"/>
<polyline points="437.6,158.2 452.7,153.2 467.8,161.7 482.8,152.9 497.9,148.8 513.0,153.5" fill="none" stroke="#b8d4a0" stroke-width="0.7" stroke-dasharray="0.9 0.9" opacity="0.8"/>
<polyline points="437.6,157.9 452.7,156.2 467.8,162.3 482.8,146.1 497.9,154.9 513.0,145.5" fill="none" stroke="#b8d4a0" stroke-width="0.7" stroke-dasharray="0.9 0.9" opacity="0.8"/>
<polyline points="437.6,153.7 452.7,161.9 467.8,157.0 482.8,156.8 497.9,155.1 513.0,157.7" fill="none" stroke="#80b8cc" stroke-width="0.7" stroke-dasharray="0.9 0.9" opacity="0.8"/>
<polyline points="437.6,148.2 452.7,162.2 467.8,153.0 482.8,162.2 497.9,145.8 513.0,151.2" fill="none" stroke="#80b8cc" stroke-width="0.7" stroke-dasharray="0.9 0.9" opacity="0.8"/>
<polyline points="437.6,171.3 452.7,165.6 467.8,159.2 482.8,161.8 497.9,165.6 513.0,160.7" fill="none" stroke="#b8d4a0" stroke-width="0.7" stroke-dasharray="0.9 0.9" opacity="0.8"/>
<polyline points="437.6,135.2 452.7,149.1 467.8,150.2 482.8,152.0 497.9,157.9 513.0,152.0" fill="none" stroke="#80b8cc" stroke-width="0.7" stroke-dasharray="0.9 0.9" opacity="0.8"/>
<polyline points="437.6,160.0 452.7,164.2 467.8,164.2 482.8,167.2 497.9,169.6 513.0,171.0" fill="none" stroke="#a0c8a0" stroke-width="0.7" stroke-dasharray="0.9 0.9" opacity="0.8"/>
<polyline points="437.6,152.7 452.7,155.0 467.8,156.4 482.8,165.1 497.9,157.0 513.0,159.6" fill="none" stroke="#a0c8a0" stroke-width="0.7" stroke-dasharray="0.9 0.9" opacity="0.8"/>
<polyline points="437.6,151.5 452.7,175.1 467.8,162.3 482.8,168.8 497.9,169.6 513.0,162.3" fill="none" stroke="#aab2c2" stroke-width="0.7" stroke-dasharray="0.9 0.9" opacity="0.8"/>
<polyline points="437.6,152.3 452.7,155.6 467.8,157.5 482.8,158.2 497.9,156.3 513.0,150.5" fill="none" stroke="#a0c8a0" stroke-width="0.7" stroke-dasharray="0.9 0.9" opacity="0.8"/>
<polyline points="437.6,161.0 452.7,175.1 467.8,166.1 482.8,152.5 497.9,164.3 513.0,149.0" fill="none" stroke="#8cc8d4" stroke-width="0.7" stroke-dasharray="0.9 0.9" opacity="0.8"/>
<polyline points="437.6,149.3 452.7,151.0 467.8,153.3 482.8,162.3 497.9,147.7 513.0,141.1" fill="none" stroke="#80b8cc" stroke-width="0.7" stroke-dasharray="0.9 0.9" opacity="0.8"/>
<polyline points="437.6,154.2 452.7,153.0 467.8,152.9 482.8,162.8 497.9,153.6 513.0,158.2" fill="none" stroke="#b8d4a0" stroke-width="0.7" stroke-dasharray="0.9 0.9" opacity="0.8"/>
<polyline points="437.6,145.5 452.7,157.6 467.8,139.0 482.8,156.4 497.9,152.6 513.0,147.7" fill="none" stroke="#aab2c2" stroke-width="0.7" stroke-dasharray="0.9 0.9" opacity="0.8"/>
<polyline points="437.6,147.6 452.7,154.9 467.8,167.9 482.8,164.0 497.9,167.8 513.0,146.3" fill="none" stroke="#98cc94" stroke-width="0.7" stroke-dasharray="0.9 0.9" opacity="0.8"/>
<polyline points="437.6,140.3 452.7,158.6 467.8,159.0 482.8,158.6 497.9,160.8 513.0,160.5" fill="none" stroke="#d0a8a8" stroke-width="0.7" stroke-dasharray="0.9 0.9" opacity="0.8"/>
<polyline points="437.6,139.5 452.7,153.0 467.8,145.7 482.8,166.0 497.9,158.0 513.0,159.5" fill="none" stroke="#b8d4a0" stroke-width="0.7" stroke-dasharray="0.9 0.9" opacity="0.8"/>
<polyline points="437.6,160.5 452.7,163.9 467.8,153.8 482.8,154.3 497.9,158.3 513.0,165.3" fill="none" stroke="#98cc94" stroke-width="0.7" stroke-dasharray="0.9 0.9" opacity="0.8"/>
<polyline points="437.6,137.5 452.7,149.0 467.8,152.9 482.8,157.0 497.9,151.3 513.0,138.2" fill="none" stroke="#d0a8a8" stroke-width="0.7" stroke-dasharray="0.9 0.9" opacity="0.8"/>
<polyline points="437.6,159.4 452.7,116.7 467.8,181.0 482.8,162.5 497.9,152.5 513.0,164.2" fill="none" stroke="#d0a8a8" stroke-width="0.6" stroke-dasharray="0.9 1.2" opacity="0.6"/>
<polyline points="437.6,138.5 452.7,175.1 467.8,166.9 482.8,134.8 497.9,167.0 513.0,144.2" fill="none" stroke="#a0c8a0" stroke-width="0.6" stroke-dasharray="0.9 1.2" opacity="0.6"/>
<polyline points="437.6,166.0 452.7,158.1 467.8,141.7 482.8,161.3 497.9,164.5 513.0,104.3" fill="none" stroke="#b8d4a0" stroke-width="0.6" stroke-dasharray="0.9 1.2" opacity="0.6"/>
<polyline points="437.6,129.9 452.7,167.5 467.8,155.1 482.8,138.5 497.9,166.2 513.0,104.3" fill="none" stroke="#aab2c2" stroke-width="0.6" stroke-dasharray="0.9 1.2" opacity="0.6"/>
<polyline points="437.6,170.9 452.7,152.7 467.8,111.7 482.8,145.1 497.9,164.5 513.0,104.3" fill="none" stroke="#aab2c2" stroke-width="0.6" stroke-dasharray="0.9 1.2" opacity="0.6"/>
<polyline points="437.6,145.4 452.7,172.4 467.8,134.8 482.8,133.8 497.9,168.4 513.0,163.9" fill="none" stroke="#d0a8a8" stroke-width="0.6" stroke-dasharray="0.9 1.2" opacity="0.6"/>
<polyline points="437.6,167.6 452.7,157.9 467.8,164.6 482.8,148.8 497.9,174.6 513.0,141.3" fill="none" stroke="#8cc8d4" stroke-width="0.6" stroke-dasharray="0.9 1.2" opacity="0.6"/>
<polyline points="437.6,167.9 452.7,174.4 467.8,138.7 482.8,168.6 497.9,164.6 513.0,172.8" fill="none" stroke="#80b8cc" stroke-width="0.6" stroke-dasharray="0.9 1.2" opacity="0.6"/>
<polyline points="437.6,116.7 452.7,149.1 467.8,169.8 482.8,138.5 497.9,153.9 513.0,147.8" fill="none" stroke="#d0a8a8" stroke-width="0.6" stroke-dasharray="0.9 1.2" opacity="0.6"/>
<polyline points="437.6,164.5 452.7,152.7 467.8,143.2 482.8,147.7 497.9,137.9 513.0,167.4" fill="none" stroke="#a0c8a0" stroke-width="0.6" stroke-dasharray="0.9 1.2" opacity="0.6"/>
<line x1="437.6" y1="153.3" x2="513.0" y2="153.3" stroke="#e8808c" stroke-width="1.3"/>
<line x1="437.6" y1="173.9" x2="513.0" y2="173.9" stroke="#a4d46c" stroke-width="1.2"/>
<line x1="437.6" y1="163.6" x2="513.0" y2="163.6" stroke="#3a3a3a" stroke-width="1.5"/>
<rect x="436.4" y="128.7" width="2.5" height="46.2" rx="1" fill="#000"/>
<circle cx="437.6" cy="121.2" r="1.25" fill="#000"/>
<circle cx="437.6" cy="123.4" r="1.25" fill="#000"/>
<circle cx="437.6" cy="126.3" r="1.25" fill="#000"/>
<circle cx="437.6" cy="128.5" r="1.25" fill="#000"/>
<circle cx="437.6" cy="111.7" r="1.3" fill="#000"/>
<circle cx="437.6" cy="116.7" r="1.3" fill="#000"/>
<rect x="451.4" y="143.4" width="2.5" height="32.4" rx="1" fill="#000"/>
<circle cx="452.7" cy="126.6" r="1.25" fill="#000"/>
<circle cx="452.7" cy="129.1" r="1.25" fill="#000"/>
<circle cx="452.7" cy="131.3" r="1.25" fill="#000"/>
<circle cx="452.7" cy="133.5" r="1.25" fill="#000"/>
<circle cx="452.7" cy="136.0" r="1.25" fill="#000"/>
<circle cx="452.7" cy="138.0" r="1.25" fill="#000"/>
<circle cx="452.7" cy="116.7" r="1.3" fill="#000"/>
<rect x="466.5" y="136.6" width="2.5" height="34.7" rx="1" fill="#000"/>
<circle cx="467.8" cy="111.7" r="1.3" fill="#000"/>
<circle cx="467.8" cy="127.7" r="1.3" fill="#000"/>
<circle cx="467.8" cy="131.2" r="1.3" fill="#000"/>
<circle cx="467.8" cy="134.8" r="1.3" fill="#000"/>
<circle cx="467.8" cy="181.0" r="1.3" fill="#000"/>
<rect x="481.6" y="144.4" width="2.5" height="26.9" rx="1" fill="#000"/>
<circle cx="482.8" cy="133.8" r="1.3" fill="#000"/>
<circle cx="482.8" cy="134.8" r="1.3" fill="#000"/>
<circle cx="482.8" cy="138.5" r="1.3" fill="#000"/>
<rect x="496.7" y="142.4" width="2.5" height="28.1" rx="1" fill="#000"/>
<circle cx="497.9" cy="132.2" r="1.3" fill="#000"/>
<circle cx="497.9" cy="137.9" r="1.3" fill="#000"/>
<circle cx="497.9" cy="140.4" r="1.3" fill="#000"/>
<circle cx="497.9" cy="174.6" r="1.3" fill="#000"/>
<rect x="511.8" y="133.1" width="2.5" height="40.8" rx="1" fill="#000"/>
<circle cx="513.0" cy="122.1" r="1.25" fill="#000"/>
<circle cx="513.0" cy="125.0" r="1.25" fill="#000"/>
<circle cx="513.0" cy="127.8" r="1.25" fill="#000"/>
<circle cx="513.0" cy="104.3" r="1.3" fill="#000"/>
<polyline points="437.6,153.2 452.7,156.8 467.8,154.0 482.8,158.7 497.9,158.7 513.0,153.2" fill="none" stroke="#27477f" stroke-width="1.4" stroke-linejoin="round"/>
<line x1="422.5" y1="91.2" x2="422.5" y2="184.6" stroke="#2a2a2a" stroke-width="1.5"/>
<line x1="420.7" y1="184.1" x2="422.5" y2="184.1" stroke="#333" stroke-width="0.9"/>
<text x="417.3" y="186.1" class="tk">-2</text>
<line x1="420.7" y1="173.9" x2="422.5" y2="173.9" stroke="#333" stroke-width="0.9"/>
<text x="417.3" y="175.9" class="tk">-1</text>
<line x1="420.7" y1="163.6" x2="422.5" y2="163.6" stroke="#333" stroke-width="0.9"/>
<text x="418.1" y="165.6" class="tk">0</text>
<line x1="420.7" y1="153.3" x2="422.5" y2="153.3" stroke="#333" stroke-width="0.9"/>
<text x="418.1" y="155.3" class="tk">1</text>
<line x1="420.7" y1="143.1" x2="422.5" y2="143.1" stroke="#333" stroke-width="0.9"/>
<text x="418.1" y="145.1" class="tk">2</text>
<line x1="420.7" y1="132.8" x2="422.5" y2="132.8" stroke="#333" stroke-width="0.9"/>
<text x="418.1" y="134.8" class="tk">3</text>
<line x1="420.7" y1="122.5" x2="422.5" y2="122.5" stroke="#333" stroke-width="0.9"/>
<text x="418.1" y="124.5" class="tk">4</text>
<line x1="420.7" y1="112.2" x2="422.5" y2="112.2" stroke="#333" stroke-width="0.9"/>
<text x="418.1" y="114.2" class="tk">5</text>
<line x1="420.7" y1="102.0" x2="422.5" y2="102.0" stroke="#333" stroke-width="0.9"/>
<text x="418.1" y="104.0" class="tk">6</text>
<line x1="420.7" y1="91.7" x2="422.5" y2="91.7" stroke="#333" stroke-width="0.9"/>
<text x="418.1" y="93.7" class="tk">7</text>
<text class="cl" transform="translate(442.2,87) rotate(-90)">Lm</text>
<text class="cl" transform="translate(455.7,87) rotate(-90)">Ld</text>
<text class="cl" transform="translate(470.7,87) rotate(-90)">Tg</text>
<text class="cl" transform="translate(487.0,87) rotate(-90)">Bm 50</text>
<text class="cl" transform="translate(501.5,87) rotate(-90)">Bm 5</text>
<text class="cl" transform="translate(515.7,87) rotate(-90)">Mtb</text>
<polyline points="296.2,276.0 311.3,282.5 326.4,292.3 341.5,294.7 356.6,304.3 371.7,270.9" fill="none" stroke="#80b8cc" stroke-width="0.7" stroke-dasharray="0.9 0.9" opacity="0.8"/>
<polyline points="296.2,271.1 311.3,274.8 326.4,282.3 341.5,298.1 356.6,299.2 371.7,258.8" fill="none" stroke="#98cc94" stroke-width="0.7" stroke-dasharray="0.9 0.9" opacity="0.8"/>
<polyline points="296.2,276.0 311.3,279.2 326.4,283.9 341.5,302.8 356.6,296.1 371.7,269.0" fill="none" stroke="#a0c8a0" stroke-width="0.7" stroke-dasharray="0.9 0.9" opacity="0.8"/>
<polyline points="296.2,260.6 311.3,279.3 326.4,293.1 341.5,294.7 356.6,299.0 371.7,267.4" fill="none" stroke="#98cc94" stroke-width="0.7" stroke-dasharray="0.9 0.9" opacity="0.8"/>
<polyline points="296.2,258.8 311.3,278.7 326.4,277.7 341.5,294.4 356.6,290.3 371.7,259.4" fill="none" stroke="#80b8cc" stroke-width="0.7" stroke-dasharray="0.9 0.9" opacity="0.8"/>
<polyline points="296.2,267.2 311.3,266.9 326.4,280.7 341.5,303.0 356.6,295.1 371.7,259.0" fill="none" stroke="#aab2c2" stroke-width="0.7" stroke-dasharray="0.9 0.9" opacity="0.8"/>
<polyline points="296.2,272.5 311.3,283.7 326.4,287.9 341.5,291.5 356.6,291.0 371.7,265.3" fill="none" stroke="#8cc8d4" stroke-width="0.7" stroke-dasharray="0.9 0.9" opacity="0.8"/>
<polyline points="296.2,234.2 311.3,270.6 326.4,295.9 341.5,290.1 356.6,292.3 371.7,254.8" fill="none" stroke="#b8d4a0" stroke-width="0.7" stroke-dasharray="0.9 0.9" opacity="0.8"/>
<polyline points="296.2,268.8 311.3,274.6 326.4,288.6 341.5,296.9 356.6,301.5 371.7,275.8" fill="none" stroke="#a0c8a0" stroke-width="0.7" stroke-dasharray="0.9 0.9" opacity="0.8"/>
<polyline points="296.2,246.7 311.3,264.9 326.4,282.6 341.5,294.3 356.6,291.8 371.7,252.3" fill="none" stroke="#8cc8d4" stroke-width="0.7" stroke-dasharray="0.9 0.9" opacity="0.8"/>
<polyline points="296.2,257.0 311.3,269.2 326.4,287.2 341.5,299.4 356.6,298.4 371.7,257.9" fill="none" stroke="#98cc94" stroke-width="0.7" stroke-dasharray="0.9 0.9" opacity="0.8"/>
<polyline points="296.2,275.0 311.3,291.8 326.4,292.1 341.5,293.9 356.6,300.6 371.7,268.5" fill="none" stroke="#d0a8a8" stroke-width="0.7" stroke-dasharray="0.9 0.9" opacity="0.8"/>
<polyline points="296.2,268.0 311.3,287.1 326.4,288.5 341.5,302.0 356.6,299.1 371.7,262.2" fill="none" stroke="#b8d4a0" stroke-width="0.7" stroke-dasharray="0.9 0.9" opacity="0.8"/>
<polyline points="296.2,242.8 311.3,280.7 326.4,286.4 341.5,292.5 356.6,294.4 371.7,256.2" fill="none" stroke="#80b8cc" stroke-width="0.7" stroke-dasharray="0.9 0.9" opacity="0.8"/>
<polyline points="296.2,278.2 311.3,291.8 326.4,296.8 341.5,304.6 356.6,302.0 371.7,285.5" fill="none" stroke="#a0c8a0" stroke-width="0.7" stroke-dasharray="0.9 0.9" opacity="0.8"/>
<polyline points="296.2,261.5 311.3,276.8 326.4,291.7 341.5,300.1 356.6,293.0 371.7,256.8" fill="none" stroke="#80b8cc" stroke-width="0.7" stroke-dasharray="0.9 0.9" opacity="0.8"/>
<polyline points="296.2,254.9 311.3,265.0 326.4,289.1 341.5,293.8 356.6,294.5 371.7,256.4" fill="none" stroke="#a0c8a0" stroke-width="0.7" stroke-dasharray="0.9 0.9" opacity="0.8"/>
<polyline points="296.2,245.6 311.3,278.5 326.4,285.0 341.5,294.1 356.6,289.9 371.7,265.0" fill="none" stroke="#8cc8d4" stroke-width="0.7" stroke-dasharray="0.9 0.9" opacity="0.8"/>
<polyline points="296.2,256.2 311.3,270.5 326.4,287.5 341.5,299.6 356.6,297.8 371.7,257.0" fill="none" stroke="#8cc8d4" stroke-width="0.7" stroke-dasharray="0.9 0.9" opacity="0.8"/>
<polyline points="296.2,264.9 311.3,271.8 326.4,277.8 341.5,293.3 356.6,296.4 371.7,251.6" fill="none" stroke="#a0c8a0" stroke-width="0.7" stroke-dasharray="0.9 0.9" opacity="0.8"/>
<polyline points="296.2,280.8 311.3,280.7 326.4,288.9 341.5,297.5 356.6,299.6 371.7,261.7" fill="none" stroke="#d0a8a8" stroke-width="0.7" stroke-dasharray="0.9 0.9" opacity="0.8"/>
<polyline points="296.2,253.6 311.3,269.4 326.4,288.9 341.5,291.6 356.6,297.7 371.7,253.5" fill="none" stroke="#98cc94" stroke-width="0.7" stroke-dasharray="0.9 0.9" opacity="0.8"/>
<polyline points="296.2,248.7 311.3,267.6 326.4,283.9 341.5,292.9 356.6,290.1 371.7,257.5" fill="none" stroke="#aab2c2" stroke-width="0.7" stroke-dasharray="0.9 0.9" opacity="0.8"/>
<polyline points="296.2,284.2 311.3,279.1 326.4,298.2 341.5,298.8 356.6,303.6 371.7,262.8" fill="none" stroke="#aab2c2" stroke-width="0.7" stroke-dasharray="0.9 0.9" opacity="0.8"/>
<polyline points="296.2,277.0 311.3,281.6 326.4,286.9 341.5,301.2 356.6,295.2 371.7,265.0" fill="none" stroke="#b8d4a0" stroke-width="0.7" stroke-dasharray="0.9 0.9" opacity="0.8"/>
<polyline points="296.2,271.7 311.3,285.1 326.4,296.8 341.5,302.4 356.6,304.6 371.7,278.9" fill="none" stroke="#d0a8a8" stroke-width="0.7" stroke-dasharray="0.9 0.9" opacity="0.8"/>
<polyline points="296.2,263.1 311.3,274.8 326.4,284.1 341.5,294.7 356.6,300.2 371.7,260.9" fill="none" stroke="#98cc94" stroke-width="0.7" stroke-dasharray="0.9 0.9" opacity="0.8"/>
<polyline points="296.2,261.9 311.3,264.6 326.4,285.2 341.5,294.3 356.6,295.1 371.7,259.2" fill="none" stroke="#b8d4a0" stroke-width="0.7" stroke-dasharray="0.9 0.9" opacity="0.8"/>
<polyline points="296.2,243.9 311.3,289.2 326.4,281.6 341.5,293.5 356.6,294.8 371.7,257.0" fill="none" stroke="#80b8cc" stroke-width="0.7" stroke-dasharray="0.9 0.9" opacity="0.8"/>
<polyline points="296.2,236.2 311.3,260.8 326.4,288.9 341.5,292.8 356.6,288.4 371.7,263.8" fill="none" stroke="#d0a8a8" stroke-width="0.7" stroke-dasharray="0.9 0.9" opacity="0.8"/>
<polyline points="296.2,288.7 311.3,265.2 326.4,285.0 341.5,283.9 356.6,302.6 371.7,273.8" fill="none" stroke="#98cc94" stroke-width="0.6" stroke-dasharray="0.9 1.2" opacity="0.6"/>
<polyline points="296.2,226.4 311.3,243.3 326.4,290.6 341.5,283.9 356.6,293.0 371.7,261.0" fill="none" stroke="#80b8cc" stroke-width="0.6" stroke-dasharray="0.9 1.2" opacity="0.6"/>
<polyline points="296.2,226.4 311.3,281.2 326.4,288.1 341.5,283.9 356.6,294.0 371.7,225.1" fill="none" stroke="#d0a8a8" stroke-width="0.6" stroke-dasharray="0.9 1.2" opacity="0.6"/>
<polyline points="296.2,258.3 311.3,267.2 326.4,289.9 341.5,283.9 356.6,301.8 371.7,277.9" fill="none" stroke="#80b8cc" stroke-width="0.6" stroke-dasharray="0.9 1.2" opacity="0.6"/>
<polyline points="296.2,226.4 311.3,282.4 326.4,289.5 341.5,303.3 356.6,292.1 371.7,279.8" fill="none" stroke="#a0c8a0" stroke-width="0.6" stroke-dasharray="0.9 1.2" opacity="0.6"/>
<polyline points="296.2,264.2 311.3,264.6 326.4,269.3 341.5,297.6 356.6,296.1 371.7,272.2" fill="none" stroke="#8cc8d4" stroke-width="0.6" stroke-dasharray="0.9 1.2" opacity="0.6"/>
<polyline points="296.2,244.0 311.3,243.3 326.4,291.4 341.5,283.9 356.6,298.9 371.7,264.5" fill="none" stroke="#80b8cc" stroke-width="0.6" stroke-dasharray="0.9 1.2" opacity="0.6"/>
<polyline points="296.2,226.4 311.3,234.1 326.4,289.7 341.5,283.9 356.6,302.9 371.7,265.7" fill="none" stroke="#aab2c2" stroke-width="0.6" stroke-dasharray="0.9 1.2" opacity="0.6"/>
<polyline points="296.2,234.9 311.3,232.4 326.4,269.3 341.5,283.9 356.6,299.0 371.7,260.8" fill="none" stroke="#aab2c2" stroke-width="0.6" stroke-dasharray="0.9 1.2" opacity="0.6"/>
<polyline points="296.2,226.4 311.3,286.5 326.4,269.3 341.5,301.2 356.6,289.7 371.7,267.0" fill="none" stroke="#80b8cc" stroke-width="0.6" stroke-dasharray="0.9 1.2" opacity="0.6"/>
<line x1="296.2" y1="284.4" x2="371.7" y2="284.4" stroke="#e8808c" stroke-width="1.3"/>
<line x1="296.2" y1="305.0" x2="371.7" y2="305.0" stroke="#a4d46c" stroke-width="1.2"/>
<line x1="296.2" y1="294.7" x2="371.7" y2="294.7" stroke="#3a3a3a" stroke-width="1.5"/>
<circle cx="296.2" cy="233.1" r="1.25" fill="#000"/>
<circle cx="296.2" cy="235.6" r="1.25" fill="#000"/>
<circle cx="296.2" cy="238.2" r="1.25" fill="#000"/>
<circle cx="296.2" cy="240.3" r="1.25" fill="#000"/>
<circle cx="296.2" cy="242.3" r="1.25" fill="#000"/>
<circle cx="296.2" cy="244.4" r="1.25" fill="#000"/>
<circle cx="296.2" cy="246.4" r="1.25" fill="#000"/>
<circle cx="296.2" cy="249.3" r="1.25" fill="#000"/>
<circle cx="296.2" cy="252.3" r="1.25" fill="#000"/>
<circle cx="296.2" cy="254.5" r="1.25" fill="#000"/>
<circle cx="296.2" cy="257.0" r="1.25" fill="#000"/>
<circle cx="296.2" cy="259.0" r="1.25" fill="#000"/>
<circle cx="296.2" cy="261.5" r="1.25" fill="#000"/>
<circle cx="296.2" cy="264.3" r="1.25" fill="#000"/>
<circle cx="296.2" cy="267.0" r="1.25" fill="#000"/>
<circle cx="296.2" cy="269.9" r="1.25" fill="#000"/>
<circle cx="296.2" cy="272.6" r="1.25" fill="#000"/>
<circle cx="296.2" cy="274.7" r="1.25" fill="#000"/>
<circle cx="296.2" cy="277.1" r="1.25" fill="#000"/>
<circle cx="296.2" cy="279.6" r="1.25" fill="#000"/>
<circle cx="296.2" cy="282.0" r="1.25" fill="#000"/>
<circle cx="296.2" cy="284.1" r="1.25" fill="#000"/>
<circle cx="296.2" cy="286.8" r="1.25" fill="#000"/>
<circle cx="296.2" cy="289.4" r="1.25" fill="#000"/>
<circle cx="296.2" cy="226.4" r="1.3" fill="#000"/>
<rect x="310.1" y="260.1" width="2.5" height="32.4" rx="1" fill="#000"/>
<circle cx="311.3" cy="251.6" r="1.25" fill="#000"/>
<circle cx="311.3" cy="254.0" r="1.25" fill="#000"/>
<circle cx="311.3" cy="256.1" r="1.25" fill="#000"/>
<circle cx="311.3" cy="232.4" r="1.3" fill="#000"/>
<circle cx="311.3" cy="234.1" r="1.3" fill="#000"/>
<circle cx="311.3" cy="235.1" r="1.3" fill="#000"/>
<circle cx="311.3" cy="243.3" r="1.3" fill="#000"/>
<rect x="325.1" y="275.5" width="2.5" height="23.4" rx="1" fill="#000"/>
<circle cx="326.4" cy="269.3" r="1.3" fill="#000"/>
<rect x="340.2" y="287.4" width="2.5" height="17.8" rx="1" fill="#000"/>
<circle cx="341.5" cy="283.9" r="1.3" fill="#000"/>
<rect x="355.3" y="287.4" width="2.5" height="17.8" rx="1" fill="#000"/>
<rect x="370.4" y="250.9" width="2.5" height="35.3" rx="1" fill="#000"/>
<circle cx="371.7" cy="233.3" r="1.25" fill="#000"/>
<circle cx="371.7" cy="235.5" r="1.25" fill="#000"/>
<circle cx="371.7" cy="238.0" r="1.25" fill="#000"/>
<circle cx="371.7" cy="240.3" r="1.25" fill="#000"/>
<circle cx="371.7" cy="242.4" r="1.25" fill="#000"/>
<circle cx="371.7" cy="245.0" r="1.25" fill="#000"/>
<circle cx="371.7" cy="247.2" r="1.25" fill="#000"/>
<circle cx="371.7" cy="249.3" r="1.25" fill="#000"/>
<circle cx="371.7" cy="251.5" r="1.25" fill="#000"/>
<circle cx="371.7" cy="225.1" r="1.3" fill="#000"/>
<polyline points="296.2,262.1 311.3,272.1 326.4,288.1 341.5,294.7 356.6,295.4 371.7,260.3" fill="none" stroke="#27477f" stroke-width="1.4" stroke-linejoin="round"/>
<line x1="281.0" y1="222.3" x2="281.0" y2="315.7" stroke="#2a2a2a" stroke-width="1.5"/>
<line x1="279.2" y1="315.2" x2="281.0" y2="315.2" stroke="#333" stroke-width="0.9"/>
<text x="275.8" y="317.2" class="tk">-2</text>
<line x1="279.2" y1="305.0" x2="281.0" y2="305.0" stroke="#333" stroke-width="0.9"/>
<text x="275.8" y="307.0" class="tk">-1</text>
<line x1="279.2" y1="294.7" x2="281.0" y2="294.7" stroke="#333" stroke-width="0.9"/>
<text x="276.6" y="296.7" class="tk">0</text>
<line x1="279.2" y1="284.4" x2="281.0" y2="284.4" stroke="#333" stroke-width="0.9"/>
<text x="276.6" y="286.4" class="tk">1</text>
<line x1="279.2" y1="274.2" x2="281.0" y2="274.2" stroke="#333" stroke-width="0.9"/>
<text x="276.6" y="276.2" class="tk">2</text>
<line x1="279.2" y1="263.9" x2="281.0" y2="263.9" stroke="#333" stroke-width="0.9"/>
<text x="276.6" y="265.9" class="tk">3</text>
<line x1="279.2" y1="253.6" x2="281.0" y2="253.6" stroke="#333" stroke-width="0.9"/>
<text x="276.6" y="255.6" class="tk">4</text>
<line x1="279.2" y1="243.3" x2="281.0" y2="243.3" stroke="#333" stroke-width="0.9"/>
<text x="276.6" y="245.3" class="tk">5</text>
<line x1="279.2" y1="233.1" x2="281.0" y2="233.1" stroke="#333" stroke-width="0.9"/>
<text x="276.6" y="235.1" class="tk">6</text>
<line x1="279.2" y1="222.8" x2="281.0" y2="222.8" stroke="#333" stroke-width="0.9"/>
<text x="276.6" y="224.8" class="tk">7</text>
<text class="fc" transform="translate(263.8,267.1) rotate(-90)">Fold Change (log2)</text>
<polyline points="437.6,293.8 452.7,294.7 467.8,296.6 482.8,292.6 497.9,292.7 513.0,279.4" fill="none" stroke="#a0c8a0" stroke-width="0.7" stroke-dasharray="0.9 0.9" opacity="0.8"/>
<polyline points="437.6,295.2 452.7,298.4 467.8,294.7 482.8,294.5 497.9,296.7 513.0,292.1" fill="none" stroke="#aab2c2" stroke-width="0.7" stroke-dasharray="0.9 0.9" opacity="0.8"/>
<polyline points="437.6,260.0 452.7,278.2 467.8,298.2 482.8,290.7 497.9,278.6 513.0,293.6" fill="none" stroke="#b8d4a0" stroke-width="0.7" stroke-dasharray="0.9 0.9" opacity="0.8"/>
<polyline points="437.6,285.5 452.7,297.2 467.8,300.0 482.8,291.9 497.9,295.3 513.0,289.1" fill="none" stroke="#d0a8a8" stroke-width="0.7" stroke-dasharray="0.9 0.9" opacity="0.8"/>
<polyline points="437.6,295.3 452.7,275.7 467.8,301.9 482.8,298.8 497.9,294.0 513.0,291.3" fill="none" stroke="#98cc94" stroke-width="0.7" stroke-dasharray="0.9 0.9" opacity="0.8"/>
<polyline points="437.6,295.3 452.7,297.4 467.8,293.4 482.8,294.7 497.9,294.5 513.0,292.3" fill="none" stroke="#a0c8a0" stroke-width="0.7" stroke-dasharray="0.9 0.9" opacity="0.8"/>
<polyline points="437.6,285.4 452.7,279.2 467.8,286.9 482.8,288.1 497.9,295.2 513.0,294.0" fill="none" stroke="#98cc94" stroke-width="0.7" stroke-dasharray="0.9 0.9" opacity="0.8"/>
<polyline points="437.6,295.2 452.7,293.1 467.8,278.3 482.8,288.5 497.9,285.9 513.0,274.1" fill="none" stroke="#b8d4a0" stroke-width="0.7" stroke-dasharray="0.9 0.9" opacity="0.8"/>
<polyline points="437.6,294.3 452.7,293.1 467.8,286.0 482.8,281.2 497.9,294.3 513.0,291.4" fill="none" stroke="#b8d4a0" stroke-width="0.7" stroke-dasharray="0.9 0.9" opacity="0.8"/>
<polyline points="437.6,295.1 452.7,293.4 467.8,295.7 482.8,278.3 497.9,291.1 513.0,289.4" fill="none" stroke="#b8d4a0" stroke-width="0.7" stroke-dasharray="0.9 0.9" opacity="0.8"/>
<polyline points="437.6,295.1 452.7,271.1 467.8,263.1 482.8,296.7 497.9,282.8 513.0,273.7" fill="none" stroke="#a0c8a0" stroke-width="0.7" stroke-dasharray="0.9 0.9" opacity="0.8"/>
<polyline points="437.6,257.9 452.7,279.9 467.8,291.9 482.8,283.2 497.9,296.8 513.0,286.1" fill="none" stroke="#d0a8a8" stroke-width="0.7" stroke-dasharray="0.9 0.9" opacity="0.8"/>
<polyline points="437.6,292.6 452.7,296.5 467.8,277.4 482.8,295.5 497.9,288.9 513.0,295.1" fill="none" stroke="#80b8cc" stroke-width="0.7" stroke-dasharray="0.9 0.9" opacity="0.8"/>
<polyline points="437.6,295.4 452.7,296.1 467.8,292.1 482.8,295.5 497.9,293.6 513.0,296.4" fill="none" stroke="#d0a8a8" stroke-width="0.7" stroke-dasharray="0.9 0.9" opacity="0.8"/>
<polyline points="437.6,292.1 452.7,284.2 467.8,284.0 482.8,288.7 497.9,280.9 513.0,292.0" fill="none" stroke="#98cc94" stroke-width="0.7" stroke-dasharray="0.9 0.9" opacity="0.8"/>
<polyline points="437.6,295.2 452.7,296.9 467.8,297.0 482.8,286.8 497.9,294.1 513.0,294.7" fill="none" stroke="#8cc8d4" stroke-width="0.7" stroke-dasharray="0.9 0.9" opacity="0.8"/>
<polyline points="437.6,295.2 452.7,298.5 467.8,287.7 482.8,279.8 497.9,290.1 513.0,294.9" fill="none" stroke="#a0c8a0" stroke-width="0.7" stroke-dasharray="0.9 0.9" opacity="0.8"/>
<polyline points="437.6,275.2 452.7,280.9 467.8,295.4 482.8,279.8 497.9,293.7 513.0,286.2" fill="none" stroke="#8cc8d4" stroke-width="0.7" stroke-dasharray="0.9 0.9" opacity="0.8"/>
<polyline points="437.6,294.3 452.7,287.1 467.8,298.0 482.8,294.9 497.9,292.2 513.0,292.9" fill="none" stroke="#80b8cc" stroke-width="0.7" stroke-dasharray="0.9 0.9" opacity="0.8"/>
<polyline points="437.6,295.4 452.7,297.7 467.8,299.0 482.8,294.5 497.9,290.3 513.0,295.2" fill="none" stroke="#d0a8a8" stroke-width="0.7" stroke-dasharray="0.9 0.9" opacity="0.8"/>
<polyline points="437.6,270.5 452.7,294.1 467.8,284.6 482.8,293.0 497.9,295.7 513.0,293.2" fill="none" stroke="#80b8cc" stroke-width="0.7" stroke-dasharray="0.9 0.9" opacity="0.8"/>
<polyline points="437.6,283.1 452.7,290.7 467.8,279.3 482.8,282.8 497.9,288.8 513.0,265.9" fill="none" stroke="#8cc8d4" stroke-width="0.7" stroke-dasharray="0.9 0.9" opacity="0.8"/>
<polyline points="437.6,295.3 452.7,299.8 467.8,301.9 482.8,297.4 497.9,298.4 513.0,298.9" fill="none" stroke="#d0a8a8" stroke-width="0.7" stroke-dasharray="0.9 0.9" opacity="0.8"/>
<polyline points="437.6,295.2 452.7,295.6 467.8,290.1 482.8,296.0 497.9,297.8 513.0,296.7" fill="none" stroke="#aab2c2" stroke-width="0.7" stroke-dasharray="0.9 0.9" opacity="0.8"/>
<polyline points="437.6,295.1 452.7,295.3 467.8,298.9 482.8,297.5 497.9,296.2 513.0,297.2" fill="none" stroke="#b8d4a0" stroke-width="0.7" stroke-dasharray="0.9 0.9" opacity="0.8"/>
<polyline points="437.6,295.2 452.7,292.6 467.8,284.1 482.8,291.6 497.9,296.8 513.0,284.8" fill="none" stroke="#d0a8a8" stroke-width="0.7" stroke-dasharray="0.9 0.9" opacity="0.8"/>
<polyline points="437.6,293.7 452.7,297.0 467.8,268.3 482.8,288.8 497.9,284.5 513.0,276.1" fill="none" stroke="#b8d4a0" stroke-width="0.7" stroke-dasharray="0.9 0.9" opacity="0.8"/>
<polyline points="437.6,295.2 452.7,292.3 467.8,282.2 482.8,296.1 497.9,293.6 513.0,281.0" fill="none" stroke="#b8d4a0" stroke-width="0.7" stroke-dasharray="0.9 0.9" opacity="0.8"/>
<polyline points="437.6,295.1 452.7,296.9 467.8,299.3 482.8,293.4 497.9,296.2 513.0,299.1" fill="none" stroke="#80b8cc" stroke-width="0.7" stroke-dasharray="0.9 0.9" opacity="0.8"/>
<polyline points="437.6,295.1 452.7,291.4 467.8,287.2 482.8,294.9 497.9,295.0 513.0,292.3" fill="none" stroke="#8cc8d4" stroke-width="0.7" stroke-dasharray="0.9 0.9" opacity="0.8"/>
<polyline points="437.6,295.3 452.7,297.7 467.8,276.6 482.8,296.2 497.9,293.7 513.0,281.0" fill="none" stroke="#8cc8d4" stroke-width="0.7" stroke-dasharray="0.9 0.9" opacity="0.8"/>
<polyline points="437.6,295.3 452.7,292.5 467.8,298.2 482.8,295.5 497.9,296.3 513.0,293.2" fill="none" stroke="#b8d4a0" stroke-width="0.7" stroke-dasharray="0.9 0.9" opacity="0.8"/>
<polyline points="437.6,295.2 452.7,281.9 467.8,272.9 482.8,287.0 497.9,294.1 513.0,292.2" fill="none" stroke="#b8d4a0" stroke-width="0.7" stroke-dasharray="0.9 0.9" opacity="0.8"/>
<polyline points="437.6,295.2 452.7,294.4 467.8,300.4 482.8,294.1 497.9,297.2 513.0,297.5" fill="none" stroke="#d0a8a8" stroke-width="0.7" stroke-dasharray="0.9 0.9" opacity="0.8"/>
<polyline points="437.6,295.3 452.7,287.3 467.8,296.2 482.8,297.1 497.9,278.5 513.0,293.6" fill="none" stroke="#8cc8d4" stroke-width="0.7" stroke-dasharray="0.9 0.9" opacity="0.8"/>
<polyline points="437.6,279.7 452.7,296.1 467.8,263.9 482.8,292.2 497.9,295.5 513.0,292.2" fill="none" stroke="#98cc94" stroke-width="0.7" stroke-dasharray="0.9 0.9" opacity="0.8"/>
<polyline points="437.6,295.3 452.7,296.2 467.8,291.1 482.8,295.2 497.9,288.8 513.0,292.5" fill="none" stroke="#a0c8a0" stroke-width="0.7" stroke-dasharray="0.9 0.9" opacity="0.8"/>
<polyline points="437.6,295.2 452.7,288.5 467.8,274.9 482.8,295.4 497.9,287.2 513.0,265.9" fill="none" stroke="#a0c8a0" stroke-width="0.7" stroke-dasharray="0.9 0.9" opacity="0.8"/>
<polyline points="437.6,295.3 452.7,297.0 467.8,301.9 482.8,298.8 497.9,299.4 513.0,288.1" fill="none" stroke="#98cc94" stroke-width="0.7" stroke-dasharray="0.9 0.9" opacity="0.8"/>
<polyline points="437.6,259.0 452.7,285.9 467.8,295.6 482.8,287.5 497.9,295.9 513.0,295.9" fill="none" stroke="#aab2c2" stroke-width="0.7" stroke-dasharray="0.9 0.9" opacity="0.8"/>
<polyline points="437.6,288.3 452.7,293.2 467.8,298.3 482.8,286.4 497.9,294.8 513.0,284.3" fill="none" stroke="#d0a8a8" stroke-width="0.7" stroke-dasharray="0.9 0.9" opacity="0.8"/>
<polyline points="437.6,295.2 452.7,288.4 467.8,298.6 482.8,297.0 497.9,295.0 513.0,294.0" fill="none" stroke="#8cc8d4" stroke-width="0.7" stroke-dasharray="0.9 0.9" opacity="0.8"/>
<polyline points="437.6,279.0 452.7,296.7 467.8,296.4 482.8,292.6 497.9,285.9 513.0,293.0" fill="none" stroke="#8cc8d4" stroke-width="0.7" stroke-dasharray="0.9 0.9" opacity="0.8"/>
<polyline points="437.6,271.2 452.7,283.2 467.8,290.2 482.8,287.7 497.9,293.3 513.0,281.3" fill="none" stroke="#b8d4a0" stroke-width="0.7" stroke-dasharray="0.9 0.9" opacity="0.8"/>
<polyline points="437.6,295.2 452.7,298.9 467.8,298.9 482.8,297.8 497.9,293.9 513.0,294.7" fill="none" stroke="#b8d4a0" stroke-width="0.7" stroke-dasharray="0.9 0.9" opacity="0.8"/>
<polyline points="437.6,262.8 452.7,261.8 467.8,264.9 482.8,285.3 497.9,296.9 513.0,293.0" fill="none" stroke="#a0c8a0" stroke-width="0.6" stroke-dasharray="0.9 1.2" opacity="0.6"/>
<polyline points="437.6,256.1 452.7,304.6 467.8,297.5 482.8,243.9 497.9,299.2 513.0,225.1" fill="none" stroke="#a0c8a0" stroke-width="0.6" stroke-dasharray="0.9 1.2" opacity="0.6"/>
<polyline points="437.6,283.9 452.7,256.2 467.8,264.8 482.8,283.6 497.9,286.3 513.0,225.1" fill="none" stroke="#8cc8d4" stroke-width="0.6" stroke-dasharray="0.9 1.2" opacity="0.6"/>
<polyline points="437.6,238.2 452.7,291.7 467.8,290.1 482.8,287.2 497.9,251.6 513.0,225.1" fill="none" stroke="#a0c8a0" stroke-width="0.6" stroke-dasharray="0.9 1.2" opacity="0.6"/>
<polyline points="437.6,280.1 452.7,250.5 467.8,276.0 482.8,282.6 497.9,274.2 513.0,238.8" fill="none" stroke="#d0a8a8" stroke-width="0.6" stroke-dasharray="0.9 1.2" opacity="0.6"/>
<polyline points="437.6,247.5 452.7,245.4 467.8,287.2 482.8,278.6 497.9,283.0 513.0,286.6" fill="none" stroke="#98cc94" stroke-width="0.6" stroke-dasharray="0.9 1.2" opacity="0.6"/>
<polyline points="437.6,247.5 452.7,224.6 467.8,238.8 482.8,294.5 497.9,274.2 513.0,238.8" fill="none" stroke="#d0a8a8" stroke-width="0.6" stroke-dasharray="0.9 1.2" opacity="0.6"/>
<polyline points="437.6,247.5 452.7,299.2 467.8,276.2 482.8,295.9 497.9,278.6 513.0,288.5" fill="none" stroke="#80b8cc" stroke-width="0.6" stroke-dasharray="0.9 1.2" opacity="0.6"/>
<polyline points="437.6,261.1 452.7,298.3 467.8,238.8 482.8,280.1 497.9,299.0 513.0,289.1" fill="none" stroke="#aab2c2" stroke-width="0.6" stroke-dasharray="0.9 1.2" opacity="0.6"/>
<polyline points="437.6,242.3 452.7,279.2 467.8,238.8 482.8,292.4 497.9,274.2 513.0,290.1" fill="none" stroke="#98cc94" stroke-width="0.6" stroke-dasharray="0.9 1.2" opacity="0.6"/>
<line x1="437.6" y1="284.4" x2="513.0" y2="284.4" stroke="#e8808c" stroke-width="1.3"/>
<line x1="437.6" y1="305.0" x2="513.0" y2="305.0" stroke="#a4d46c" stroke-width="1.2"/>
<line x1="437.6" y1="294.7" x2="513.0" y2="294.7" stroke="#3a3a3a" stroke-width="1.5"/>
<rect x="436.4" y="253.6" width="2.5" height="42.5" rx="1" fill="#000"/>
<circle cx="437.6" cy="223.2" r="1.3" fill="#000"/>
<circle cx="437.6" cy="236.2" r="1.3" fill="#000"/>
<circle cx="437.6" cy="238.2" r="1.3" fill="#000"/>
<circle cx="437.6" cy="242.3" r="1.3" fill="#000"/>
<circle cx="437.6" cy="247.5" r="1.3" fill="#000"/>
<circle cx="437.6" cy="298.2" r="1.3" fill="#000"/>
<circle cx="437.6" cy="300.9" r="1.3" fill="#000"/>
<rect x="451.4" y="265.2" width="2.5" height="35.3" rx="1" fill="#000"/>
<circle cx="452.7" cy="224.6" r="1.3" fill="#000"/>
<circle cx="452.7" cy="245.4" r="1.3" fill="#000"/>
<circle cx="452.7" cy="250.5" r="1.3" fill="#000"/>
<circle cx="452.7" cy="253.6" r="1.3" fill="#000"/>
<circle cx="452.7" cy="256.2" r="1.3" fill="#000"/>
<circle cx="452.7" cy="261.8" r="1.3" fill="#000"/>
<circle cx="452.7" cy="304.6" r="1.3" fill="#000"/>
<rect x="466.5" y="261.1" width="2.5" height="41.5" rx="1" fill="#000"/>
<circle cx="467.8" cy="238.8" r="1.3" fill="#000"/>
<circle cx="467.8" cy="250.5" r="1.3" fill="#000"/>
<circle cx="467.8" cy="253.6" r="1.3" fill="#000"/>
<rect x="481.6" y="277.6" width="2.5" height="21.9" rx="1" fill="#000"/>
<circle cx="482.8" cy="264.4" r="1.25" fill="#000"/>
<circle cx="482.8" cy="266.8" r="1.25" fill="#000"/>
<circle cx="482.8" cy="269.8" r="1.25" fill="#000"/>
<circle cx="482.8" cy="272.1" r="1.25" fill="#000"/>
<circle cx="482.8" cy="243.9" r="1.3" fill="#000"/>
<circle cx="482.8" cy="255.3" r="1.3" fill="#000"/>
<circle cx="482.8" cy="259.8" r="1.3" fill="#000"/>
<rect x="496.7" y="277.6" width="2.5" height="22.6" rx="1" fill="#000"/>
<circle cx="497.9" cy="259.8" r="1.25" fill="#000"/>
<circle cx="497.9" cy="262.5" r="1.25" fill="#000"/>
<circle cx="497.9" cy="265.4" r="1.25" fill="#000"/>
<circle cx="497.9" cy="267.9" r="1.25" fill="#000"/>
<circle cx="497.9" cy="251.6" r="1.3" fill="#000"/>
<circle cx="497.9" cy="274.2" r="1.3" fill="#000"/>
<rect x="511.8" y="265.2" width="2.5" height="34.6" rx="1" fill="#000"/>
<circle cx="513.0" cy="242.3" r="1.25" fill="#000"/>
<circle cx="513.0" cy="244.6" r="1.25" fill="#000"/>
<circle cx="513.0" cy="246.7" r="1.25" fill="#000"/>
<circle cx="513.0" cy="249.8" r="1.25" fill="#000"/>
<circle cx="513.0" cy="251.9" r="1.25" fill="#000"/>
<circle cx="513.0" cy="254.7" r="1.25" fill="#000"/>
<circle cx="513.0" cy="256.8" r="1.25" fill="#000"/>
<circle cx="513.0" cy="259.2" r="1.25" fill="#000"/>
<circle cx="513.0" cy="261.7" r="1.25" fill="#000"/>
<circle cx="513.0" cy="264.7" r="1.25" fill="#000"/>
<circle cx="513.0" cy="225.1" r="1.3" fill="#000"/>
<circle cx="513.0" cy="238.8" r="1.3" fill="#000"/>
<polyline points="437.6,295.1 452.7,295.4 467.8,295.4 482.8,294.5 497.9,293.3 513.0,292.1" fill="none" stroke="#27477f" stroke-width="1.4" stroke-linejoin="round"/>
<line x1="422.5" y1="222.3" x2="422.5" y2="315.7" stroke="#2a2a2a" stroke-width="1.5"/>
<line x1="420.7" y1="315.2" x2="422.5" y2="315.2" stroke="#333" stroke-width="0.9"/>
<text x="417.3" y="317.2" class="tk">-2</text>
<line x1="420.7" y1="305.0" x2="422.5" y2="305.0" stroke="#333" stroke-width="0.9"/>
<text x="417.3" y="307.0" class="tk">-1</text>
<line x1="420.7" y1="294.7" x2="422.5" y2="294.7" stroke="#333" stroke-width="0.9"/>
<text x="418.1" y="296.7" class="tk">0</text>
<line x1="420.7" y1="284.4" x2="422.5" y2="284.4" stroke="#333" stroke-width="0.9"/>
<text x="418.1" y="286.4" class="tk">1</text>
<line x1="420.7" y1="274.2" x2="422.5" y2="274.2" stroke="#333" stroke-width="0.9"/>
<text x="418.1" y="276.2" class="tk">2</text>
<line x1="420.7" y1="263.9" x2="422.5" y2="263.9" stroke="#333" stroke-width="0.9"/>
<text x="418.1" y="265.9" class="tk">3</text>
<line x1="420.7" y1="253.6" x2="422.5" y2="253.6" stroke="#333" stroke-width="0.9"/>
<text x="418.1" y="255.6" class="tk">4</text>
<line x1="420.7" y1="243.3" x2="422.5" y2="243.3" stroke="#333" stroke-width="0.9"/>
<text x="418.1" y="245.3" class="tk">5</text>
<line x1="420.7" y1="233.1" x2="422.5" y2="233.1" stroke="#333" stroke-width="0.9"/>
<text x="418.1" y="235.1" class="tk">6</text>
<line x1="420.7" y1="222.8" x2="422.5" y2="222.8" stroke="#333" stroke-width="0.9"/>
<text x="418.1" y="224.8" class="tk">7</text>
<polyline points="296.2,403.6 311.3,401.8 326.4,400.5 341.5,409.6 356.6,405.8 371.7,372.3" fill="none" stroke="#80b8cc" stroke-width="0.7" stroke-dasharray="0.9 0.9" opacity="0.8"/>
<polyline points="296.2,407.1 311.3,409.4 326.4,400.4 341.5,414.1 356.6,412.9 371.7,389.4" fill="none" stroke="#80b8cc" stroke-width="0.7" stroke-dasharray="0.9 0.9" opacity="0.8"/>
<polyline points="296.2,405.3 311.3,410.5 326.4,383.8 341.5,414.9 356.6,411.5 371.7,401.7" fill="none" stroke="#b8d4a0" stroke-width="0.7" stroke-dasharray="0.9 0.9" opacity="0.8"/>
<polyline points="296.2,411.1 311.3,408.3 326.4,398.8 341.5,413.4 356.6,413.9 371.7,393.3" fill="none" stroke="#a0c8a0" stroke-width="0.7" stroke-dasharray="0.9 0.9" opacity="0.8"/>
<polyline points="296.2,397.4 311.3,406.6 326.4,391.5 341.5,407.9 356.6,412.7 371.7,387.6" fill="none" stroke="#98cc94" stroke-width="0.7" stroke-dasharray="0.9 0.9" opacity="0.8"/>
<polyline points="296.2,397.3 311.3,405.8 326.4,399.2 341.5,414.8 356.6,415.3 371.7,398.2" fill="none" stroke="#d0a8a8" stroke-width="0.7" stroke-dasharray="0.9 0.9" opacity="0.8"/>
<polyline points="296.2,405.1 311.3,410.1 326.4,401.7 341.5,414.8 356.6,413.3 371.7,379.7" fill="none" stroke="#d0a8a8" stroke-width="0.7" stroke-dasharray="0.9 0.9" opacity="0.8"/>
<polyline points="296.2,401.0 311.3,404.2 326.4,401.0 341.5,413.4 356.6,414.1 371.7,395.0" fill="none" stroke="#98cc94" stroke-width="0.7" stroke-dasharray="0.9 0.9" opacity="0.8"/>
<polyline points="296.2,408.4 311.3,412.0 326.4,409.0 341.5,417.3 356.6,420.8 371.7,407.3" fill="none" stroke="#d0a8a8" stroke-width="0.7" stroke-dasharray="0.9 0.9" opacity="0.8"/>
<polyline points="296.2,410.6 311.3,406.2 326.4,395.6 341.5,417.4 356.6,413.5 371.7,396.6" fill="none" stroke="#b8d4a0" stroke-width="0.7" stroke-dasharray="0.9 0.9" opacity="0.8"/>
<polyline points="296.2,404.8 311.3,408.2 326.4,394.7 341.5,414.5 356.6,409.4 371.7,378.6" fill="none" stroke="#d0a8a8" stroke-width="0.7" stroke-dasharray="0.9 0.9" opacity="0.8"/>
<polyline points="296.2,404.7 311.3,407.5 326.4,393.4 341.5,409.7 356.6,413.2 371.7,391.5" fill="none" stroke="#d0a8a8" stroke-width="0.7" stroke-dasharray="0.9 0.9" opacity="0.8"/>
<polyline points="296.2,414.0 311.3,400.3 326.4,401.3 341.5,413.7 356.6,412.2 371.7,385.3" fill="none" stroke="#a0c8a0" stroke-width="0.7" stroke-dasharray="0.9 0.9" opacity="0.8"/>
<polyline points="296.2,401.7 311.3,401.8 326.4,403.4 341.5,413.5 356.6,413.9 371.7,393.0" fill="none" stroke="#8cc8d4" stroke-width="0.7" stroke-dasharray="0.9 0.9" opacity="0.8"/>
<polyline points="296.2,392.2 311.3,407.5 326.4,378.0 341.5,404.9 356.6,407.9 371.7,382.5" fill="none" stroke="#98cc94" stroke-width="0.7" stroke-dasharray="0.9 0.9" opacity="0.8"/>
<polyline points="296.2,399.8 311.3,404.2 326.4,388.7 341.5,403.6 356.6,415.8 371.7,372.3" fill="none" stroke="#b8d4a0" stroke-width="0.7" stroke-dasharray="0.9 0.9" opacity="0.8"/>
<polyline points="296.2,397.0 311.3,399.4 326.4,385.2 341.5,414.7 356.6,406.6 371.7,372.3" fill="none" stroke="#8cc8d4" stroke-width="0.7" stroke-dasharray="0.9 0.9" opacity="0.8"/>
<polyline points="296.2,397.8 311.3,408.1 326.4,383.1 341.5,413.3 356.6,411.4 371.7,383.5" fill="none" stroke="#a0c8a0" stroke-width="0.7" stroke-dasharray="0.9 0.9" opacity="0.8"/>
<polyline points="296.2,403.9 311.3,403.6 326.4,392.7 341.5,410.1 356.6,405.7 371.7,389.7" fill="none" stroke="#a0c8a0" stroke-width="0.7" stroke-dasharray="0.9 0.9" opacity="0.8"/>
<polyline points="296.2,407.7 311.3,405.2 326.4,386.1 341.5,412.1 356.6,411.5 371.7,395.9" fill="none" stroke="#a0c8a0" stroke-width="0.7" stroke-dasharray="0.9 0.9" opacity="0.8"/>
<polyline points="296.2,409.0 311.3,402.3 326.4,396.9 341.5,417.0 356.6,414.0 371.7,399.3" fill="none" stroke="#98cc94" stroke-width="0.7" stroke-dasharray="0.9 0.9" opacity="0.8"/>
<polyline points="296.2,407.7 311.3,396.3 326.4,394.7 341.5,410.5 356.6,411.1 371.7,387.6" fill="none" stroke="#8cc8d4" stroke-width="0.7" stroke-dasharray="0.9 0.9" opacity="0.8"/>
<polyline points="296.2,408.5 311.3,406.4 326.4,400.1 341.5,414.5 356.6,413.5 371.7,389.6" fill="none" stroke="#aab2c2" stroke-width="0.7" stroke-dasharray="0.9 0.9" opacity="0.8"/>
<polyline points="296.2,407.4 311.3,406.4 326.4,394.2 341.5,409.8 356.6,414.1 371.7,385.1" fill="none" stroke="#b8d4a0" stroke-width="0.7" stroke-dasharray="0.9 0.9" opacity="0.8"/>
<polyline points="296.2,414.6 311.3,404.7 326.4,400.3 341.5,417.9 356.6,421.8 371.7,401.9" fill="none" stroke="#d0a8a8" stroke-width="0.7" stroke-dasharray="0.9 0.9" opacity="0.8"/>
<polyline points="296.2,412.4 311.3,409.0 326.4,391.7 341.5,412.1 356.6,413.4 371.7,402.2" fill="none" stroke="#aab2c2" stroke-width="0.7" stroke-dasharray="0.9 0.9" opacity="0.8"/>
<polyline points="296.2,405.5 311.3,397.9 326.4,398.6 341.5,407.4 356.6,407.8 371.7,388.2" fill="none" stroke="#a0c8a0" stroke-width="0.7" stroke-dasharray="0.9 0.9" opacity="0.8"/>
<polyline points="296.2,406.6 311.3,408.2 326.4,395.8 341.5,414.8 356.6,420.4 371.7,391.4" fill="none" stroke="#d0a8a8" stroke-width="0.7" stroke-dasharray="0.9 0.9" opacity="0.8"/>
<polyline points="296.2,400.1 311.3,404.0 326.4,382.9 341.5,408.6 356.6,409.2 371.7,405.8" fill="none" stroke="#a0c8a0" stroke-width="0.7" stroke-dasharray="0.9 0.9" opacity="0.8"/>
<polyline points="296.2,405.4 311.3,406.5 326.4,387.9 341.5,414.2 356.6,412.7 371.7,391.0" fill="none" stroke="#8cc8d4" stroke-width="0.7" stroke-dasharray="0.9 0.9" opacity="0.8"/>
<polyline points="296.2,390.8 311.3,403.8 326.4,381.4 341.5,409.4 356.6,406.8 371.7,372.3" fill="none" stroke="#8cc8d4" stroke-width="0.7" stroke-dasharray="0.9 0.9" opacity="0.8"/>
<polyline points="296.2,409.6 311.3,410.4 326.4,400.6 341.5,417.1 356.6,421.8 371.7,386.7" fill="none" stroke="#b8d4a0" stroke-width="0.7" stroke-dasharray="0.9 0.9" opacity="0.8"/>
<polyline points="296.2,407.5 311.3,413.6 326.4,403.9 341.5,415.3 356.6,416.0 371.7,394.1" fill="none" stroke="#b8d4a0" stroke-width="0.7" stroke-dasharray="0.9 0.9" opacity="0.8"/>
<polyline points="296.2,392.9 311.3,401.4 326.4,388.4 341.5,414.6 356.6,409.6 371.7,382.3" fill="none" stroke="#a0c8a0" stroke-width="0.7" stroke-dasharray="0.9 0.9" opacity="0.8"/>
<polyline points="296.2,405.4 311.3,401.2 326.4,390.5 341.5,410.5 356.6,407.2 371.7,389.6" fill="none" stroke="#98cc94" stroke-width="0.7" stroke-dasharray="0.9 0.9" opacity="0.8"/>
<polyline points="296.2,403.6 311.3,413.6 326.4,397.7 341.5,413.2 356.6,412.5 371.7,387.2" fill="none" stroke="#a0c8a0" stroke-width="0.7" stroke-dasharray="0.9 0.9" opacity="0.8"/>
<polyline points="296.2,403.4 311.3,401.1 326.4,402.2 341.5,413.1 356.6,413.3 371.7,399.4" fill="none" stroke="#8cc8d4" stroke-width="0.7" stroke-dasharray="0.9 0.9" opacity="0.8"/>
<polyline points="296.2,403.5 311.3,406.5 326.4,408.3 341.5,410.6 356.6,419.4 371.7,394.7" fill="none" stroke="#d0a8a8" stroke-width="0.7" stroke-dasharray="0.9 0.9" opacity="0.8"/>
<polyline points="296.2,405.7 311.3,409.6 326.4,407.5 341.5,413.7 356.6,413.3 371.7,391.2" fill="none" stroke="#80b8cc" stroke-width="0.7" stroke-dasharray="0.9 0.9" opacity="0.8"/>
<polyline points="296.2,413.7 311.3,410.5 326.4,389.2 341.5,407.8 356.6,413.9 371.7,395.7" fill="none" stroke="#80b8cc" stroke-width="0.7" stroke-dasharray="0.9 0.9" opacity="0.8"/>
<polyline points="296.2,411.4 311.3,412.1 326.4,390.4 341.5,414.8 356.6,414.6 371.7,388.7" fill="none" stroke="#8cc8d4" stroke-width="0.7" stroke-dasharray="0.9 0.9" opacity="0.8"/>
<polyline points="296.2,405.7 311.3,397.5 326.4,391.4 341.5,414.2 356.6,413.9 371.7,380.6" fill="none" stroke="#d0a8a8" stroke-width="0.7" stroke-dasharray="0.9 0.9" opacity="0.8"/>
<polyline points="296.2,402.8 311.3,404.0 326.4,393.0 341.5,408.9 356.6,408.2 371.7,381.2" fill="none" stroke="#98cc94" stroke-width="0.7" stroke-dasharray="0.9 0.9" opacity="0.8"/>
<polyline points="296.2,410.5 311.3,409.6 326.4,409.0 341.5,414.4 356.6,412.1 371.7,399.6" fill="none" stroke="#b8d4a0" stroke-width="0.7" stroke-dasharray="0.9 0.9" opacity="0.8"/>
<polyline points="296.2,415.0 311.3,411.2 326.4,407.0 341.5,416.2 356.6,421.8 371.7,390.5" fill="none" stroke="#a0c8a0" stroke-width="0.7" stroke-dasharray="0.9 0.9" opacity="0.8"/>
<polyline points="296.2,406.6 311.3,411.3 326.4,395.2 341.5,413.8 356.6,417.3 371.7,398.1" fill="none" stroke="#8cc8d4" stroke-width="0.7" stroke-dasharray="0.9 0.9" opacity="0.8"/>
<polyline points="296.2,405.0 311.3,404.5 326.4,386.8 341.5,410.4 356.6,411.8 371.7,385.8" fill="none" stroke="#80b8cc" stroke-width="0.7" stroke-dasharray="0.9 0.9" opacity="0.8"/>
<polyline points="296.2,403.4 311.3,406.5 326.4,388.9 341.5,406.6 356.6,409.7 371.7,392.3" fill="none" stroke="#98cc94" stroke-width="0.7" stroke-dasharray="0.9 0.9" opacity="0.8"/>
<polyline points="296.2,396.7 311.3,402.0 326.4,393.1 341.5,417.0 356.6,415.6 371.7,392.5" fill="none" stroke="#80b8cc" stroke-width="0.7" stroke-dasharray="0.9 0.9" opacity="0.8"/>
<polyline points="296.2,397.2 311.3,405.5 326.4,380.6 341.5,403.6 356.6,411.2 371.7,399.1" fill="none" stroke="#98cc94" stroke-width="0.7" stroke-dasharray="0.9 0.9" opacity="0.8"/>
<polyline points="296.2,414.4 311.3,410.2 326.4,406.8 341.5,415.0 356.6,417.3 371.7,396.2" fill="none" stroke="#a0c8a0" stroke-width="0.7" stroke-dasharray="0.9 0.9" opacity="0.8"/>
<polyline points="296.2,391.4 311.3,409.4 326.4,400.7 341.5,408.6 356.6,408.5 371.7,388.3" fill="none" stroke="#b8d4a0" stroke-width="0.7" stroke-dasharray="0.9 0.9" opacity="0.8"/>
<polyline points="296.2,397.0 311.3,403.4 326.4,395.5 341.5,407.7 356.6,409.8 371.7,377.4" fill="none" stroke="#80b8cc" stroke-width="0.7" stroke-dasharray="0.9 0.9" opacity="0.8"/>
<polyline points="296.2,401.0 311.3,409.1 326.4,407.0 341.5,410.8 356.6,408.2 371.7,382.9" fill="none" stroke="#b8d4a0" stroke-width="0.7" stroke-dasharray="0.9 0.9" opacity="0.8"/>
<polyline points="296.2,404.5 311.3,400.5 326.4,398.6 341.5,412.0 356.6,411.6 371.7,386.0" fill="none" stroke="#80b8cc" stroke-width="0.7" stroke-dasharray="0.9 0.9" opacity="0.8"/>
<polyline points="296.2,406.4 311.3,413.6 326.4,394.2 341.5,415.1 356.6,413.7 371.7,392.5" fill="none" stroke="#aab2c2" stroke-width="0.7" stroke-dasharray="0.9 0.9" opacity="0.8"/>
<polyline points="296.2,410.4 311.3,412.5 326.4,409.0 341.5,411.8 356.6,417.3 371.7,388.0" fill="none" stroke="#b8d4a0" stroke-width="0.7" stroke-dasharray="0.9 0.9" opacity="0.8"/>
<polyline points="296.2,402.9 311.3,401.7 326.4,384.8 341.5,410.0 356.6,411.3 371.7,385.8" fill="none" stroke="#a0c8a0" stroke-width="0.7" stroke-dasharray="0.9 0.9" opacity="0.8"/>
<polyline points="296.2,407.4 311.3,402.2 326.4,396.2 341.5,405.6 356.6,414.9 371.7,381.9" fill="none" stroke="#d0a8a8" stroke-width="0.7" stroke-dasharray="0.9 0.9" opacity="0.8"/>
<polyline points="296.2,412.7 311.3,409.8 326.4,396.6 341.5,413.3 356.6,416.3 371.7,388.4" fill="none" stroke="#80b8cc" stroke-width="0.7" stroke-dasharray="0.9 0.9" opacity="0.8"/>
<polyline points="296.2,402.7 311.3,404.4 326.4,387.8 341.5,403.6 356.6,415.2 371.7,380.2" fill="none" stroke="#80b8cc" stroke-width="0.7" stroke-dasharray="0.9 0.9" opacity="0.8"/>
<polyline points="296.2,415.5 311.3,408.3 326.4,399.8 341.5,415.0 356.6,417.1 371.7,393.2" fill="none" stroke="#d0a8a8" stroke-width="0.7" stroke-dasharray="0.9 0.9" opacity="0.8"/>
<polyline points="296.2,398.9 311.3,402.2 326.4,398.0 341.5,413.3 356.6,418.8 371.7,388.6" fill="none" stroke="#8cc8d4" stroke-width="0.7" stroke-dasharray="0.9 0.9" opacity="0.8"/>
<polyline points="296.2,401.8 311.3,413.5 326.4,398.8 341.5,411.6 356.6,416.0 371.7,396.7" fill="none" stroke="#a0c8a0" stroke-width="0.7" stroke-dasharray="0.9 0.9" opacity="0.8"/>
<polyline points="296.2,401.0 311.3,409.1 326.4,389.1 341.5,410.5 356.6,405.6 371.7,392.0" fill="none" stroke="#a0c8a0" stroke-width="0.7" stroke-dasharray="0.9 0.9" opacity="0.8"/>
<polyline points="296.2,398.2 311.3,406.2 326.4,391.1 341.5,407.6 356.6,415.7 371.7,401.4" fill="none" stroke="#98cc94" stroke-width="0.7" stroke-dasharray="0.9 0.9" opacity="0.8"/>
<polyline points="296.2,399.7 311.3,406.8 326.4,398.9 341.5,413.1 356.6,413.9 371.7,397.8" fill="none" stroke="#8cc8d4" stroke-width="0.7" stroke-dasharray="0.9 0.9" opacity="0.8"/>
<polyline points="296.2,408.9 311.3,410.9 326.4,401.4 341.5,413.4 356.6,421.8 371.7,401.4" fill="none" stroke="#aab2c2" stroke-width="0.7" stroke-dasharray="0.9 0.9" opacity="0.8"/>
<polyline points="296.2,399.2 311.3,400.9 326.4,386.6 341.5,409.3 356.6,410.6 371.7,380.7" fill="none" stroke="#98cc94" stroke-width="0.7" stroke-dasharray="0.9 0.9" opacity="0.8"/>
<polyline points="296.2,405.5 311.3,406.6 326.4,396.3 341.5,410.8 356.6,414.9 371.7,407.3" fill="none" stroke="#aab2c2" stroke-width="0.7" stroke-dasharray="0.9 0.9" opacity="0.8"/>
<polyline points="296.2,382.6 311.3,412.8 326.4,392.3 341.5,410.5 356.6,410.5 371.7,395.4" fill="none" stroke="#aab2c2" stroke-width="0.6" stroke-dasharray="0.9 1.2" opacity="0.6"/>
<polyline points="296.2,413.5 311.3,417.2 326.4,400.7 341.5,421.8 356.6,421.1 371.7,381.1" fill="none" stroke="#8cc8d4" stroke-width="0.6" stroke-dasharray="0.9 1.2" opacity="0.6"/>
<polyline points="296.2,414.9 311.3,388.1 326.4,353.3 341.5,403.9 356.6,408.0 371.7,393.5" fill="none" stroke="#b8d4a0" stroke-width="0.6" stroke-dasharray="0.9 1.2" opacity="0.6"/>
<polyline points="296.2,382.6 311.3,408.1 326.4,359.7 341.5,410.1 356.6,406.6 371.7,378.8" fill="none" stroke="#98cc94" stroke-width="0.6" stroke-dasharray="0.9 1.2" opacity="0.6"/>
<polyline points="296.2,398.5 311.3,398.5 326.4,399.3 341.5,405.3 356.6,407.9 371.7,375.1" fill="none" stroke="#8cc8d4" stroke-width="0.6" stroke-dasharray="0.9 1.2" opacity="0.6"/>
<polyline points="296.2,403.1 311.3,388.1 326.4,383.4 341.5,413.1 356.6,418.0 371.7,398.1" fill="none" stroke="#b8d4a0" stroke-width="0.6" stroke-dasharray="0.9 1.2" opacity="0.6"/>
<polyline points="296.2,396.2 311.3,388.1 326.4,359.7 341.5,414.9 356.6,417.1 371.7,383.9" fill="none" stroke="#98cc94" stroke-width="0.6" stroke-dasharray="0.9 1.2" opacity="0.6"/>
<polyline points="296.2,401.8 311.3,417.2 326.4,394.1 341.5,412.1 356.6,419.6 371.7,389.1" fill="none" stroke="#98cc94" stroke-width="0.6" stroke-dasharray="0.9 1.2" opacity="0.6"/>
<polyline points="296.2,391.3 311.3,399.2 326.4,386.8 341.5,421.8 356.6,417.7 371.7,393.8" fill="none" stroke="#8cc8d4" stroke-width="0.6" stroke-dasharray="0.9 1.2" opacity="0.6"/>
<polyline points="296.2,400.4 311.3,409.8 326.4,353.3 341.5,421.8 356.6,410.6 371.7,398.2" fill="none" stroke="#b8d4a0" stroke-width="0.6" stroke-dasharray="0.9 1.2" opacity="0.6"/>
<line x1="296.2" y1="402.1" x2="371.7" y2="402.1" stroke="#e8808c" stroke-width="1.3"/>
<line x1="296.2" y1="422.7" x2="371.7" y2="422.7" stroke="#a4d46c" stroke-width="1.2"/>
<line x1="296.2" y1="412.4" x2="371.7" y2="412.4" stroke="#3a3a3a" stroke-width="1.5"/>
<rect x="294.9" y="390.1" width="2.5" height="26.0" rx="1" fill="#000"/>
<circle cx="296.2" cy="379.8" r="1.3" fill="#000"/>
<circle cx="296.2" cy="382.6" r="1.3" fill="#000"/>
<circle cx="296.2" cy="388.1" r="1.3" fill="#000"/>
<circle cx="296.2" cy="416.9" r="1.3" fill="#000"/>
<rect x="310.1" y="395.6" width="2.5" height="18.8" rx="1" fill="#000"/>
<circle cx="311.3" cy="388.1" r="1.3" fill="#000"/>
<circle cx="311.3" cy="417.2" r="1.3" fill="#000"/>
<rect x="325.1" y="377.3" width="2.5" height="32.4" rx="1" fill="#000"/>
<circle cx="326.4" cy="365.2" r="1.25" fill="#000"/>
<circle cx="326.4" cy="367.8" r="1.25" fill="#000"/>
<circle cx="326.4" cy="370.1" r="1.25" fill="#000"/>
<circle cx="326.4" cy="373.0" r="1.25" fill="#000"/>
<circle cx="326.4" cy="353.3" r="1.3" fill="#000"/>
<circle cx="326.4" cy="359.7" r="1.3" fill="#000"/>
<rect x="340.2" y="402.9" width="2.5" height="16.0" rx="1" fill="#000"/>
<circle cx="341.5" cy="421.8" r="1.3" fill="#000"/>
<rect x="355.3" y="404.7" width="2.5" height="17.8" rx="1" fill="#000"/>
<rect x="370.4" y="371.6" width="2.5" height="36.3" rx="1" fill="#000"/>
<circle cx="371.7" cy="355.2" r="1.25" fill="#000"/>
<circle cx="371.7" cy="357.7" r="1.25" fill="#000"/>
<circle cx="371.7" cy="360.0" r="1.25" fill="#000"/>
<circle cx="371.7" cy="362.2" r="1.25" fill="#000"/>
<circle cx="371.7" cy="365.1" r="1.25" fill="#000"/>
<circle cx="371.7" cy="367.4" r="1.25" fill="#000"/>
<circle cx="371.7" cy="370.4" r="1.25" fill="#000"/>
<polyline points="296.2,404.1 311.3,406.6 326.4,392.6 341.5,412.7 356.6,412.7 371.7,389.0" fill="none" stroke="#27477f" stroke-width="1.4" stroke-linejoin="round"/>
<line x1="281.0" y1="340.0" x2="281.0" y2="433.4" stroke="#2a2a2a" stroke-width="1.5"/>
<line x1="279.2" y1="432.9" x2="281.0" y2="432.9" stroke="#333" stroke-width="0.9"/>
<text x="275.8" y="434.9" class="tk">-2</text>
<line x1="279.2" y1="422.7" x2="281.0" y2="422.7" stroke="#333" stroke-width="0.9"/>
<text x="275.8" y="424.7" class="tk">-1</text>
<line x1="279.2" y1="412.4" x2="281.0" y2="412.4" stroke="#333" stroke-width="0.9"/>
<text x="276.6" y="414.4" class="tk">0</text>
<line x1="279.2" y1="402.1" x2="281.0" y2="402.1" stroke="#333" stroke-width="0.9"/>
<text x="276.6" y="404.1" class="tk">1</text>
<line x1="279.2" y1="391.9" x2="281.0" y2="391.9" stroke="#333" stroke-width="0.9"/>
<text x="276.6" y="393.9" class="tk">2</text>
<line x1="279.2" y1="381.6" x2="281.0" y2="381.6" stroke="#333" stroke-width="0.9"/>
<text x="276.6" y="383.6" class="tk">3</text>
<line x1="279.2" y1="371.3" x2="281.0" y2="371.3" stroke="#333" stroke-width="0.9"/>
<text x="276.6" y="373.3" class="tk">4</text>
<line x1="279.2" y1="361.0" x2="281.0" y2="361.0" stroke="#333" stroke-width="0.9"/>
<text x="276.6" y="363.0" class="tk">5</text>
<line x1="279.2" y1="350.8" x2="281.0" y2="350.8" stroke="#333" stroke-width="0.9"/>
<text x="276.6" y="352.8" class="tk">6</text>
<line x1="279.2" y1="340.5" x2="281.0" y2="340.5" stroke="#333" stroke-width="0.9"/>
<text x="276.6" y="342.5" class="tk">7</text>
<text class="fc" transform="translate(263.8,387.4) rotate(-90)">Fold Change (log2)</text>
<polyline points="437.6,410.3 452.7,414.8 467.8,419.6 482.8,409.4 497.9,415.4 513.0,396.5" fill="none" stroke="#aab2c2" stroke-width="0.7" stroke-dasharray="0.9 0.9" opacity="0.8"/>
<polyline points="437.6,401.2 452.7,407.2 467.8,393.6 482.8,401.1 497.9,410.1 513.0,403.8" fill="none" stroke="#98cc94" stroke-width="0.7" stroke-dasharray="0.9 0.9" opacity="0.8"/>
<polyline points="437.6,422.4 452.7,422.7 467.8,423.7 482.8,413.2 497.9,408.2 513.0,413.6" fill="none" stroke="#a0c8a0" stroke-width="0.7" stroke-dasharray="0.9 0.9" opacity="0.8"/>
<polyline points="437.6,414.2 452.7,412.2 467.8,413.9 482.8,410.5 497.9,404.9 513.0,399.2" fill="none" stroke="#b8d4a0" stroke-width="0.7" stroke-dasharray="0.9 0.9" opacity="0.8"/>
<polyline points="437.6,405.3 452.7,401.5 467.8,399.7 482.8,406.6 497.9,414.0 513.0,400.8" fill="none" stroke="#80b8cc" stroke-width="0.7" stroke-dasharray="0.9 0.9" opacity="0.8"/>
<polyline points="437.6,412.0 452.7,406.4 467.8,415.3 482.8,410.7 497.9,411.4 513.0,402.5" fill="none" stroke="#b8d4a0" stroke-width="0.7" stroke-dasharray="0.9 0.9" opacity="0.8"/>
<polyline points="437.6,416.9 452.7,419.9 467.8,416.5 482.8,405.6 497.9,412.1 513.0,418.2" fill="none" stroke="#8cc8d4" stroke-width="0.7" stroke-dasharray="0.9 0.9" opacity="0.8"/>
<polyline points="437.6,408.3 452.7,403.9 467.8,404.0 482.8,404.9 497.9,397.5 513.0,394.4" fill="none" stroke="#8cc8d4" stroke-width="0.7" stroke-dasharray="0.9 0.9" opacity="0.8"/>
<polyline points="437.6,408.2 452.7,412.3 467.8,411.1 482.8,399.8 497.9,409.9 513.0,401.8" fill="none" stroke="#d0a8a8" stroke-width="0.7" stroke-dasharray="0.9 0.9" opacity="0.8"/>
<polyline points="437.6,424.3 452.7,416.1 467.8,418.3 482.8,412.5 497.9,409.9 513.0,399.3" fill="none" stroke="#b8d4a0" stroke-width="0.7" stroke-dasharray="0.9 0.9" opacity="0.8"/>
<polyline points="437.6,416.3 452.7,418.5 467.8,408.6 482.8,403.6 497.9,413.0 513.0,407.6" fill="none" stroke="#8cc8d4" stroke-width="0.7" stroke-dasharray="0.9 0.9" opacity="0.8"/>
<polyline points="437.6,410.6 452.7,413.7 467.8,408.3 482.8,407.2 497.9,395.4 513.0,398.2" fill="none" stroke="#aab2c2" stroke-width="0.7" stroke-dasharray="0.9 0.9" opacity="0.8"/>
<polyline points="437.6,421.8 452.7,417.2 467.8,405.2 482.8,406.1 497.9,408.4 513.0,410.4" fill="none" stroke="#98cc94" stroke-width="0.7" stroke-dasharray="0.9 0.9" opacity="0.8"/>
<polyline points="437.6,416.0 452.7,413.0 467.8,423.0 482.8,402.8 497.9,407.7 513.0,407.0" fill="none" stroke="#aab2c2" stroke-width="0.7" stroke-dasharray="0.9 0.9" opacity="0.8"/>
<polyline points="437.6,396.3 452.7,402.5 467.8,399.8 482.8,413.9 497.9,404.7 513.0,397.5" fill="none" stroke="#a0c8a0" stroke-width="0.7" stroke-dasharray="0.9 0.9" opacity="0.8"/>
<polyline points="437.6,418.2 452.7,414.1 467.8,410.6 482.8,416.3 497.9,406.7 513.0,399.6" fill="none" stroke="#aab2c2" stroke-width="0.7" stroke-dasharray="0.9 0.9" opacity="0.8"/>
<polyline points="437.6,409.4 452.7,408.6 467.8,405.6 482.8,414.4 497.9,409.2 513.0,403.6" fill="none" stroke="#8cc8d4" stroke-width="0.7" stroke-dasharray="0.9 0.9" opacity="0.8"/>
<polyline points="437.6,406.6 452.7,411.8 467.8,413.0 482.8,404.2 497.9,400.3 513.0,400.0" fill="none" stroke="#d0a8a8" stroke-width="0.7" stroke-dasharray="0.9 0.9" opacity="0.8"/>
<polyline points="437.6,417.1 452.7,401.1 467.8,412.7 482.8,409.4 497.9,402.7 513.0,403.5" fill="none" stroke="#b8d4a0" stroke-width="0.7" stroke-dasharray="0.9 0.9" opacity="0.8"/>
<polyline points="437.6,419.8 452.7,402.3 467.8,409.3 482.8,414.4 497.9,405.9 513.0,402.7" fill="none" stroke="#8cc8d4" stroke-width="0.7" stroke-dasharray="0.9 0.9" opacity="0.8"/>
<polyline points="437.6,408.1 452.7,405.1 467.8,398.6 482.8,400.0 497.9,400.7 513.0,389.8" fill="none" stroke="#d0a8a8" stroke-width="0.7" stroke-dasharray="0.9 0.9" opacity="0.8"/>
<polyline points="437.6,413.6 452.7,399.0 467.8,390.8 482.8,406.5 497.9,394.4 513.0,396.0" fill="none" stroke="#8cc8d4" stroke-width="0.7" stroke-dasharray="0.9 0.9" opacity="0.8"/>
<polyline points="437.6,402.4 452.7,409.3 467.8,405.7 482.8,409.9 497.9,412.1 513.0,409.0" fill="none" stroke="#a0c8a0" stroke-width="0.7" stroke-dasharray="0.9 0.9" opacity="0.8"/>
<polyline points="437.6,410.2 452.7,410.0 467.8,401.1 482.8,410.1 497.9,404.2 513.0,397.7" fill="none" stroke="#80b8cc" stroke-width="0.7" stroke-dasharray="0.9 0.9" opacity="0.8"/>
<polyline points="437.6,413.2 452.7,406.6 467.8,406.3 482.8,405.7 497.9,407.2 513.0,395.5" fill="none" stroke="#d0a8a8" stroke-width="0.7" stroke-dasharray="0.9 0.9" opacity="0.8"/>
<polyline points="437.6,404.4 452.7,412.6 467.8,411.9 482.8,408.3 497.9,407.6 513.0,401.7" fill="none" stroke="#b8d4a0" stroke-width="0.7" stroke-dasharray="0.9 0.9" opacity="0.8"/>
<polyline points="437.6,402.4 452.7,405.8 467.8,408.9 482.8,401.0 497.9,412.2 513.0,401.3" fill="none" stroke="#b8d4a0" stroke-width="0.7" stroke-dasharray="0.9 0.9" opacity="0.8"/>
<polyline points="437.6,414.3 452.7,413.9 467.8,393.8 482.8,409.6 497.9,409.0 513.0,399.6" fill="none" stroke="#aab2c2" stroke-width="0.7" stroke-dasharray="0.9 0.9" opacity="0.8"/>
<polyline points="437.6,412.3 452.7,410.2 467.8,405.2 482.8,414.4 497.9,403.8 513.0,400.7" fill="none" stroke="#b8d4a0" stroke-width="0.7" stroke-dasharray="0.9 0.9" opacity="0.8"/>
<polyline points="437.6,426.8 452.7,419.8 467.8,409.5 482.8,415.9 497.9,407.2 513.0,409.8" fill="none" stroke="#d0a8a8" stroke-width="0.7" stroke-dasharray="0.9 0.9" opacity="0.8"/>
<polyline points="437.6,413.9 452.7,409.6 467.8,410.0 482.8,413.5 497.9,408.0 513.0,402.7" fill="none" stroke="#d0a8a8" stroke-width="0.7" stroke-dasharray="0.9 0.9" opacity="0.8"/>
<polyline points="437.6,411.4 452.7,422.7 467.8,416.8 482.8,407.6 497.9,398.7 513.0,404.9" fill="none" stroke="#8cc8d4" stroke-width="0.7" stroke-dasharray="0.9 0.9" opacity="0.8"/>
<polyline points="437.6,414.2 452.7,408.0 467.8,395.3 482.8,406.4 497.9,394.4 513.0,400.9" fill="none" stroke="#98cc94" stroke-width="0.7" stroke-dasharray="0.9 0.9" opacity="0.8"/>
<polyline points="437.6,397.6 452.7,405.4 467.8,406.1 482.8,407.5 497.9,403.3 513.0,401.0" fill="none" stroke="#a0c8a0" stroke-width="0.7" stroke-dasharray="0.9 0.9" opacity="0.8"/>
<polyline points="437.6,424.2 452.7,403.9 467.8,418.7 482.8,405.7 497.9,409.6 513.0,413.2" fill="none" stroke="#98cc94" stroke-width="0.7" stroke-dasharray="0.9 0.9" opacity="0.8"/>
<polyline points="437.6,412.1 452.7,416.7 467.8,402.9 482.8,402.7 497.9,405.1 513.0,401.7" fill="none" stroke="#b8d4a0" stroke-width="0.7" stroke-dasharray="0.9 0.9" opacity="0.8"/>
<polyline points="437.6,404.8 452.7,408.1 467.8,413.2 482.8,402.6 497.9,403.6 513.0,400.1" fill="none" stroke="#8cc8d4" stroke-width="0.7" stroke-dasharray="0.9 0.9" opacity="0.8"/>
<polyline points="437.6,410.5 452.7,399.0 467.8,410.5 482.8,404.6 497.9,400.5 513.0,404.0" fill="none" stroke="#80b8cc" stroke-width="0.7" stroke-dasharray="0.9 0.9" opacity="0.8"/>
<polyline points="437.6,415.0 452.7,404.4 467.8,402.3 482.8,406.9 497.9,408.6 513.0,394.0" fill="none" stroke="#80b8cc" stroke-width="0.7" stroke-dasharray="0.9 0.9" opacity="0.8"/>
<polyline points="437.6,417.2 452.7,404.3 467.8,410.1 482.8,411.2 497.9,402.6 513.0,397.4" fill="none" stroke="#80b8cc" stroke-width="0.7" stroke-dasharray="0.9 0.9" opacity="0.8"/>
<polyline points="437.6,389.8 452.7,419.9 467.8,405.6 482.8,413.1 497.9,398.7 513.0,384.4" fill="none" stroke="#80b8cc" stroke-width="0.6" stroke-dasharray="0.9 1.2" opacity="0.6"/>
<polyline points="437.6,428.3 452.7,416.0 467.8,382.2 482.8,414.1 497.9,364.3 513.0,398.7" fill="none" stroke="#a0c8a0" stroke-width="0.6" stroke-dasharray="0.9 1.2" opacity="0.6"/>
<polyline points="437.6,402.0 452.7,430.9 467.8,392.0 482.8,407.7 497.9,404.0 513.0,402.6" fill="none" stroke="#80b8cc" stroke-width="0.6" stroke-dasharray="0.9 1.2" opacity="0.6"/>
<polyline points="437.6,401.1 452.7,430.9 467.8,396.9 482.8,414.7 497.9,415.5 513.0,384.4" fill="none" stroke="#b8d4a0" stroke-width="0.6" stroke-dasharray="0.9 1.2" opacity="0.6"/>
<polyline points="437.6,415.0 452.7,408.8 467.8,382.2 482.8,415.2 497.9,381.6 513.0,411.8" fill="none" stroke="#d0a8a8" stroke-width="0.6" stroke-dasharray="0.9 1.2" opacity="0.6"/>
<polyline points="437.6,389.8 452.7,395.4 467.8,382.2 482.8,397.7 497.9,398.2 513.0,415.5" fill="none" stroke="#8cc8d4" stroke-width="0.6" stroke-dasharray="0.9 1.2" opacity="0.6"/>
<polyline points="437.6,403.5 452.7,406.9 467.8,382.2 482.8,401.3 497.9,402.0 513.0,413.0" fill="none" stroke="#aab2c2" stroke-width="0.6" stroke-dasharray="0.9 1.2" opacity="0.6"/>
<polyline points="437.6,389.8 452.7,430.9 467.8,382.2 482.8,373.8 497.9,388.1 513.0,396.4" fill="none" stroke="#aab2c2" stroke-width="0.6" stroke-dasharray="0.9 1.2" opacity="0.6"/>
<polyline points="437.6,389.8 452.7,406.9 467.8,407.6 482.8,421.3 497.9,381.6 513.0,411.8" fill="none" stroke="#98cc94" stroke-width="0.6" stroke-dasharray="0.9 1.2" opacity="0.6"/>
<polyline points="437.6,389.8 452.7,395.4 467.8,418.9 482.8,411.8 497.9,381.6 513.0,403.7" fill="none" stroke="#d0a8a8" stroke-width="0.6" stroke-dasharray="0.9 1.2" opacity="0.6"/>
<line x1="437.6" y1="402.1" x2="513.0" y2="402.1" stroke="#e8808c" stroke-width="1.3"/>
<line x1="437.6" y1="422.7" x2="513.0" y2="422.7" stroke="#a4d46c" stroke-width="1.2"/>
<line x1="437.6" y1="412.4" x2="513.0" y2="412.4" stroke="#3a3a3a" stroke-width="1.5"/>
<rect x="436.4" y="395.6" width="2.5" height="34.3" rx="1" fill="#000"/>
<circle cx="437.6" cy="389.8" r="1.3" fill="#000"/>
<rect x="451.4" y="398.3" width="2.5" height="25.0" rx="1" fill="#000"/>
<circle cx="452.7" cy="393.5" r="1.3" fill="#000"/>
<circle cx="452.7" cy="395.4" r="1.3" fill="#000"/>
<circle cx="452.7" cy="430.9" r="1.3" fill="#000"/>
<rect x="466.5" y="390.1" width="2.5" height="34.3" rx="1" fill="#000"/>
<circle cx="467.8" cy="382.2" r="1.3" fill="#000"/>
<rect x="481.6" y="396.5" width="2.5" height="26.0" rx="1" fill="#000"/>
<circle cx="482.8" cy="373.8" r="1.3" fill="#000"/>
<circle cx="482.8" cy="389.5" r="1.3" fill="#000"/>
<rect x="496.7" y="393.7" width="2.5" height="23.4" rx="1" fill="#000"/>
<circle cx="497.9" cy="364.3" r="1.3" fill="#000"/>
<circle cx="497.9" cy="381.6" r="1.3" fill="#000"/>
<circle cx="497.9" cy="388.1" r="1.3" fill="#000"/>
<rect x="511.8" y="389.1" width="2.5" height="29.7" rx="1" fill="#000"/>
<circle cx="513.0" cy="356.9" r="1.3" fill="#000"/>
<circle cx="513.0" cy="378.5" r="1.3" fill="#000"/>
<circle cx="513.0" cy="381.6" r="1.3" fill="#000"/>
<circle cx="513.0" cy="384.4" r="1.3" fill="#000"/>
<polyline points="437.6,412.7 452.7,410.9 467.8,409.0 482.8,408.1 497.9,406.2 513.0,402.2" fill="none" stroke="#27477f" stroke-width="1.4" stroke-linejoin="round"/>
<line x1="422.5" y1="340.0" x2="422.5" y2="433.4" stroke="#2a2a2a" stroke-width="1.5"/>
<line x1="420.7" y1="432.9" x2="422.5" y2="432.9" stroke="#333" stroke-width="0.9"/>
<text x="417.3" y="434.9" class="tk">-2</text>
<line x1="420.7" y1="422.7" x2="422.5" y2="422.7" stroke="#333" stroke-width="0.9"/>
<text x="417.3" y="424.7" class="tk">-1</text>
<line x1="420.7" y1="412.4" x2="422.5" y2="412.4" stroke="#333" stroke-width="0.9"/>
<text x="418.1" y="414.4" class="tk">0</text>
<line x1="420.7" y1="402.1" x2="422.5" y2="402.1" stroke="#333" stroke-width="0.9"/>
<text x="418.1" y="404.1" class="tk">1</text>
<line x1="420.7" y1="391.9" x2="422.5" y2="391.9" stroke="#333" stroke-width="0.9"/>
<text x="418.1" y="393.9" class="tk">2</text>
<line x1="420.7" y1="381.6" x2="422.5" y2="381.6" stroke="#333" stroke-width="0.9"/>
<text x="418.1" y="383.6" class="tk">3</text>
<line x1="420.7" y1="371.3" x2="422.5" y2="371.3" stroke="#333" stroke-width="0.9"/>
<text x="418.1" y="373.3" class="tk">4</text>
<line x1="420.7" y1="361.0" x2="422.5" y2="361.0" stroke="#333" stroke-width="0.9"/>
<text x="418.1" y="363.0" class="tk">5</text>
<line x1="420.7" y1="350.8" x2="422.5" y2="350.8" stroke="#333" stroke-width="0.9"/>
<text x="418.1" y="352.8" class="tk">6</text>
<line x1="420.7" y1="340.5" x2="422.5" y2="340.5" stroke="#333" stroke-width="0.9"/>
<text x="418.1" y="342.5" class="tk">7</text>
<polyline points="296.2,540.5 311.3,528.5 326.4,521.5 341.5,534.3 356.6,533.0 371.7,548.7" fill="none" stroke="#8cc8d4" stroke-width="0.7" stroke-dasharray="0.9 0.9" opacity="0.8"/>
<polyline points="296.2,552.7 311.3,524.9 326.4,505.6 341.5,530.5 356.6,528.9 371.7,532.9" fill="none" stroke="#a0c8a0" stroke-width="0.7" stroke-dasharray="0.9 0.9" opacity="0.8"/>
<polyline points="296.2,540.2 311.3,541.1 326.4,504.9 341.5,536.0 356.6,525.3 371.7,539.6" fill="none" stroke="#80b8cc" stroke-width="0.7" stroke-dasharray="0.9 0.9" opacity="0.8"/>
<polyline points="296.2,538.1 311.3,541.1 326.4,525.2 341.5,533.8 356.6,539.6 371.7,546.0" fill="none" stroke="#8cc8d4" stroke-width="0.7" stroke-dasharray="0.9 0.9" opacity="0.8"/>
<polyline points="296.2,553.2 311.3,538.3 326.4,523.4 341.5,539.8 356.6,534.9 371.7,540.1" fill="none" stroke="#8cc8d4" stroke-width="0.7" stroke-dasharray="0.9 0.9" opacity="0.8"/>
<polyline points="296.2,529.0 311.3,534.5 326.4,510.8 341.5,532.5 356.6,532.6 371.7,533.5" fill="none" stroke="#d0a8a8" stroke-width="0.7" stroke-dasharray="0.9 0.9" opacity="0.8"/>
<polyline points="296.2,531.5 311.3,539.4 326.4,525.8 341.5,534.7 356.6,535.0 371.7,542.1" fill="none" stroke="#b8d4a0" stroke-width="0.7" stroke-dasharray="0.9 0.9" opacity="0.8"/>
<polyline points="296.2,537.3 311.3,528.4 326.4,530.9 341.5,538.0 356.6,533.0 371.7,542.5" fill="none" stroke="#98cc94" stroke-width="0.7" stroke-dasharray="0.9 0.9" opacity="0.8"/>
<polyline points="296.2,539.3 311.3,534.9 326.4,512.0 341.5,530.4 356.6,528.2 371.7,544.6" fill="none" stroke="#80b8cc" stroke-width="0.7" stroke-dasharray="0.9 0.9" opacity="0.8"/>
<polyline points="296.2,536.5 311.3,518.1 326.4,523.3 341.5,538.3 356.6,534.0 371.7,525.0" fill="none" stroke="#a0c8a0" stroke-width="0.7" stroke-dasharray="0.9 0.9" opacity="0.8"/>
<polyline points="296.2,543.2 311.3,545.4 326.4,522.1 341.5,529.3 356.6,537.0 371.7,543.6" fill="none" stroke="#8cc8d4" stroke-width="0.7" stroke-dasharray="0.9 0.9" opacity="0.8"/>
<polyline points="296.2,527.9 311.3,535.1 326.4,524.6 341.5,533.0 356.6,525.8 371.7,539.9" fill="none" stroke="#a0c8a0" stroke-width="0.7" stroke-dasharray="0.9 0.9" opacity="0.8"/>
<polyline points="296.2,537.1 311.3,535.2 326.4,520.3 341.5,531.3 356.6,540.5 371.7,536.2" fill="none" stroke="#a0c8a0" stroke-width="0.7" stroke-dasharray="0.9 0.9" opacity="0.8"/>
<polyline points="296.2,542.1 311.3,537.0 326.4,513.8 341.5,537.0 356.6,536.4 371.7,546.4" fill="none" stroke="#8cc8d4" stroke-width="0.7" stroke-dasharray="0.9 0.9" opacity="0.8"/>
<polyline points="296.2,525.9 311.3,535.0 326.4,515.5 341.5,541.0 356.6,527.4 371.7,543.5" fill="none" stroke="#a0c8a0" stroke-width="0.7" stroke-dasharray="0.9 0.9" opacity="0.8"/>
<polyline points="296.2,533.3 311.3,518.1 326.4,502.2 341.5,529.3 356.6,523.6 371.7,533.0" fill="none" stroke="#d0a8a8" stroke-width="0.7" stroke-dasharray="0.9 0.9" opacity="0.8"/>
<polyline points="296.2,526.9 311.3,528.7 326.4,523.0 341.5,528.9 356.6,528.1 371.7,536.8" fill="none" stroke="#98cc94" stroke-width="0.7" stroke-dasharray="0.9 0.9" opacity="0.8"/>
<polyline points="296.2,537.6 311.3,533.0 326.4,522.2 341.5,531.2 356.6,535.0 371.7,543.2" fill="none" stroke="#d0a8a8" stroke-width="0.7" stroke-dasharray="0.9 0.9" opacity="0.8"/>
<polyline points="296.2,540.1 311.3,527.2 326.4,529.2 341.5,537.0 356.6,530.9 371.7,537.4" fill="none" stroke="#80b8cc" stroke-width="0.7" stroke-dasharray="0.9 0.9" opacity="0.8"/>
<polyline points="296.2,529.8 311.3,520.1 326.4,517.8 341.5,531.5 356.6,537.2 371.7,531.6" fill="none" stroke="#98cc94" stroke-width="0.7" stroke-dasharray="0.9 0.9" opacity="0.8"/>
<polyline points="296.2,530.8 311.3,534.1 326.4,515.7 341.5,534.0 356.6,534.6 371.7,536.8" fill="none" stroke="#8cc8d4" stroke-width="0.7" stroke-dasharray="0.9 0.9" opacity="0.8"/>
<polyline points="296.2,537.1 311.3,549.6 326.4,525.3 341.5,539.3 356.6,540.6 371.7,542.3" fill="none" stroke="#d0a8a8" stroke-width="0.7" stroke-dasharray="0.9 0.9" opacity="0.8"/>
<polyline points="296.2,542.7 311.3,546.0 326.4,514.0 341.5,531.8 356.6,527.8 371.7,543.0" fill="none" stroke="#98cc94" stroke-width="0.7" stroke-dasharray="0.9 0.9" opacity="0.8"/>
<polyline points="296.2,543.6 311.3,540.3 326.4,532.4 341.5,534.9 356.6,529.7 371.7,541.6" fill="none" stroke="#aab2c2" stroke-width="0.7" stroke-dasharray="0.9 0.9" opacity="0.8"/>
<polyline points="296.2,527.3 311.3,533.5 326.4,526.8 341.5,534.2 356.6,536.0 371.7,535.4" fill="none" stroke="#8cc8d4" stroke-width="0.7" stroke-dasharray="0.9 0.9" opacity="0.8"/>
<polyline points="296.2,533.6 311.3,532.4 326.4,506.0 341.5,528.5 356.6,533.7 371.7,528.9" fill="none" stroke="#d0a8a8" stroke-width="0.7" stroke-dasharray="0.9 0.9" opacity="0.8"/>
<polyline points="296.2,530.5 311.3,522.9 326.4,510.8 341.5,540.3 356.6,532.7 371.7,523.6" fill="none" stroke="#d0a8a8" stroke-width="0.7" stroke-dasharray="0.9 0.9" opacity="0.8"/>
<polyline points="296.2,521.3 311.3,534.7 326.4,516.1 341.5,535.5 356.6,530.2 371.7,541.5" fill="none" stroke="#aab2c2" stroke-width="0.7" stroke-dasharray="0.9 0.9" opacity="0.8"/>
<polyline points="296.2,525.6 311.3,530.3 326.4,507.2 341.5,536.2 356.6,533.0 371.7,530.2" fill="none" stroke="#80b8cc" stroke-width="0.7" stroke-dasharray="0.9 0.9" opacity="0.8"/>
<polyline points="296.2,533.4 311.3,537.9 326.4,515.2 341.5,533.2 356.6,540.0 371.7,547.5" fill="none" stroke="#d0a8a8" stroke-width="0.7" stroke-dasharray="0.9 0.9" opacity="0.8"/>
<polyline points="296.2,524.2 311.3,520.7 326.4,528.1 341.5,532.8 356.6,529.6 371.7,535.3" fill="none" stroke="#d0a8a8" stroke-width="0.7" stroke-dasharray="0.9 0.9" opacity="0.8"/>
<polyline points="296.2,532.7 311.3,532.0 326.4,521.9 341.5,527.5 356.6,537.1 371.7,537.0" fill="none" stroke="#80b8cc" stroke-width="0.7" stroke-dasharray="0.9 0.9" opacity="0.8"/>
<polyline points="296.2,530.6 311.3,524.6 326.4,500.1 341.5,535.6 356.6,538.8 371.7,537.2" fill="none" stroke="#a0c8a0" stroke-width="0.7" stroke-dasharray="0.9 0.9" opacity="0.8"/>
<polyline points="296.2,528.6 311.3,541.6 326.4,515.5 341.5,531.8 356.6,535.2 371.7,537.4" fill="none" stroke="#98cc94" stroke-width="0.7" stroke-dasharray="0.9 0.9" opacity="0.8"/>
<polyline points="296.2,532.2 311.3,530.2 326.4,521.7 341.5,525.5 356.6,526.8 371.7,536.0" fill="none" stroke="#98cc94" stroke-width="0.7" stroke-dasharray="0.9 0.9" opacity="0.8"/>
<polyline points="296.2,540.3 311.3,524.9 326.4,516.8 341.5,535.0 356.6,528.3 371.7,541.6" fill="none" stroke="#d0a8a8" stroke-width="0.7" stroke-dasharray="0.9 0.9" opacity="0.8"/>
<polyline points="296.2,526.5 311.3,540.0 326.4,523.1 341.5,526.4 356.6,534.2 371.7,533.4" fill="none" stroke="#80b8cc" stroke-width="0.7" stroke-dasharray="0.9 0.9" opacity="0.8"/>
<polyline points="296.2,533.2 311.3,535.5 326.4,522.7 341.5,532.6 356.6,543.6 371.7,538.6" fill="none" stroke="#aab2c2" stroke-width="0.7" stroke-dasharray="0.9 0.9" opacity="0.8"/>
<polyline points="296.2,536.7 311.3,539.0 326.4,519.1 341.5,537.7 356.6,533.8 371.7,535.4" fill="none" stroke="#a0c8a0" stroke-width="0.7" stroke-dasharray="0.9 0.9" opacity="0.8"/>
<polyline points="296.2,538.4 311.3,535.6 326.4,524.0 341.5,536.3 356.6,532.4 371.7,536.0" fill="none" stroke="#8cc8d4" stroke-width="0.7" stroke-dasharray="0.9 0.9" opacity="0.8"/>
<polyline points="296.2,544.1 311.3,535.5 326.4,507.6 341.5,532.6 356.6,528.1 371.7,543.0" fill="none" stroke="#98cc94" stroke-width="0.7" stroke-dasharray="0.9 0.9" opacity="0.8"/>
<polyline points="296.2,536.4 311.3,533.7 326.4,521.8 341.5,530.4 356.6,531.8 371.7,533.2" fill="none" stroke="#8cc8d4" stroke-width="0.7" stroke-dasharray="0.9 0.9" opacity="0.8"/>
<polyline points="296.2,532.7 311.3,532.9 326.4,506.8 341.5,531.1 356.6,528.8 371.7,524.8" fill="none" stroke="#98cc94" stroke-width="0.7" stroke-dasharray="0.9 0.9" opacity="0.8"/>
<polyline points="296.2,521.2 311.3,518.3 326.4,510.7 341.5,531.9 356.6,529.7 371.7,542.7" fill="none" stroke="#a0c8a0" stroke-width="0.7" stroke-dasharray="0.9 0.9" opacity="0.8"/>
<polyline points="296.2,533.7 311.3,533.0 326.4,523.7 341.5,537.9 356.6,546.2 371.7,543.0" fill="none" stroke="#b8d4a0" stroke-width="0.7" stroke-dasharray="0.9 0.9" opacity="0.8"/>
<polyline points="296.2,529.8 311.3,536.7 326.4,528.3 341.5,529.8 356.6,541.2 371.7,539.7" fill="none" stroke="#aab2c2" stroke-width="0.7" stroke-dasharray="0.9 0.9" opacity="0.8"/>
<polyline points="296.2,536.7 311.3,529.3 326.4,521.7 341.5,523.6 356.6,534.4 371.7,545.6" fill="none" stroke="#b8d4a0" stroke-width="0.7" stroke-dasharray="0.9 0.9" opacity="0.8"/>
<polyline points="296.2,535.5 311.3,536.0 326.4,511.5 341.5,536.5 356.6,530.7 371.7,536.7" fill="none" stroke="#98cc94" stroke-width="0.7" stroke-dasharray="0.9 0.9" opacity="0.8"/>
<polyline points="296.2,525.5 311.3,522.6 326.4,494.3 341.5,526.3 356.6,535.1 371.7,526.8" fill="none" stroke="#80b8cc" stroke-width="0.7" stroke-dasharray="0.9 0.9" opacity="0.8"/>
<polyline points="296.2,541.4 311.3,541.8 326.4,526.2 341.5,531.4 356.6,538.2 371.7,540.0" fill="none" stroke="#98cc94" stroke-width="0.7" stroke-dasharray="0.9 0.9" opacity="0.8"/>
<polyline points="296.2,547.8 311.3,530.2 326.4,522.0 341.5,534.0 356.6,526.0 371.7,545.4" fill="none" stroke="#a0c8a0" stroke-width="0.7" stroke-dasharray="0.9 0.9" opacity="0.8"/>
<polyline points="296.2,551.1 311.3,529.3 326.4,521.5 341.5,536.9 356.6,531.5 371.7,546.9" fill="none" stroke="#a0c8a0" stroke-width="0.7" stroke-dasharray="0.9 0.9" opacity="0.8"/>
<polyline points="296.2,537.2 311.3,539.9 326.4,527.8 341.5,528.5 356.6,529.8 371.7,541.1" fill="none" stroke="#98cc94" stroke-width="0.7" stroke-dasharray="0.9 0.9" opacity="0.8"/>
<polyline points="296.2,529.3 311.3,518.1 326.4,503.6 341.5,530.7 356.6,533.1 371.7,531.0" fill="none" stroke="#8cc8d4" stroke-width="0.7" stroke-dasharray="0.9 0.9" opacity="0.8"/>
<polyline points="296.2,532.5 311.3,531.0 326.4,516.3 341.5,536.7 356.6,532.1 371.7,539.1" fill="none" stroke="#8cc8d4" stroke-width="0.7" stroke-dasharray="0.9 0.9" opacity="0.8"/>
<polyline points="296.2,528.1 311.3,541.9 326.4,503.6 341.5,529.2 356.6,538.1 371.7,533.6" fill="none" stroke="#aab2c2" stroke-width="0.7" stroke-dasharray="0.9 0.9" opacity="0.8"/>
<polyline points="296.2,528.7 311.3,520.2 326.4,517.4 341.5,523.6 356.6,523.6 371.7,523.6" fill="none" stroke="#d0a8a8" stroke-width="0.7" stroke-dasharray="0.9 0.9" opacity="0.8"/>
<polyline points="296.2,534.4 311.3,540.2 326.4,503.2 341.5,529.6 356.6,529.9 371.7,548.3" fill="none" stroke="#a0c8a0" stroke-width="0.7" stroke-dasharray="0.9 0.9" opacity="0.8"/>
<polyline points="296.2,534.5 311.3,526.0 326.4,504.4 341.5,529.7 356.6,541.3 371.7,545.0" fill="none" stroke="#80b8cc" stroke-width="0.7" stroke-dasharray="0.9 0.9" opacity="0.8"/>
<polyline points="296.2,534.8 311.3,521.4 326.4,521.1 341.5,525.3 356.6,524.7 371.7,534.6" fill="none" stroke="#b8d4a0" stroke-width="0.7" stroke-dasharray="0.9 0.9" opacity="0.8"/>
<polyline points="296.2,534.8 311.3,522.0 326.4,527.5 341.5,541.1 356.6,536.2 371.7,545.0" fill="none" stroke="#80b8cc" stroke-width="0.7" stroke-dasharray="0.9 0.9" opacity="0.8"/>
<polyline points="296.2,531.1 311.3,531.2 326.4,513.3 341.5,528.2 356.6,529.2 371.7,542.7" fill="none" stroke="#8cc8d4" stroke-width="0.7" stroke-dasharray="0.9 0.9" opacity="0.8"/>
<polyline points="296.2,530.4 311.3,530.4 326.4,508.3 341.5,532.9 356.6,536.3 371.7,531.5" fill="none" stroke="#a0c8a0" stroke-width="0.7" stroke-dasharray="0.9 0.9" opacity="0.8"/>
<polyline points="296.2,553.2 311.3,537.9 326.4,506.9 341.5,535.9 356.6,535.4 371.7,544.9" fill="none" stroke="#d0a8a8" stroke-width="0.7" stroke-dasharray="0.9 0.9" opacity="0.8"/>
<polyline points="296.2,543.0 311.3,529.6 326.4,522.4 341.5,535.6 356.6,538.4 371.7,536.4" fill="none" stroke="#80b8cc" stroke-width="0.7" stroke-dasharray="0.9 0.9" opacity="0.8"/>
<polyline points="296.2,531.1 311.3,536.5 326.4,523.7 341.5,537.3 356.6,535.2 371.7,541.4" fill="none" stroke="#aab2c2" stroke-width="0.7" stroke-dasharray="0.9 0.9" opacity="0.8"/>
<polyline points="296.2,545.0 311.3,544.5 326.4,527.5 341.5,530.6 356.6,536.1 371.7,537.0" fill="none" stroke="#98cc94" stroke-width="0.7" stroke-dasharray="0.9 0.9" opacity="0.8"/>
<polyline points="296.2,543.4 311.3,539.9 326.4,525.0 341.5,536.4 356.6,532.4 371.7,533.1" fill="none" stroke="#b8d4a0" stroke-width="0.7" stroke-dasharray="0.9 0.9" opacity="0.8"/>
<polyline points="296.2,529.7 311.3,534.1 326.4,510.2 341.5,529.2 356.6,527.8 371.7,524.3" fill="none" stroke="#a0c8a0" stroke-width="0.7" stroke-dasharray="0.9 0.9" opacity="0.8"/>
<polyline points="296.2,522.8 311.3,525.0 326.4,507.0 341.5,528.9 356.6,531.4 371.7,526.3" fill="none" stroke="#aab2c2" stroke-width="0.7" stroke-dasharray="0.9 0.9" opacity="0.8"/>
<polyline points="296.2,538.8 311.3,534.7 326.4,519.5 341.5,531.8 356.6,527.4 371.7,535.6" fill="none" stroke="#8cc8d4" stroke-width="0.7" stroke-dasharray="0.9 0.9" opacity="0.8"/>
<polyline points="296.2,520.8 311.3,526.5 326.4,498.5 341.5,526.9 356.6,525.3 371.7,531.7" fill="none" stroke="#8cc8d4" stroke-width="0.7" stroke-dasharray="0.9 0.9" opacity="0.8"/>
<polyline points="296.2,533.8 311.3,548.0 326.4,531.6 341.5,541.4 356.6,539.5 371.7,543.5" fill="none" stroke="#8cc8d4" stroke-width="0.7" stroke-dasharray="0.9 0.9" opacity="0.8"/>
<polyline points="296.2,553.2 311.3,533.8 326.4,527.2 341.5,542.3 356.6,538.8 371.7,550.5" fill="none" stroke="#8cc8d4" stroke-width="0.7" stroke-dasharray="0.9 0.9" opacity="0.8"/>
<polyline points="296.2,523.5 311.3,523.3 326.4,511.5 341.5,525.7 356.6,538.5 371.7,533.2" fill="none" stroke="#a0c8a0" stroke-width="0.7" stroke-dasharray="0.9 0.9" opacity="0.8"/>
<polyline points="296.2,543.9 311.3,532.9 326.4,528.3 341.5,535.4 356.6,539.3 371.7,539.6" fill="none" stroke="#8cc8d4" stroke-width="0.7" stroke-dasharray="0.9 0.9" opacity="0.8"/>
<polyline points="296.2,544.6 311.3,524.7 326.4,509.4 341.5,529.2 356.6,534.8 371.7,536.4" fill="none" stroke="#d0a8a8" stroke-width="0.7" stroke-dasharray="0.9 0.9" opacity="0.8"/>
<polyline points="296.2,528.4 311.3,540.0 326.4,522.9 341.5,541.3 356.6,540.2 371.7,542.0" fill="none" stroke="#80b8cc" stroke-width="0.7" stroke-dasharray="0.9 0.9" opacity="0.8"/>
<polyline points="296.2,538.3 311.3,528.1 326.4,523.9 341.5,527.0 356.6,524.3 371.7,536.2" fill="none" stroke="#98cc94" stroke-width="0.7" stroke-dasharray="0.9 0.9" opacity="0.8"/>
<polyline points="296.2,530.0 311.3,540.6 326.4,519.7 341.5,537.0 356.6,538.4 371.7,542.7" fill="none" stroke="#80b8cc" stroke-width="0.7" stroke-dasharray="0.9 0.9" opacity="0.8"/>
<polyline points="296.2,533.8 311.3,531.5 326.4,528.4 341.5,539.6 356.6,540.3 371.7,537.7" fill="none" stroke="#b8d4a0" stroke-width="0.7" stroke-dasharray="0.9 0.9" opacity="0.8"/>
<polyline points="296.2,536.8 311.3,518.1 326.4,509.6 341.5,525.2 356.6,523.6 371.7,536.1" fill="none" stroke="#d0a8a8" stroke-width="0.7" stroke-dasharray="0.9 0.9" opacity="0.8"/>
<polyline points="296.2,536.7 311.3,538.2 326.4,515.5 341.5,533.2 356.6,529.1 371.7,551.1" fill="none" stroke="#d0a8a8" stroke-width="0.7" stroke-dasharray="0.9 0.9" opacity="0.8"/>
<polyline points="296.2,538.5 311.3,529.3 326.4,500.5 341.5,530.4 356.6,540.0 371.7,532.5" fill="none" stroke="#d0a8a8" stroke-width="0.7" stroke-dasharray="0.9 0.9" opacity="0.8"/>
<polyline points="296.2,536.7 311.3,529.2 326.4,498.7 341.5,534.3 356.6,532.2 371.7,534.8" fill="none" stroke="#d0a8a8" stroke-width="0.7" stroke-dasharray="0.9 0.9" opacity="0.8"/>
<polyline points="296.2,532.1 311.3,536.5 326.4,509.6 341.5,535.5 356.6,543.7 371.7,530.2" fill="none" stroke="#80b8cc" stroke-width="0.7" stroke-dasharray="0.9 0.9" opacity="0.8"/>
<polyline points="296.2,534.1 311.3,528.7 326.4,517.6 341.5,536.3 356.6,537.1 371.7,531.7" fill="none" stroke="#80b8cc" stroke-width="0.7" stroke-dasharray="0.9 0.9" opacity="0.8"/>
<polyline points="296.2,530.5 311.3,540.3 326.4,524.7 341.5,531.2 356.6,533.9 371.7,537.9" fill="none" stroke="#a0c8a0" stroke-width="0.7" stroke-dasharray="0.9 0.9" opacity="0.8"/>
<polyline points="296.2,534.4 311.3,542.5 326.4,516.4 341.5,535.1 356.6,533.0 371.7,539.4" fill="none" stroke="#80b8cc" stroke-width="0.7" stroke-dasharray="0.9 0.9" opacity="0.8"/>
<polyline points="296.2,537.9 311.3,526.0 326.4,525.3 341.5,528.0 356.6,535.8 371.7,536.5" fill="none" stroke="#aab2c2" stroke-width="0.7" stroke-dasharray="0.9 0.9" opacity="0.8"/>
<polyline points="296.2,545.2 311.3,534.3 326.4,519.7 341.5,533.1 356.6,530.9 371.7,545.4" fill="none" stroke="#a0c8a0" stroke-width="0.7" stroke-dasharray="0.9 0.9" opacity="0.8"/>
<polyline points="296.2,540.4 311.3,538.5 326.4,523.2 341.5,531.8 356.6,541.1 371.7,534.9" fill="none" stroke="#8cc8d4" stroke-width="0.7" stroke-dasharray="0.9 0.9" opacity="0.8"/>
<polyline points="296.2,523.9 311.3,534.5 326.4,502.7 341.5,530.5 356.6,528.2 371.7,523.6" fill="none" stroke="#a0c8a0" stroke-width="0.7" stroke-dasharray="0.9 0.9" opacity="0.8"/>
<polyline points="296.2,523.6 311.3,531.3 326.4,506.8 341.5,525.6 356.6,530.7 371.7,533.7" fill="none" stroke="#a0c8a0" stroke-width="0.7" stroke-dasharray="0.9 0.9" opacity="0.8"/>
<polyline points="296.2,531.8 311.3,528.0 326.4,509.6 341.5,530.5 356.6,523.6 371.7,525.9" fill="none" stroke="#98cc94" stroke-width="0.7" stroke-dasharray="0.9 0.9" opacity="0.8"/>
<polyline points="296.2,534.3 311.3,532.3 326.4,499.8 341.5,525.2 356.6,533.3 371.7,529.9" fill="none" stroke="#98cc94" stroke-width="0.7" stroke-dasharray="0.9 0.9" opacity="0.8"/>
<polyline points="296.2,540.3 311.3,527.6 326.4,513.6 341.5,536.9 356.6,533.7 371.7,535.3" fill="none" stroke="#d0a8a8" stroke-width="0.7" stroke-dasharray="0.9 0.9" opacity="0.8"/>
<polyline points="296.2,543.0 311.3,533.6 326.4,510.2 341.5,528.7 356.6,535.2 371.7,540.9" fill="none" stroke="#aab2c2" stroke-width="0.7" stroke-dasharray="0.9 0.9" opacity="0.8"/>
<polyline points="296.2,537.7 311.3,531.6 326.4,506.3 341.5,531.1 356.6,539.2 371.7,535.3" fill="none" stroke="#98cc94" stroke-width="0.7" stroke-dasharray="0.9 0.9" opacity="0.8"/>
<polyline points="296.2,528.0 311.3,538.3 326.4,526.0 341.5,531.5 356.6,524.9 371.7,540.0" fill="none" stroke="#b8d4a0" stroke-width="0.7" stroke-dasharray="0.9 0.9" opacity="0.8"/>
<polyline points="296.2,540.9 311.3,530.7 326.4,520.1 341.5,531.2 356.6,529.7 371.7,540.6" fill="none" stroke="#b8d4a0" stroke-width="0.7" stroke-dasharray="0.9 0.9" opacity="0.8"/>
<polyline points="296.2,521.9 311.3,538.0 326.4,517.8 341.5,531.9 356.6,531.8 371.7,530.3" fill="none" stroke="#a0c8a0" stroke-width="0.7" stroke-dasharray="0.9 0.9" opacity="0.8"/>
<polyline points="296.2,530.2 311.3,534.3 326.4,511.6 341.5,536.7 356.6,528.2 371.7,540.0" fill="none" stroke="#aab2c2" stroke-width="0.7" stroke-dasharray="0.9 0.9" opacity="0.8"/>
<polyline points="296.2,529.7 311.3,528.7 326.4,522.4 341.5,532.4 356.6,531.2 371.7,548.8" fill="none" stroke="#b8d4a0" stroke-width="0.7" stroke-dasharray="0.9 0.9" opacity="0.8"/>
<polyline points="296.2,533.0 311.3,528.4 326.4,506.3 341.5,531.9 356.6,535.5 371.7,539.0" fill="none" stroke="#aab2c2" stroke-width="0.7" stroke-dasharray="0.9 0.9" opacity="0.8"/>
<polyline points="296.2,529.6 311.3,527.1 326.4,500.1 341.5,534.9 356.6,531.5 371.7,534.9" fill="none" stroke="#8cc8d4" stroke-width="0.7" stroke-dasharray="0.9 0.9" opacity="0.8"/>
<polyline points="296.2,540.6 311.3,526.2 326.4,519.0 341.5,531.1 356.6,539.9 371.7,536.6" fill="none" stroke="#d0a8a8" stroke-width="0.7" stroke-dasharray="0.9 0.9" opacity="0.8"/>
<polyline points="296.2,549.4 311.3,546.3 326.4,520.4 341.5,538.0 356.6,533.2 371.7,538.3" fill="none" stroke="#98cc94" stroke-width="0.7" stroke-dasharray="0.9 0.9" opacity="0.8"/>
<polyline points="296.2,536.7 311.3,535.4 326.4,520.5 341.5,533.2 356.6,533.2 371.7,526.7" fill="none" stroke="#98cc94" stroke-width="0.7" stroke-dasharray="0.9 0.9" opacity="0.8"/>
<polyline points="296.2,526.7 311.3,521.2 326.4,508.3 341.5,527.1 356.6,523.6 371.7,528.8" fill="none" stroke="#8cc8d4" stroke-width="0.7" stroke-dasharray="0.9 0.9" opacity="0.8"/>
<polyline points="296.2,553.2 311.3,538.7 326.4,531.9 341.5,542.8 356.6,543.1 371.7,553.2" fill="none" stroke="#98cc94" stroke-width="0.7" stroke-dasharray="0.9 0.9" opacity="0.8"/>
<polyline points="296.2,533.1 311.3,533.6 326.4,523.7 341.5,540.4 356.6,541.9 371.7,537.0" fill="none" stroke="#d0a8a8" stroke-width="0.7" stroke-dasharray="0.9 0.9" opacity="0.8"/>
<polyline points="296.2,532.0 311.3,532.8 326.4,511.4 341.5,527.1 356.6,533.3 371.7,538.3" fill="none" stroke="#80b8cc" stroke-width="0.7" stroke-dasharray="0.9 0.9" opacity="0.8"/>
<polyline points="296.2,532.6 311.3,545.2 326.4,517.7 341.5,532.9 356.6,531.3 371.7,538.9" fill="none" stroke="#aab2c2" stroke-width="0.7" stroke-dasharray="0.9 0.9" opacity="0.8"/>
<polyline points="296.2,528.0 311.3,527.5 326.4,518.8 341.5,536.7 356.6,532.2 371.7,543.6" fill="none" stroke="#8cc8d4" stroke-width="0.7" stroke-dasharray="0.9 0.9" opacity="0.8"/>
<polyline points="296.2,536.2 311.3,542.4 326.4,511.3 341.5,535.9 356.6,534.9 371.7,529.4" fill="none" stroke="#b8d4a0" stroke-width="0.7" stroke-dasharray="0.9 0.9" opacity="0.8"/>
<polyline points="296.2,540.1 311.3,526.2 326.4,518.2 341.5,529.0 356.6,524.9 371.7,526.8" fill="none" stroke="#8cc8d4" stroke-width="0.7" stroke-dasharray="0.9 0.9" opacity="0.8"/>
<polyline points="296.2,529.3 311.3,518.1 326.4,517.1 341.5,523.6 356.6,533.6 371.7,536.2" fill="none" stroke="#98cc94" stroke-width="0.7" stroke-dasharray="0.9 0.9" opacity="0.8"/>
<polyline points="296.2,530.1 311.3,532.7 326.4,525.4 341.5,536.7 356.6,540.8 371.7,537.9" fill="none" stroke="#98cc94" stroke-width="0.7" stroke-dasharray="0.9 0.9" opacity="0.8"/>
<polyline points="296.2,524.6 311.3,532.3 326.4,500.9 341.5,534.9 356.6,530.2 371.7,523.6" fill="none" stroke="#b8d4a0" stroke-width="0.7" stroke-dasharray="0.9 0.9" opacity="0.8"/>
<polyline points="296.2,530.8 311.3,529.6 326.4,501.6 341.5,528.5 356.6,531.4 371.7,543.3" fill="none" stroke="#aab2c2" stroke-width="0.7" stroke-dasharray="0.9 0.9" opacity="0.8"/>
<polyline points="296.2,544.0 311.3,549.6 326.4,530.8 341.5,535.6 356.6,546.9 371.7,537.4" fill="none" stroke="#98cc94" stroke-width="0.7" stroke-dasharray="0.9 0.9" opacity="0.8"/>
<polyline points="296.2,543.3 311.3,545.4 326.4,528.5 341.5,541.2 356.6,528.4 371.7,539.5" fill="none" stroke="#aab2c2" stroke-width="0.7" stroke-dasharray="0.9 0.9" opacity="0.8"/>
<polyline points="296.2,528.3 311.3,532.1 326.4,517.2 341.5,539.6 356.6,547.4 371.7,548.4" fill="none" stroke="#80b8cc" stroke-width="0.7" stroke-dasharray="0.9 0.9" opacity="0.8"/>
<polyline points="296.2,533.1 311.3,532.1 326.4,518.4 341.5,531.0 356.6,532.3 371.7,541.1" fill="none" stroke="#98cc94" stroke-width="0.7" stroke-dasharray="0.9 0.9" opacity="0.8"/>
<polyline points="296.2,532.6 311.3,533.0 326.4,526.4 341.5,534.8 356.6,532.1 371.7,538.0" fill="none" stroke="#80b8cc" stroke-width="0.7" stroke-dasharray="0.9 0.9" opacity="0.8"/>
<polyline points="296.2,538.1 311.3,536.4 326.4,528.4 341.5,542.8 356.6,542.7 371.7,553.2" fill="none" stroke="#a0c8a0" stroke-width="0.7" stroke-dasharray="0.9 0.9" opacity="0.8"/>
<polyline points="296.2,541.6 311.3,536.4 326.4,529.9 341.5,534.6 356.6,528.7 371.7,553.2" fill="none" stroke="#aab2c2" stroke-width="0.7" stroke-dasharray="0.9 0.9" opacity="0.8"/>
<polyline points="296.2,523.7 311.3,531.2 326.4,503.9 341.5,537.1 356.6,537.3 371.7,538.5" fill="none" stroke="#a0c8a0" stroke-width="0.7" stroke-dasharray="0.9 0.9" opacity="0.8"/>
<polyline points="296.2,533.6 311.3,537.5 326.4,500.7 341.5,532.2 356.6,529.6 371.7,543.3" fill="none" stroke="#8cc8d4" stroke-width="0.7" stroke-dasharray="0.9 0.9" opacity="0.8"/>
<polyline points="296.2,549.5 311.3,538.7 326.4,482.8 341.5,527.9 356.6,529.5 371.7,538.2" fill="none" stroke="#98cc94" stroke-width="0.6" stroke-dasharray="0.9 1.2" opacity="0.6"/>
<polyline points="296.2,534.9 311.3,536.0 326.4,526.1 341.5,537.2 356.6,526.7 371.7,528.9" fill="none" stroke="#8cc8d4" stroke-width="0.6" stroke-dasharray="0.9 1.2" opacity="0.6"/>
<polyline points="296.2,527.3 311.3,528.6 326.4,505.7 341.5,520.8 356.6,546.9 371.7,550.5" fill="none" stroke="#aab2c2" stroke-width="0.6" stroke-dasharray="0.9 1.2" opacity="0.6"/>
<polyline points="296.2,517.2 311.3,530.7 326.4,482.8 341.5,520.8 356.6,540.0 371.7,532.0" fill="none" stroke="#8cc8d4" stroke-width="0.6" stroke-dasharray="0.9 1.2" opacity="0.6"/>
<polyline points="296.2,536.9 311.3,525.0 326.4,491.6 341.5,523.9 356.6,533.6 371.7,520.8" fill="none" stroke="#b8d4a0" stroke-width="0.6" stroke-dasharray="0.9 1.2" opacity="0.6"/>
<polyline points="296.2,517.2 311.3,527.7 326.4,488.8 341.5,530.3 356.6,527.6 371.7,524.8" fill="none" stroke="#a0c8a0" stroke-width="0.6" stroke-dasharray="0.9 1.2" opacity="0.6"/>
<polyline points="296.2,517.2 311.3,531.4 326.4,497.9 341.5,536.1 356.6,525.6 371.7,520.8" fill="none" stroke="#aab2c2" stroke-width="0.6" stroke-dasharray="0.9 1.2" opacity="0.6"/>
<polyline points="296.2,529.1 311.3,525.4 326.4,525.4 341.5,536.4 356.6,546.0 371.7,525.3" fill="none" stroke="#aab2c2" stroke-width="0.6" stroke-dasharray="0.9 1.2" opacity="0.6"/>
<polyline points="296.2,517.2 311.3,527.3 326.4,495.5 341.5,538.8 356.6,538.7 371.7,525.9" fill="none" stroke="#98cc94" stroke-width="0.6" stroke-dasharray="0.9 1.2" opacity="0.6"/>
<polyline points="296.2,523.9 311.3,539.3 326.4,491.6 341.5,520.8 356.6,540.5 371.7,529.6" fill="none" stroke="#b8d4a0" stroke-width="0.6" stroke-dasharray="0.9 1.2" opacity="0.6"/>
<line x1="296.2" y1="522.4" x2="371.7" y2="522.4" stroke="#e8808c" stroke-width="1.3"/>
<line x1="296.2" y1="543.0" x2="371.7" y2="543.0" stroke="#a4d46c" stroke-width="1.2"/>
<line x1="296.2" y1="532.7" x2="371.7" y2="532.7" stroke="#3a3a3a" stroke-width="1.5"/>
<rect x="294.9" y="520.1" width="2.5" height="33.9" rx="1" fill="#000"/>
<circle cx="296.2" cy="517.2" r="1.3" fill="#000"/>
<rect x="310.1" y="517.4" width="2.5" height="32.9" rx="1" fill="#000"/>
<rect x="325.1" y="493.6" width="2.5" height="39.8" rx="1" fill="#000"/>
<circle cx="326.4" cy="482.8" r="1.3" fill="#000"/>
<circle cx="326.4" cy="488.8" r="1.3" fill="#000"/>
<circle cx="326.4" cy="491.6" r="1.3" fill="#000"/>
<rect x="340.2" y="522.9" width="2.5" height="20.6" rx="1" fill="#000"/>
<circle cx="341.5" cy="520.8" r="1.3" fill="#000"/>
<rect x="355.3" y="522.9" width="2.5" height="25.9" rx="1" fill="#000"/>
<rect x="370.4" y="522.9" width="2.5" height="31.1" rx="1" fill="#000"/>
<circle cx="371.7" cy="520.8" r="1.3" fill="#000"/>
<polyline points="296.2,534.5 311.3,533.6 326.4,519.9 341.5,532.7 356.6,533.6 371.7,538.1" fill="none" stroke="#27477f" stroke-width="1.4" stroke-linejoin="round"/>
<line x1="281.0" y1="460.3" x2="281.0" y2="553.7" stroke="#2a2a2a" stroke-width="1.5"/>
<line x1="279.2" y1="553.2" x2="281.0" y2="553.2" stroke="#333" stroke-width="0.9"/>
<text x="275.8" y="555.2" class="tk">-2</text>
<line x1="279.2" y1="543.0" x2="281.0" y2="543.0" stroke="#333" stroke-width="0.9"/>
<text x="275.8" y="545.0" class="tk">-1</text>
<line x1="279.2" y1="532.7" x2="281.0" y2="532.7" stroke="#333" stroke-width="0.9"/>
<text x="276.6" y="534.7" class="tk">0</text>
<line x1="279.2" y1="522.4" x2="281.0" y2="522.4" stroke="#333" stroke-width="0.9"/>
<text x="276.6" y="524.4" class="tk">1</text>
<line x1="279.2" y1="512.2" x2="281.0" y2="512.2" stroke="#333" stroke-width="0.9"/>
<text x="276.6" y="514.2" class="tk">2</text>
<line x1="279.2" y1="501.9" x2="281.0" y2="501.9" stroke="#333" stroke-width="0.9"/>
<text x="276.6" y="503.9" class="tk">3</text>
<line x1="279.2" y1="491.6" x2="281.0" y2="491.6" stroke="#333" stroke-width="0.9"/>
<text x="276.6" y="493.6" class="tk">4</text>
<line x1="279.2" y1="481.4" x2="281.0" y2="481.4" stroke="#333" stroke-width="0.9"/>
<text x="276.6" y="483.4" class="tk">5</text>
<line x1="279.2" y1="471.1" x2="281.0" y2="471.1" stroke="#333" stroke-width="0.9"/>
<text x="276.6" y="473.1" class="tk">6</text>
<line x1="279.2" y1="460.8" x2="281.0" y2="460.8" stroke="#333" stroke-width="0.9"/>
<text x="276.6" y="462.8" class="tk">7</text>
<text class="fc" transform="translate(263.8,502.9) rotate(-90)">Fold Change (log2)</text>
<polyline points="437.6,541.4 452.7,539.6 467.8,542.0 482.8,541.5 497.9,525.1 513.0,551.5" fill="none" stroke="#a0c8a0" stroke-width="0.7" stroke-dasharray="0.9 0.9" opacity="0.8"/>
<polyline points="437.6,531.0 452.7,543.2 467.8,536.0 482.8,542.5 497.9,524.0 513.0,545.8" fill="none" stroke="#8cc8d4" stroke-width="0.7" stroke-dasharray="0.9 0.9" opacity="0.8"/>
<polyline points="437.6,531.0 452.7,530.4 467.8,533.2 482.8,539.7 497.9,538.9 513.0,544.2" fill="none" stroke="#98cc94" stroke-width="0.7" stroke-dasharray="0.9 0.9" opacity="0.8"/>
<polyline points="437.6,533.2 452.7,534.2 467.8,531.9 482.8,528.5 497.9,539.3 513.0,535.8" fill="none" stroke="#aab2c2" stroke-width="0.7" stroke-dasharray="0.9 0.9" opacity="0.8"/>
<polyline points="437.6,531.7 452.7,524.9 467.8,529.4 482.8,525.9 497.9,544.6 513.0,540.7" fill="none" stroke="#b8d4a0" stroke-width="0.7" stroke-dasharray="0.9 0.9" opacity="0.8"/>
<polyline points="437.6,526.1 452.7,530.1 467.8,524.9 482.8,538.2 497.9,534.9 513.0,535.7" fill="none" stroke="#a0c8a0" stroke-width="0.7" stroke-dasharray="0.9 0.9" opacity="0.8"/>
<polyline points="437.6,537.4 452.7,532.0 467.8,523.1 482.8,537.3 497.9,521.5 513.0,540.9" fill="none" stroke="#aab2c2" stroke-width="0.7" stroke-dasharray="0.9 0.9" opacity="0.8"/>
<polyline points="437.6,525.9 452.7,535.3 467.8,522.9 482.8,523.8 497.9,523.6 513.0,517.7" fill="none" stroke="#8cc8d4" stroke-width="0.7" stroke-dasharray="0.9 0.9" opacity="0.8"/>
<polyline points="437.6,522.4 452.7,521.5 467.8,511.2 482.8,519.6 497.9,529.5 513.0,517.7" fill="none" stroke="#a0c8a0" stroke-width="0.7" stroke-dasharray="0.9 0.9" opacity="0.8"/>
<polyline points="437.6,533.8 452.7,543.0 467.8,533.6 482.8,534.1 497.9,533.9 513.0,546.7" fill="none" stroke="#d0a8a8" stroke-width="0.7" stroke-dasharray="0.9 0.9" opacity="0.8"/>
<polyline points="437.6,533.7 452.7,541.8 467.8,536.0 482.8,533.4 497.9,530.5 513.0,543.2" fill="none" stroke="#8cc8d4" stroke-width="0.7" stroke-dasharray="0.9 0.9" opacity="0.8"/>
<polyline points="437.6,530.1 452.7,516.8 467.8,526.1 482.8,530.8 497.9,525.8 513.0,543.4" fill="none" stroke="#a0c8a0" stroke-width="0.7" stroke-dasharray="0.9 0.9" opacity="0.8"/>
<polyline points="437.6,533.3 452.7,540.8 467.8,534.5 482.8,534.9 497.9,521.8 513.0,534.5" fill="none" stroke="#80b8cc" stroke-width="0.7" stroke-dasharray="0.9 0.9" opacity="0.8"/>
<polyline points="437.6,535.8 452.7,533.0 467.8,531.9 482.8,528.5 497.9,539.7 513.0,537.0" fill="none" stroke="#8cc8d4" stroke-width="0.7" stroke-dasharray="0.9 0.9" opacity="0.8"/>
<polyline points="437.6,534.6 452.7,537.8 467.8,534.5 482.8,533.9 497.9,544.1 513.0,551.5" fill="none" stroke="#80b8cc" stroke-width="0.7" stroke-dasharray="0.9 0.9" opacity="0.8"/>
<polyline points="437.6,524.2 452.7,523.0 467.8,536.8 482.8,534.1 497.9,539.0 513.0,549.8" fill="none" stroke="#a0c8a0" stroke-width="0.7" stroke-dasharray="0.9 0.9" opacity="0.8"/>
<polyline points="437.6,538.3 452.7,525.3 467.8,513.8 482.8,529.1 497.9,536.8 513.0,525.6" fill="none" stroke="#b8d4a0" stroke-width="0.7" stroke-dasharray="0.9 0.9" opacity="0.8"/>
<polyline points="437.6,541.7 452.7,546.0 467.8,542.0 482.8,539.8 497.9,545.8 513.0,551.5" fill="none" stroke="#80b8cc" stroke-width="0.7" stroke-dasharray="0.9 0.9" opacity="0.8"/>
<polyline points="437.6,544.9 452.7,528.6 467.8,536.7 482.8,534.0 497.9,539.7 513.0,539.4" fill="none" stroke="#aab2c2" stroke-width="0.7" stroke-dasharray="0.9 0.9" opacity="0.8"/>
<polyline points="437.6,533.6 452.7,534.5 467.8,542.0 482.8,531.8 497.9,536.6 513.0,535.8" fill="none" stroke="#80b8cc" stroke-width="0.7" stroke-dasharray="0.9 0.9" opacity="0.8"/>
<polyline points="437.6,538.5 452.7,540.2 467.8,533.8 482.8,529.5 497.9,537.4 513.0,535.0" fill="none" stroke="#d0a8a8" stroke-width="0.7" stroke-dasharray="0.9 0.9" opacity="0.8"/>
<polyline points="437.6,529.0 452.7,538.9 467.8,531.0 482.8,532.4 497.9,535.5 513.0,528.3" fill="none" stroke="#8cc8d4" stroke-width="0.7" stroke-dasharray="0.9 0.9" opacity="0.8"/>
<polyline points="437.6,536.2 452.7,537.0 467.8,523.2 482.8,534.1 497.9,541.6 513.0,535.7" fill="none" stroke="#b8d4a0" stroke-width="0.7" stroke-dasharray="0.9 0.9" opacity="0.8"/>
<polyline points="437.6,532.6 452.7,536.7 467.8,527.0 482.8,525.9 497.9,522.3 513.0,527.4" fill="none" stroke="#80b8cc" stroke-width="0.7" stroke-dasharray="0.9 0.9" opacity="0.8"/>
<polyline points="437.6,533.6 452.7,531.6 467.8,519.7 482.8,529.5 497.9,531.3 513.0,533.4" fill="none" stroke="#aab2c2" stroke-width="0.7" stroke-dasharray="0.9 0.9" opacity="0.8"/>
<polyline points="437.6,540.5 452.7,536.7 467.8,526.9 482.8,527.0 497.9,530.1 513.0,528.8" fill="none" stroke="#aab2c2" stroke-width="0.7" stroke-dasharray="0.9 0.9" opacity="0.8"/>
<polyline points="437.6,528.2 452.7,524.6 467.8,512.5 482.8,522.3 497.9,518.6 513.0,539.6" fill="none" stroke="#98cc94" stroke-width="0.7" stroke-dasharray="0.9 0.9" opacity="0.8"/>
<polyline points="437.6,534.2 452.7,536.7 467.8,526.8 482.8,529.4 497.9,535.1 513.0,535.9" fill="none" stroke="#a0c8a0" stroke-width="0.7" stroke-dasharray="0.9 0.9" opacity="0.8"/>
<polyline points="437.6,531.8 452.7,531.6 467.8,531.8 482.8,539.2 497.9,536.3 513.0,538.0" fill="none" stroke="#d0a8a8" stroke-width="0.7" stroke-dasharray="0.9 0.9" opacity="0.8"/>
<polyline points="437.6,535.3 452.7,528.1 467.8,534.6 482.8,533.2 497.9,534.2 513.0,526.2" fill="none" stroke="#98cc94" stroke-width="0.7" stroke-dasharray="0.9 0.9" opacity="0.8"/>
<polyline points="437.6,529.3 452.7,520.2 467.8,531.3 482.8,530.9 497.9,527.6 513.0,531.3" fill="none" stroke="#98cc94" stroke-width="0.7" stroke-dasharray="0.9 0.9" opacity="0.8"/>
<polyline points="437.6,534.0 452.7,531.0 467.8,540.0 482.8,533.9 497.9,538.4 513.0,529.1" fill="none" stroke="#8cc8d4" stroke-width="0.7" stroke-dasharray="0.9 0.9" opacity="0.8"/>
<polyline points="437.6,536.9 452.7,542.4 467.8,508.5 482.8,541.2 497.9,541.3 513.0,533.4" fill="none" stroke="#aab2c2" stroke-width="0.7" stroke-dasharray="0.9 0.9" opacity="0.8"/>
<polyline points="437.6,530.2 452.7,524.8 467.8,524.8 482.8,528.0 497.9,522.5 513.0,530.3" fill="none" stroke="#80b8cc" stroke-width="0.7" stroke-dasharray="0.9 0.9" opacity="0.8"/>
<polyline points="437.6,529.2 452.7,516.8 467.8,509.6 482.8,532.1 497.9,526.2 513.0,527.5" fill="none" stroke="#98cc94" stroke-width="0.7" stroke-dasharray="0.9 0.9" opacity="0.8"/>
<polyline points="437.6,525.8 452.7,526.5 467.8,520.9 482.8,540.1 497.9,537.2 513.0,526.8" fill="none" stroke="#98cc94" stroke-width="0.7" stroke-dasharray="0.9 0.9" opacity="0.8"/>
<polyline points="437.6,522.4 452.7,527.9 467.8,512.7 482.8,531.3 497.9,531.8 513.0,519.0" fill="none" stroke="#b8d4a0" stroke-width="0.7" stroke-dasharray="0.9 0.9" opacity="0.8"/>
<polyline points="437.6,536.9 452.7,528.6 467.8,526.2 482.8,533.5 497.9,542.0 513.0,535.8" fill="none" stroke="#aab2c2" stroke-width="0.7" stroke-dasharray="0.9 0.9" opacity="0.8"/>
<polyline points="437.6,538.9 452.7,536.0 467.8,528.3 482.8,537.2 497.9,536.9 513.0,551.5" fill="none" stroke="#80b8cc" stroke-width="0.7" stroke-dasharray="0.9 0.9" opacity="0.8"/>
<polyline points="437.6,544.2 452.7,543.7 467.8,530.6 482.8,543.8 497.9,534.5 513.0,528.5" fill="none" stroke="#80b8cc" stroke-width="0.7" stroke-dasharray="0.9 0.9" opacity="0.8"/>
<polyline points="437.6,533.9 452.7,533.7 467.8,533.6 482.8,537.4 497.9,537.8 513.0,541.5" fill="none" stroke="#a0c8a0" stroke-width="0.7" stroke-dasharray="0.9 0.9" opacity="0.8"/>
<polyline points="437.6,526.1 452.7,534.7 467.8,513.5 482.8,519.6 497.9,532.4 513.0,528.2" fill="none" stroke="#aab2c2" stroke-width="0.7" stroke-dasharray="0.9 0.9" opacity="0.8"/>
<polyline points="437.6,525.2 452.7,536.8 467.8,526.8 482.8,524.3 497.9,539.5 513.0,540.9" fill="none" stroke="#a0c8a0" stroke-width="0.7" stroke-dasharray="0.9 0.9" opacity="0.8"/>
<polyline points="437.6,534.8 452.7,538.9 467.8,518.1 482.8,529.4 497.9,534.2 513.0,536.5" fill="none" stroke="#a0c8a0" stroke-width="0.7" stroke-dasharray="0.9 0.9" opacity="0.8"/>
<polyline points="437.6,533.8 452.7,531.7 467.8,520.6 482.8,534.6 497.9,542.7 513.0,539.1" fill="none" stroke="#80b8cc" stroke-width="0.7" stroke-dasharray="0.9 0.9" opacity="0.8"/>
<polyline points="437.6,541.8 452.7,542.5 467.8,524.8 482.8,538.5 497.9,543.2 513.0,538.0" fill="none" stroke="#d0a8a8" stroke-width="0.7" stroke-dasharray="0.9 0.9" opacity="0.8"/>
<polyline points="437.6,539.2 452.7,525.7 467.8,509.6 482.8,520.3 497.9,517.7 513.0,525.6" fill="none" stroke="#80b8cc" stroke-width="0.7" stroke-dasharray="0.9 0.9" opacity="0.8"/>
<polyline points="437.6,544.9 452.7,543.7 467.8,537.0 482.8,544.8 497.9,537.2 513.0,551.5" fill="none" stroke="#a0c8a0" stroke-width="0.7" stroke-dasharray="0.9 0.9" opacity="0.8"/>
<polyline points="437.6,533.1 452.7,523.7 467.8,516.9 482.8,535.2 497.9,527.0 513.0,534.9" fill="none" stroke="#d0a8a8" stroke-width="0.7" stroke-dasharray="0.9 0.9" opacity="0.8"/>
<polyline points="437.6,524.0 452.7,533.8 467.8,507.3 482.8,538.2 497.9,529.5 513.0,533.0" fill="none" stroke="#98cc94" stroke-width="0.7" stroke-dasharray="0.9 0.9" opacity="0.8"/>
<polyline points="437.6,534.5 452.7,528.9 467.8,523.0 482.8,521.3 497.9,532.4 513.0,536.4" fill="none" stroke="#8cc8d4" stroke-width="0.7" stroke-dasharray="0.9 0.9" opacity="0.8"/>
<polyline points="437.6,532.4 452.7,535.5 467.8,511.1 482.8,524.7 497.9,520.2 513.0,528.5" fill="none" stroke="#a0c8a0" stroke-width="0.7" stroke-dasharray="0.9 0.9" opacity="0.8"/>
<polyline points="437.6,529.4 452.7,539.2 467.8,513.5 482.8,535.9 497.9,537.1 513.0,536.7" fill="none" stroke="#8cc8d4" stroke-width="0.7" stroke-dasharray="0.9 0.9" opacity="0.8"/>
<polyline points="437.6,533.1 452.7,541.4 467.8,515.7 482.8,532.3 497.9,530.0 513.0,528.7" fill="none" stroke="#8cc8d4" stroke-width="0.7" stroke-dasharray="0.9 0.9" opacity="0.8"/>
<polyline points="437.6,534.1 452.7,545.2 467.8,524.1 482.8,544.9 497.9,538.5 513.0,535.2" fill="none" stroke="#aab2c2" stroke-width="0.7" stroke-dasharray="0.9 0.9" opacity="0.8"/>
<polyline points="437.6,540.2 452.7,538.4 467.8,530.3 482.8,539.5 497.9,537.6 513.0,543.1" fill="none" stroke="#aab2c2" stroke-width="0.7" stroke-dasharray="0.9 0.9" opacity="0.8"/>
<polyline points="437.6,530.8 452.7,537.5 467.8,528.6 482.8,539.2 497.9,531.1 513.0,549.9" fill="none" stroke="#80b8cc" stroke-width="0.7" stroke-dasharray="0.9 0.9" opacity="0.8"/>
<polyline points="437.6,529.5 452.7,527.4 467.8,524.0 482.8,533.1 497.9,534.6 513.0,545.0" fill="none" stroke="#8cc8d4" stroke-width="0.7" stroke-dasharray="0.9 0.9" opacity="0.8"/>
<polyline points="437.6,530.6 452.7,528.9 467.8,526.3 482.8,532.0 497.9,531.3 513.0,525.1" fill="none" stroke="#98cc94" stroke-width="0.7" stroke-dasharray="0.9 0.9" opacity="0.8"/>
<polyline points="437.6,543.2 452.7,534.1 467.8,533.6 482.8,524.5 497.9,520.5 513.0,529.1" fill="none" stroke="#b8d4a0" stroke-width="0.7" stroke-dasharray="0.9 0.9" opacity="0.8"/>
<polyline points="437.6,533.5 452.7,533.6 467.8,521.6 482.8,530.1 497.9,534.6 513.0,539.0" fill="none" stroke="#aab2c2" stroke-width="0.7" stroke-dasharray="0.9 0.9" opacity="0.8"/>
<polyline points="437.6,531.9 452.7,530.3 467.8,521.4 482.8,537.8 497.9,534.1 513.0,534.7" fill="none" stroke="#d0a8a8" stroke-width="0.7" stroke-dasharray="0.9 0.9" opacity="0.8"/>
<polyline points="437.6,535.0 452.7,535.7 467.8,536.3 482.8,533.7 497.9,527.5 513.0,533.4" fill="none" stroke="#98cc94" stroke-width="0.7" stroke-dasharray="0.9 0.9" opacity="0.8"/>
<polyline points="437.6,530.8 452.7,522.1 467.8,520.6 482.8,532.7 497.9,527.8 513.0,533.2" fill="none" stroke="#aab2c2" stroke-width="0.7" stroke-dasharray="0.9 0.9" opacity="0.8"/>
<polyline points="437.6,532.5 452.7,524.9 467.8,526.4 482.8,541.1 497.9,526.2 513.0,538.0" fill="none" stroke="#d0a8a8" stroke-width="0.7" stroke-dasharray="0.9 0.9" opacity="0.8"/>
<polyline points="437.6,544.9 452.7,529.4 467.8,542.0 482.8,531.2 497.9,544.6 513.0,542.1" fill="none" stroke="#98cc94" stroke-width="0.7" stroke-dasharray="0.9 0.9" opacity="0.8"/>
<polyline points="437.6,543.9 452.7,528.5 467.8,522.0 482.8,532.1 497.9,535.2 513.0,533.7" fill="none" stroke="#a0c8a0" stroke-width="0.7" stroke-dasharray="0.9 0.9" opacity="0.8"/>
<polyline points="437.6,541.3 452.7,533.7 467.8,531.8 482.8,529.0 497.9,539.7 513.0,525.3" fill="none" stroke="#98cc94" stroke-width="0.7" stroke-dasharray="0.9 0.9" opacity="0.8"/>
<polyline points="437.6,540.3 452.7,532.9 467.8,528.2 482.8,530.9 497.9,532.1 513.0,536.7" fill="none" stroke="#98cc94" stroke-width="0.7" stroke-dasharray="0.9 0.9" opacity="0.8"/>
<polyline points="437.6,534.5 452.7,523.3 467.8,517.4 482.8,531.0 497.9,533.3 513.0,541.9" fill="none" stroke="#aab2c2" stroke-width="0.7" stroke-dasharray="0.9 0.9" opacity="0.8"/>
<polyline points="437.6,540.4 452.7,527.4 467.8,528.9 482.8,534.6 497.9,539.9 513.0,539.9" fill="none" stroke="#b8d4a0" stroke-width="0.7" stroke-dasharray="0.9 0.9" opacity="0.8"/>
<polyline points="437.6,522.4 452.7,528.0 467.8,523.5 482.8,539.8 497.9,541.7 513.0,541.1" fill="none" stroke="#b8d4a0" stroke-width="0.7" stroke-dasharray="0.9 0.9" opacity="0.8"/>
<polyline points="437.6,531.6 452.7,532.3 467.8,529.4 482.8,530.0 497.9,518.0 513.0,534.1" fill="none" stroke="#d0a8a8" stroke-width="0.7" stroke-dasharray="0.9 0.9" opacity="0.8"/>
<polyline points="437.6,541.0 452.7,538.0 467.8,540.6 482.8,534.7 497.9,534.2 513.0,542.1" fill="none" stroke="#d0a8a8" stroke-width="0.7" stroke-dasharray="0.9 0.9" opacity="0.8"/>
<polyline points="437.6,527.5 452.7,528.2 467.8,523.3 482.8,527.0 497.9,538.4 513.0,521.4" fill="none" stroke="#80b8cc" stroke-width="0.7" stroke-dasharray="0.9 0.9" opacity="0.8"/>
<polyline points="437.6,532.0 452.7,533.8 467.8,517.2 482.8,533.8 497.9,537.1 513.0,532.1" fill="none" stroke="#8cc8d4" stroke-width="0.7" stroke-dasharray="0.9 0.9" opacity="0.8"/>
<polyline points="437.6,532.2 452.7,534.4 467.8,526.9 482.8,535.2 497.9,527.0 513.0,531.6" fill="none" stroke="#80b8cc" stroke-width="0.7" stroke-dasharray="0.9 0.9" opacity="0.8"/>
<polyline points="437.6,539.3 452.7,530.6 467.8,515.9 482.8,526.6 497.9,533.2 513.0,534.6" fill="none" stroke="#aab2c2" stroke-width="0.7" stroke-dasharray="0.9 0.9" opacity="0.8"/>
<polyline points="437.6,537.4 452.7,531.6 467.8,542.0 482.8,533.9 497.9,526.3 513.0,542.1" fill="none" stroke="#a0c8a0" stroke-width="0.7" stroke-dasharray="0.9 0.9" opacity="0.8"/>
<polyline points="437.6,529.8 452.7,531.2 467.8,509.1 482.8,527.1 497.9,532.3 513.0,529.6" fill="none" stroke="#98cc94" stroke-width="0.7" stroke-dasharray="0.9 0.9" opacity="0.8"/>
<polyline points="437.6,530.3 452.7,533.5 467.8,519.5 482.8,535.4 497.9,533.7 513.0,530.6" fill="none" stroke="#80b8cc" stroke-width="0.7" stroke-dasharray="0.9 0.9" opacity="0.8"/>
<polyline points="437.6,536.4 452.7,541.5 467.8,529.1 482.8,541.8 497.9,539.1 513.0,539.2" fill="none" stroke="#80b8cc" stroke-width="0.7" stroke-dasharray="0.9 0.9" opacity="0.8"/>
<polyline points="437.6,530.3 452.7,530.3 467.8,514.0 482.8,534.7 497.9,538.3 513.0,523.8" fill="none" stroke="#80b8cc" stroke-width="0.7" stroke-dasharray="0.9 0.9" opacity="0.8"/>
<polyline points="437.6,522.4 452.7,523.4 467.8,507.3 482.8,523.0 497.9,517.7 513.0,520.5" fill="none" stroke="#98cc94" stroke-width="0.7" stroke-dasharray="0.9 0.9" opacity="0.8"/>
<polyline points="437.6,534.2 452.7,535.7 467.8,518.6 482.8,523.6 497.9,517.7 513.0,530.5" fill="none" stroke="#80b8cc" stroke-width="0.7" stroke-dasharray="0.9 0.9" opacity="0.8"/>
<polyline points="437.6,530.4 452.7,546.8 467.8,535.9 482.8,534.4 497.9,537.6 513.0,539.5" fill="none" stroke="#a0c8a0" stroke-width="0.7" stroke-dasharray="0.9 0.9" opacity="0.8"/>
<polyline points="437.6,535.5 452.7,534.3 467.8,527.6 482.8,540.5 497.9,528.2 513.0,531.2" fill="none" stroke="#d0a8a8" stroke-width="0.7" stroke-dasharray="0.9 0.9" opacity="0.8"/>
<polyline points="437.6,527.4 452.7,532.2 467.8,530.6 482.8,523.4 497.9,526.9 513.0,530.9" fill="none" stroke="#a0c8a0" stroke-width="0.7" stroke-dasharray="0.9 0.9" opacity="0.8"/>
<polyline points="437.6,527.7 452.7,521.6 467.8,520.0 482.8,528.5 497.9,520.1 513.0,525.6" fill="none" stroke="#8cc8d4" stroke-width="0.7" stroke-dasharray="0.9 0.9" opacity="0.8"/>
<polyline points="437.6,532.3 452.7,536.4 467.8,521.7 482.8,534.7 497.9,531.9 513.0,535.0" fill="none" stroke="#8cc8d4" stroke-width="0.7" stroke-dasharray="0.9 0.9" opacity="0.8"/>
<polyline points="437.6,533.5 452.7,541.5 467.8,537.9 482.8,530.8 497.9,543.1 513.0,541.6" fill="none" stroke="#98cc94" stroke-width="0.7" stroke-dasharray="0.9 0.9" opacity="0.8"/>
<polyline points="437.6,544.9 452.7,539.7 467.8,532.5 482.8,535.6 497.9,528.8 513.0,534.9" fill="none" stroke="#aab2c2" stroke-width="0.7" stroke-dasharray="0.9 0.9" opacity="0.8"/>
<polyline points="437.6,536.4 452.7,533.2 467.8,523.8 482.8,539.8 497.9,533.2 513.0,545.3" fill="none" stroke="#a0c8a0" stroke-width="0.7" stroke-dasharray="0.9 0.9" opacity="0.8"/>
<polyline points="437.6,544.0 452.7,538.9 467.8,535.5 482.8,544.9 497.9,541.8 513.0,534.1" fill="none" stroke="#aab2c2" stroke-width="0.7" stroke-dasharray="0.9 0.9" opacity="0.8"/>
<polyline points="437.6,531.6 452.7,525.7 467.8,523.7 482.8,537.2 497.9,545.8 513.0,533.1" fill="none" stroke="#98cc94" stroke-width="0.7" stroke-dasharray="0.9 0.9" opacity="0.8"/>
<polyline points="437.6,526.0 452.7,524.7 467.8,517.4 482.8,527.7 497.9,518.0 513.0,517.7" fill="none" stroke="#b8d4a0" stroke-width="0.7" stroke-dasharray="0.9 0.9" opacity="0.8"/>
<polyline points="437.6,529.2 452.7,541.8 467.8,522.4 482.8,528.4 497.9,517.7 513.0,536.9" fill="none" stroke="#98cc94" stroke-width="0.7" stroke-dasharray="0.9 0.9" opacity="0.8"/>
<polyline points="437.6,531.4 452.7,527.6 467.8,518.3 482.8,532.7 497.9,526.2 513.0,533.9" fill="none" stroke="#b8d4a0" stroke-width="0.7" stroke-dasharray="0.9 0.9" opacity="0.8"/>
<polyline points="437.6,530.5 452.7,537.4 467.8,534.9 482.8,530.5 497.9,531.5 513.0,530.7" fill="none" stroke="#aab2c2" stroke-width="0.7" stroke-dasharray="0.9 0.9" opacity="0.8"/>
<polyline points="437.6,529.4 452.7,533.2 467.8,524.4 482.8,533.6 497.9,531.8 513.0,536.3" fill="none" stroke="#a0c8a0" stroke-width="0.7" stroke-dasharray="0.9 0.9" opacity="0.8"/>
<polyline points="437.6,534.1 452.7,532.6 467.8,534.2 482.8,532.4 497.9,529.5 513.0,543.0" fill="none" stroke="#8cc8d4" stroke-width="0.7" stroke-dasharray="0.9 0.9" opacity="0.8"/>
<polyline points="437.6,522.7 452.7,527.3 467.8,520.2 482.8,537.9 497.9,528.2 513.0,537.7" fill="none" stroke="#aab2c2" stroke-width="0.7" stroke-dasharray="0.9 0.9" opacity="0.8"/>
<polyline points="437.6,533.4 452.7,530.1 467.8,527.7 482.8,534.2 497.9,534.5 513.0,544.1" fill="none" stroke="#d0a8a8" stroke-width="0.7" stroke-dasharray="0.9 0.9" opacity="0.8"/>
<polyline points="437.6,538.0 452.7,533.3 467.8,521.4 482.8,532.4 497.9,534.2 513.0,526.0" fill="none" stroke="#d0a8a8" stroke-width="0.7" stroke-dasharray="0.9 0.9" opacity="0.8"/>
<polyline points="437.6,527.9 452.7,530.8 467.8,529.3 482.8,535.3 497.9,533.4 513.0,539.7" fill="none" stroke="#a0c8a0" stroke-width="0.7" stroke-dasharray="0.9 0.9" opacity="0.8"/>
<polyline points="437.6,528.0 452.7,532.2 467.8,524.6 482.8,529.0 497.9,527.3 513.0,532.8" fill="none" stroke="#d0a8a8" stroke-width="0.7" stroke-dasharray="0.9 0.9" opacity="0.8"/>
<polyline points="437.6,528.8 452.7,531.9 467.8,521.7 482.8,532.5 497.9,534.1 513.0,517.7" fill="none" stroke="#aab2c2" stroke-width="0.7" stroke-dasharray="0.9 0.9" opacity="0.8"/>
<polyline points="437.6,544.5 452.7,520.0 467.8,535.9 482.8,539.0 497.9,536.4 513.0,535.4" fill="none" stroke="#80b8cc" stroke-width="0.7" stroke-dasharray="0.9 0.9" opacity="0.8"/>
<polyline points="437.6,527.9 452.7,533.3 467.8,516.6 482.8,530.2 497.9,531.1 513.0,536.1" fill="none" stroke="#80b8cc" stroke-width="0.7" stroke-dasharray="0.9 0.9" opacity="0.8"/>
<polyline points="437.6,533.5 452.7,532.7 467.8,538.3 482.8,530.9 497.9,536.5 513.0,533.8" fill="none" stroke="#aab2c2" stroke-width="0.7" stroke-dasharray="0.9 0.9" opacity="0.8"/>
<polyline points="437.6,535.6 452.7,530.3 467.8,527.6 482.8,524.5 497.9,536.2 513.0,536.4" fill="none" stroke="#8cc8d4" stroke-width="0.7" stroke-dasharray="0.9 0.9" opacity="0.8"/>
<polyline points="437.6,544.4 452.7,535.8 467.8,528.3 482.8,524.6 497.9,526.1 513.0,537.6" fill="none" stroke="#d0a8a8" stroke-width="0.7" stroke-dasharray="0.9 0.9" opacity="0.8"/>
<polyline points="437.6,540.9 452.7,536.2 467.8,541.0 482.8,538.6 497.9,538.4 513.0,550.0" fill="none" stroke="#8cc8d4" stroke-width="0.7" stroke-dasharray="0.9 0.9" opacity="0.8"/>
<polyline points="437.6,535.6 452.7,519.9 467.8,526.2 482.8,527.5 497.9,535.7 513.0,528.2" fill="none" stroke="#80b8cc" stroke-width="0.7" stroke-dasharray="0.9 0.9" opacity="0.8"/>
<polyline points="437.6,544.9 452.7,530.3 467.8,532.1 482.8,539.9 497.9,540.8 513.0,549.2" fill="none" stroke="#80b8cc" stroke-width="0.7" stroke-dasharray="0.9 0.9" opacity="0.8"/>
<polyline points="437.6,530.7 452.7,539.8 467.8,529.2 482.8,533.6 497.9,530.2 513.0,529.4" fill="none" stroke="#b8d4a0" stroke-width="0.7" stroke-dasharray="0.9 0.9" opacity="0.8"/>
<polyline points="437.6,542.8 452.7,525.0 467.8,519.3 482.8,536.5 497.9,528.0 513.0,535.6" fill="none" stroke="#98cc94" stroke-width="0.7" stroke-dasharray="0.9 0.9" opacity="0.8"/>
<polyline points="437.6,535.6 452.7,538.6 467.8,524.5 482.8,536.1 497.9,532.1 513.0,536.2" fill="none" stroke="#d0a8a8" stroke-width="0.7" stroke-dasharray="0.9 0.9" opacity="0.8"/>
<polyline points="437.6,522.4 452.7,530.1 467.8,524.0 482.8,534.5 497.9,523.4 513.0,524.3" fill="none" stroke="#98cc94" stroke-width="0.7" stroke-dasharray="0.9 0.9" opacity="0.8"/>
<polyline points="437.6,532.4 452.7,529.3 467.8,508.4 482.8,519.6 497.9,529.7 513.0,527.5" fill="none" stroke="#b8d4a0" stroke-width="0.7" stroke-dasharray="0.9 0.9" opacity="0.8"/>
<polyline points="437.6,526.2 452.7,514.8 467.8,540.1 482.8,528.3 497.9,521.2 513.0,505.9" fill="none" stroke="#8cc8d4" stroke-width="0.6" stroke-dasharray="0.9 1.2" opacity="0.6"/>
<polyline points="437.6,540.4 452.7,514.8 467.8,508.8 482.8,530.0 497.9,535.8 513.0,544.8" fill="none" stroke="#8cc8d4" stroke-width="0.6" stroke-dasharray="0.9 1.2" opacity="0.6"/>
<polyline points="437.6,544.7 452.7,514.8 467.8,535.5 482.8,527.8 497.9,525.0 513.0,505.9" fill="none" stroke="#80b8cc" stroke-width="0.6" stroke-dasharray="0.9 1.2" opacity="0.6"/>
<polyline points="437.6,543.2 452.7,525.3 467.8,531.9 482.8,525.6 497.9,523.1 513.0,505.9" fill="none" stroke="#b8d4a0" stroke-width="0.6" stroke-dasharray="0.9 1.2" opacity="0.6"/>
<polyline points="437.6,526.0 452.7,514.8 467.8,498.9 482.8,520.5 497.9,529.0 513.0,540.2" fill="none" stroke="#b8d4a0" stroke-width="0.6" stroke-dasharray="0.9 1.2" opacity="0.6"/>
<polyline points="437.6,535.1 452.7,525.7 467.8,498.9 482.8,525.0 497.9,533.6 513.0,505.9" fill="none" stroke="#8cc8d4" stroke-width="0.6" stroke-dasharray="0.9 1.2" opacity="0.6"/>
<polyline points="437.6,537.9 452.7,540.4 467.8,508.6 482.8,526.1 497.9,535.1 513.0,505.9" fill="none" stroke="#aab2c2" stroke-width="0.6" stroke-dasharray="0.9 1.2" opacity="0.6"/>
<polyline points="437.6,525.6 452.7,535.9 467.8,524.4 482.8,528.8 497.9,538.8 513.0,547.9" fill="none" stroke="#aab2c2" stroke-width="0.6" stroke-dasharray="0.9 1.2" opacity="0.6"/>
<polyline points="437.6,534.9 452.7,535.9 467.8,540.7 482.8,520.5 497.9,538.5 513.0,526.7" fill="none" stroke="#aab2c2" stroke-width="0.6" stroke-dasharray="0.9 1.2" opacity="0.6"/>
<polyline points="437.6,529.8 452.7,519.0 467.8,498.9 482.8,543.8 497.9,523.8 513.0,505.9" fill="none" stroke="#b8d4a0" stroke-width="0.6" stroke-dasharray="0.9 1.2" opacity="0.6"/>
<line x1="437.6" y1="522.4" x2="513.0" y2="522.4" stroke="#e8808c" stroke-width="1.3"/>
<line x1="437.6" y1="543.0" x2="513.0" y2="543.0" stroke="#a4d46c" stroke-width="1.2"/>
<line x1="437.6" y1="532.7" x2="513.0" y2="532.7" stroke="#3a3a3a" stroke-width="1.5"/>
<rect x="436.4" y="521.7" width="2.5" height="23.9" rx="1" fill="#000"/>
<circle cx="437.6" cy="513.9" r="1.25" fill="#000"/>
<circle cx="437.6" cy="516.6" r="1.25" fill="#000"/>
<circle cx="437.6" cy="519.3" r="1.25" fill="#000"/>
<circle cx="437.6" cy="547.7" r="1.25" fill="#000"/>
<circle cx="437.6" cy="550.0" r="1.25" fill="#000"/>
<circle cx="437.6" cy="553.0" r="1.25" fill="#000"/>
<rect x="451.4" y="516.1" width="2.5" height="31.4" rx="1" fill="#000"/>
<circle cx="452.7" cy="548.6" r="1.25" fill="#000"/>
<circle cx="452.7" cy="551.3" r="1.25" fill="#000"/>
<circle cx="452.7" cy="553.7" r="1.25" fill="#000"/>
<circle cx="452.7" cy="514.8" r="1.3" fill="#000"/>
<rect x="466.5" y="506.6" width="2.5" height="36.1" rx="1" fill="#000"/>
<circle cx="467.8" cy="498.9" r="1.3" fill="#000"/>
<circle cx="467.8" cy="504.6" r="1.3" fill="#000"/>
<rect x="481.6" y="518.9" width="2.5" height="26.8" rx="1" fill="#000"/>
<rect x="496.7" y="517.0" width="2.5" height="29.5" rx="1" fill="#000"/>
<rect x="511.8" y="517.0" width="2.5" height="35.2" rx="1" fill="#000"/>
<circle cx="513.0" cy="505.9" r="1.3" fill="#000"/>
<polyline points="437.6,534.0 452.7,532.7 467.8,526.1 482.8,533.2 497.9,533.6 513.0,535.2" fill="none" stroke="#27477f" stroke-width="1.4" stroke-linejoin="round"/>
<line x1="422.5" y1="460.3" x2="422.5" y2="553.7" stroke="#2a2a2a" stroke-width="1.5"/>
<line x1="420.7" y1="553.2" x2="422.5" y2="553.2" stroke="#333" stroke-width="0.9"/>
<text x="417.3" y="555.2" class="tk">-2</text>
<line x1="420.7" y1="543.0" x2="422.5" y2="543.0" stroke="#333" stroke-width="0.9"/>
<text x="417.3" y="545.0" class="tk">-1</text>
<line x1="420.7" y1="532.7" x2="422.5" y2="532.7" stroke="#333" stroke-width="0.9"/>
<text x="418.1" y="534.7" class="tk">0</text>
<line x1="420.7" y1="522.4" x2="422.5" y2="522.4" stroke="#333" stroke-width="0.9"/>
<text x="418.1" y="524.4" class="tk">1</text>
<line x1="420.7" y1="512.2" x2="422.5" y2="512.2" stroke="#333" stroke-width="0.9"/>
<text x="418.1" y="514.2" class="tk">2</text>
<line x1="420.7" y1="501.9" x2="422.5" y2="501.9" stroke="#333" stroke-width="0.9"/>
<text x="418.1" y="503.9" class="tk">3</text>
<line x1="420.7" y1="491.6" x2="422.5" y2="491.6" stroke="#333" stroke-width="0.9"/>
<text x="418.1" y="493.6" class="tk">4</text>
<line x1="420.7" y1="481.4" x2="422.5" y2="481.4" stroke="#333" stroke-width="0.9"/>
<text x="418.1" y="483.4" class="tk">5</text>
<line x1="420.7" y1="471.1" x2="422.5" y2="471.1" stroke="#333" stroke-width="0.9"/>
<text x="418.1" y="473.1" class="tk">6</text>
<line x1="420.7" y1="460.8" x2="422.5" y2="460.8" stroke="#333" stroke-width="0.9"/>
<text x="418.1" y="462.8" class="tk">7</text>
<line x1="376.2" y1="144.6" x2="406.1" y2="144.6" stroke="#111" stroke-width="1.30"/><polygon points="412.8,144.6 405.1,148.3 405.1,140.9" fill="#111"/>
<line x1="376.2" y1="275.0" x2="406.1" y2="275.0" stroke="#111" stroke-width="1.30"/><polygon points="412.8,275.0 405.1,278.7 405.1,271.3" fill="#111"/>
<line x1="376.2" y1="392.2" x2="406.1" y2="392.2" stroke="#111" stroke-width="1.30"/><polygon points="412.8,392.2 405.1,395.9 405.1,388.5" fill="#111"/>
<line x1="376.2" y1="513.0" x2="406.1" y2="513.0" stroke="#111" stroke-width="1.30"/><polygon points="412.8,513.0 405.1,516.7 405.1,509.3" fill="#111"/>
<rect x="16.80" y="579.8" width="12.18" height="11.5" fill="#4cc832" shape-rendering="crispEdges"/>
<rect x="28.38" y="579.8" width="12.18" height="11.5" fill="#4ac430" shape-rendering="crispEdges"/>
<rect x="39.97" y="579.8" width="12.18" height="11.5" fill="#48be2e" shape-rendering="crispEdges"/>
<rect x="51.55" y="579.8" width="12.18" height="11.5" fill="#3f9a2a" shape-rendering="crispEdges"/>
<rect x="63.13" y="579.8" width="12.18" height="11.5" fill="#357a24" shape-rendering="crispEdges"/>
<rect x="74.72" y="579.8" width="12.18" height="11.5" fill="#060404" shape-rendering="crispEdges"/>
<rect x="86.30" y="579.8" width="12.18" height="11.5" fill="#060404" shape-rendering="crispEdges"/>
<rect x="97.88" y="579.8" width="12.18" height="11.5" fill="#7a1a28" shape-rendering="crispEdges"/>
<rect x="109.47" y="579.8" width="12.18" height="11.5" fill="#c41838" shape-rendering="crispEdges"/>
<rect x="121.05" y="579.8" width="12.18" height="11.5" fill="#d81a40" shape-rendering="crispEdges"/>
<rect x="132.63" y="579.8" width="12.18" height="11.5" fill="#ec1a48" shape-rendering="crispEdges"/>
<rect x="144.22" y="579.8" width="11.58" height="11.5" fill="#ee1a48" shape-rendering="crispEdges"/>
<text class="lg" transform="translate(25.3,572.6) rotate(-90)">-6</text>
<text class="lg" transform="translate(37.2,572.6) rotate(-90)">-5</text>
<text class="lg" transform="translate(49.0,572.6) rotate(-90)">-4</text>
<text class="lg" transform="translate(60.9,572.6) rotate(-90)">-3</text>
<text class="lg" transform="translate(72.8,572.6) rotate(-90)">-2</text>
<text class="lg" transform="translate(84.6,572.6) rotate(-90)">-1</text>
<text class="lg" transform="translate(96.5,572.6) rotate(-90)">1</text>
<text class="lg" transform="translate(108.4,572.6) rotate(-90)">2</text>
<text class="lg" transform="translate(120.3,572.6) rotate(-90)">3</text>
<text class="lg" transform="translate(132.1,572.6) rotate(-90)">4</text>
<text class="lg" transform="translate(144.0,572.6) rotate(-90)">5</text>
<text class="lg" transform="translate(155.9,572.6) rotate(-90)">6</text>
<text x="58.0" y="616.5" class="path" style="font-size:11.7px">Fold Change</text>
</svg></body></html>
